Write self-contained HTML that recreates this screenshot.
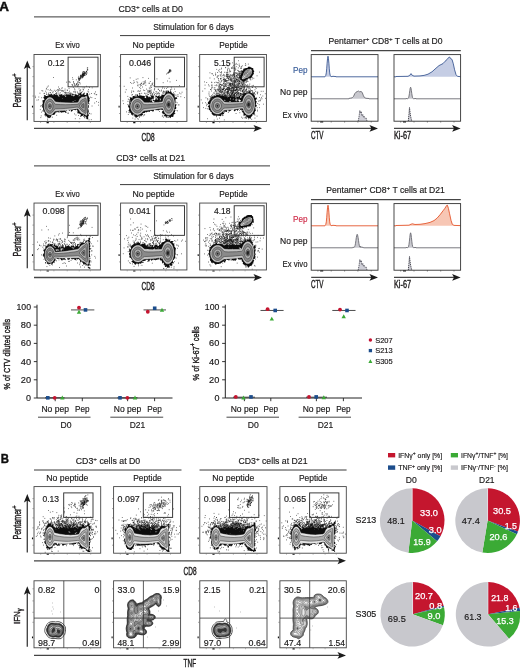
<!DOCTYPE html>
<html><head><meta charset="utf-8"><title>Figure</title>
<style>html,body{margin:0;padding:0;background:#fff}svg{display:block}text{font-family:"Liberation Sans",sans-serif}</style>
</head><body>
<svg width="520" height="670" viewBox="0 0 520 670" font-family="Liberation Sans, sans-serif">
<defs><filter id="fb" x="-5%" y="-5%" width="110%" height="110%"><feGaussianBlur stdDeviation="0.22"/></filter><filter id="gb" filterUnits="userSpaceOnUse" x="0" y="0" width="520" height="670"><feGaussianBlur stdDeviation="0.28"/></filter></defs>
<rect width="520" height="670" fill="#fff"/>
<g filter="url(#gb)">
<g filter="url(#fb)">
<path d="M69.5 93.8h0.7M67.3 90.3h0.7M51.4 114.9h0.7M84.0 117.4h0.7M72.8 94.5h0.7M74.1 88.9h0.7M94.8 98.5h0.7M72.4 94.2h0.7M46.2 115.5h0.7M62.3 90.8h0.7M70.8 93.8h0.7M96.4 94.6h0.7M75.4 85.7h0.7M52.9 91.8h0.7M72.9 87.4h0.7M80.3 95.7h0.7M58.7 94.7h0.7M89.3 87.4h0.7M86.3 86.3h0.7M64.8 95.6h0.7M78.3 115.5h0.7M86.4 94.4h0.7M38.0 99.8h0.7M76.6 109.4h0.7M75.6 115.0h0.7M78.3 93.5h0.7M89.3 113.5h0.7M41.6 90.6h0.7M52.2 92.3h0.7M42.1 110.9h0.7M55.8 90.4h0.7M75.2 91.8h0.7M68.7 88.6h0.7M66.4 112.2h0.7M51.9 117.2h0.7M72.4 95.0h0.7M46.9 87.1h0.7M93.9 93.4h0.7M47.0 116.4h0.7M65.4 92.3h0.7M66.9 92.8h0.7M87.6 91.2h0.7M75.7 84.8h0.7M67.5 107.0h0.7M50.1 89.4h0.7M47.1 119.1h0.7M43.1 108.9h0.7M40.8 115.9h0.7M70.2 93.1h0.7M89.4 94.1h0.7M41.0 112.2h0.7M58.6 93.3h0.7M91.1 93.5h0.7M46.0 94.3h0.7M91.7 106.0h0.7M86.9 108.2h0.7M74.0 113.9h0.7M91.5 97.6h0.7M47.7 89.7h0.7M74.6 89.9h0.7M98.0 105.2h0.7M82.7 87.9h0.7M53.4 95.0h0.7M73.6 101.7h0.7M67.8 112.9h0.7M59.1 88.6h0.7M43.0 109.4h0.7M58.1 87.0h0.7M46.0 88.4h0.7M81.4 92.4h0.7M56.4 115.3h0.7M88.8 103.9h0.7M41.0 105.7h0.7M80.4 89.8h0.7M65.2 93.2h0.7M34.9 96.2h0.7M78.7 88.9h0.7M65.5 95.0h0.7M65.7 93.9h0.7M90.7 113.9h0.7M59.0 112.0h0.7M71.8 94.1h0.7M48.3 94.4h0.7M46.5 94.3h0.7M79.5 118.7h0.7M58.5 89.3h0.7M84.0 87.8h0.7M72.1 94.4h0.7M57.1 89.6h0.7M55.6 112.5h0.7M73.2 91.8h0.7M88.7 119.8h0.7M64.2 94.7h0.7M88.1 114.3h0.7M50.8 94.0h0.7M61.8 87.7h0.7M65.8 94.4h0.7M36.6 100.1h0.7M83.0 89.9h0.7M72.9 94.7h0.7M98.2 102.4h0.7M55.2 93.6h0.7M56.0 93.2h0.7M52.7 94.2h0.7M91.8 87.8h0.7M74.5 94.6h0.7M66.8 90.1h0.7M69.2 93.0h0.7M84.4 95.1h0.7M80.2 90.8h0.7M55.6 94.1h0.7M50.2 92.6h0.7M44.3 93.4h0.7M51.4 95.1h0.7M45.9 92.8h0.7M53.9 90.3h0.7M90.9 119.6h0.7M56.5 93.5h0.7M74.2 91.9h0.7M76.9 91.9h0.7M50.0 117.2h0.7M68.2 94.2h0.7M65.8 92.6h0.7M83.9 93.0h0.7M49.7 90.4h0.7M65.2 95.4h0.7M40.5 117.6h0.7M39.6 93.2h0.7M64.6 90.8h0.7M66.7 94.1h0.7M61.6 90.6h0.7M40.1 106.1h0.7M79.1 96.3h0.7M68.1 92.7h0.7M57.6 90.8h0.7M64.7 89.1h0.7M51.5 90.7h0.7M38.5 97.0h0.7M61.5 88.7h0.7M88.4 92.0h0.7M67.7 113.5h0.7M59.2 90.2h0.7M68.2 95.1h0.7M48.0 93.2h0.7M47.4 120.1h0.7M41.4 97.7h0.7M48.2 94.8h0.7M45.9 89.1h0.7M82.4 91.4h0.7M76.9 111.5h0.7M49.7 92.7h0.7M45.4 91.2h0.7M81.3 92.4h0.7M86.4 93.7h0.7M95.8 94.7h0.7M45.3 115.7h0.7M47.9 86.0h0.7M74.9 118.7h0.7M82.8 89.5h0.7M95.1 91.9h0.7M58.3 90.3h0.7M63.0 90.9h0.7M62.5 94.3h0.7M60.1 90.1h0.7M35.2 97.6h0.7M79.1 94.3h0.7M88.8 113.2h0.7M64.0 92.8h0.7M45.6 116.1h0.7M59.9 92.8h0.7M78.6 94.4h0.7M79.2 90.9h0.7M69.3 91.2h0.7M88.1 89.6h0.7M72.6 94.6h0.7M65.0 112.5h0.7M62.8 91.7h0.7M72.0 102.1h0.7M71.4 110.3h0.7M61.4 91.0h0.7M66.2 82.2h0.7M84.6 117.9h0.7M51.6 96.3h0.7M53.3 77.5h0.7M81.8 77.6h0.7M39.9 109.6h0.7M59.9 99.2h0.7M72.4 84.8h0.7M79.5 82.7h0.7M72.3 85.3h0.7M77.6 84.8h0.7M73.3 81.6h0.7M77.0 86.4h0.7M73.9 85.4h0.7M78.3 85.9h0.7M74.3 84.7h0.7M78.0 84.5h0.7M77.7 82.5h0.7M72.2 77.7h0.7M76.4 83.6h0.7M77.3 81.9h0.7M76.3 84.0h0.7M73.1 82.2h0.7M69.8 82.3h0.7M72.6 79.4h0.7M68.8 82.1h0.7M79.8 83.9h0.7M68.7 81.4h0.7M76.2 84.5h0.7M73.6 83.3h0.7M71.6 84.7h0.7M78.9 82.4h0.7M74.1 83.7h0.7M76.8 85.4h0.7M77.5 83.6h0.7M48.9 94.8h0.7M57.2 95.9h0.7M75.0 92.9h0.7M56.3 96.3h0.7M96.1 101.6h0.7M68.5 97.7h0.7M71.2 97.1h0.7M60.6 96.7h0.7M68.4 96.4h0.7M78.3 94.7h0.7M70.7 93.1h0.7M69.8 94.3h0.7M68.4 97.3h0.7M76.4 98.8h0.7M69.1 99.7h0.7M57.0 102.3h0.7M52.1 97.2h0.7M67.6 95.7h0.7M78.0 94.9h0.7M62.0 96.9h0.7M57.7 96.8h0.7M64.1 99.8h0.7M72.5 95.5h0.7M67.4 99.7h0.7M46.4 98.1h0.7M78.6 93.2h0.7M43.7 93.4h0.7M55.0 91.5h0.7M70.7 94.7h0.7M53.0 97.4h0.7M68.8 96.5h0.7M66.1 100.3h0.7M84.2 99.4h0.7M87.7 100.0h0.7M74.7 96.1h0.7M77.3 92.9h0.7M69.6 97.7h0.7M57.8 98.2h0.7M70.4 94.3h0.7M57.7 91.9h0.7M65.1 99.4h0.7M54.3 97.4h0.7M56.4 92.7h0.7M76.7 97.5h0.7M45.6 99.0h0.7M64.7 92.5h0.7M94.5 94.0h0.7M79.6 99.5h0.7M79.5 93.1h0.7M77.4 102.7h0.7M54.6 101.3h0.7M79.4 97.3h0.7M58.6 97.6h0.7M90.1 97.2h0.7M75.3 96.3h0.7M42.5 91.0h0.7M94.4 103.0h0.7M80.6 97.3h0.7M60.7 102.1h0.7M70.3 100.7h0.7M86.1 74.2h0.7M78.3 78.1h0.7M84.1 75.2h0.7M84.1 71.9h0.7M81.1 75.0h0.7M82.2 74.3h0.7M83.0 71.5h0.7M82.2 73.9h0.7M83.5 74.6h0.7M79.6 79.1h0.7M82.8 74.5h0.7M79.8 77.9h0.7M83.7 73.8h0.7M86.0 71.6h0.7M87.5 69.8h0.7M87.4 67.8h0.7M83.5 72.5h0.7M85.3 72.4h0.7M81.9 76.7h0.7M83.1 73.6h0.7M86.7 73.0h0.7M83.4 75.2h0.7M86.9 69.1h0.7M79.2 80.0h0.7M75.9 79.8h0.7M83.1 75.6h0.7M83.6 73.6h0.7M83.2 75.8h0.7M83.1 76.9h0.7M83.6 73.3h0.7M82.2 77.8h0.7M82.1 73.9h0.7M84.9 73.3h0.7M80.0 78.9h0.7M80.3 76.4h0.7M81.9 74.1h0.7M82.8 74.7h0.7M83.1 73.6h0.7M81.2 76.1h0.7M78.6 79.7h0.7M78.1 79.0h0.7M78.9 78.4h0.7M81.8 75.8h0.7M78.9 80.4h0.7M84.4 73.9h0.7M81.3 77.9h0.7M80.3 75.9h0.7M85.9 71.6h0.7M81.5 75.8h0.7M83.4 75.9h0.7M81.2 76.2h0.7M81.0 76.0h0.7M85.2 73.7h0.7M80.4 77.6h0.7M77.9 77.8h0.7M82.3 74.5h0.7M86.0 74.6h0.7M83.8 75.5h0.7M82.6 75.0h0.7M80.7 77.0h0.7M83.7 71.5h0.7M84.2 75.2h0.7M83.9 74.5h0.7M80.7 76.1h0.7M82.5 74.3h0.7M83.7 73.7h0.7M84.5 73.0h0.7M78.1 78.7h0.7M80.0 78.3h0.7M82.5 72.3h0.7M82.0 77.0h0.7M80.0 75.2h0.7M82.3 75.3h0.7M82.5 74.5h0.7M79.1 78.9h0.7M84.2 73.6h0.7M82.4 75.1h0.7M82.6 76.5h0.7M81.8 76.6h0.7M82.4 72.2h0.7M78.7 79.8h0.7M82.6 76.3h0.7M86.8 70.5h0.7M79.2 79.9h0.7M86.5 72.0h0.7M82.2 77.0h0.7M79.0 78.2h0.7M85.8 73.5h0.7M87.0 69.5h0.7M78.8 78.3h0.7M82.8 74.9h0.7M83.3 74.3h0.7M82.5 73.9h0.7M78.5 76.4h0.7M83.7 74.9h0.7M80.1 76.7h0.7M82.6 75.4h0.7M80.5 77.4h0.7M82.1 75.0h0.7M85.7 72.3h0.7M82.8 75.5h0.7M78.3 81.1h0.7M80.3 75.6h0.7M85.1 75.1h0.7M86.9 67.8h0.7M80.3 78.1h0.7M84.2 72.7h0.7M82.6 75.1h0.7M84.3 72.8h0.7M86.1 71.4h0.7" stroke="#111" stroke-width="0.75" fill="none"/>
<path d="M88.0 119.2l-1 0l-.5-.2l-.2-.5l0-1l-.6-1l-.2-.1l-.5 .2l-.5 0l-1 .2l-.2-.3l0-.5l.2-.2l.3-.8l-.3-.4l-.5 .4l-.1 .5l-.4 .4l-1 .1l-.1 .5l-.4 .3l-.5 0l-.4-.3l.1-.5l.8-1.1l0-.6l-1-.1l-1-.9l-1 .3l-.2-.1l-.4-.5l0-.5l.2-.5l.5-.5l-1.2-1.5l-.1-.5l-.3-.2l-.3 .2l-.2 .5l-.5 .3l-1-.4l-1 0l-.5 .1l-.6 1l-1.4 .7l-.1-.2l0-1l-.4-.6l-.5 .2l-.5 .8l-.5-.1l-.5-.7l-1-.5l-.3 .4l0 .5l-.2 .4l-.5 0l-.5-.8l-.5 .1l-.2 .3l.2 .2l.5 1l.4 .3l-.4 .4l-1-.1l-.4-.3l-.1-.2l-.1 .2l-.9 .3l-1-.1l-1 .5l-.5-.1l-1.5-1l-.5-.7l-.1 1.1l-.4 .5l-1.3-.5l-.2-.5l-.2 .5l-1.4 .5l-.3 1.5l-.6 .5l-1 .4l-.5-.1l-1.5 .1l-.4 1.1l0 1l-1.1-.1l-.5-.5l-.5-.1l0 .3l.5 0l.7 .9l-.7 .5l-.5 .2l-.4-.2l-.6-.6l-.5 0l-.5-.2l-.1-.2l.1-.5l-1-1l-.5-.2l-.5 .1l-.5-.1l-.2-.3l.6-1l0-.5l-.1-.5l-.3-.4l-.5-.1l.5-.1l.3-.4l-.8-.6l-.5 .2l-.5-.6l.5-.5l-.1-.5l-.5-2l-.7-1l-.1-.5l.3-1l-.4-.5l.2-.5l.5-.5l.1-1l-.1-1l-.2-1l0-.5l.5-.4l.5 .1l.6-.2l.3-.5l0-.5l-.9-1l0-1l.7-.5l.3-.5l-.8-1l.3-.2l.5 .1l.5 .4l.5 .2l.8 .5l.7 .1l1-.6l.5-.1l.7-.9l1.8-.3l.5-.4l.3 .2l.2 .5l.5 .4l.5 .3l.5 0l0-.2l.8-1l.2-.1l.5 .3l.5 .7l.5-.2l.5-.4l.7 .2l.4 .5l.4 .9l.6 .6l.4 .1l.5-.1l0-.5l-.8-.5l0-.5l.3-.4l.5 .2l.5 0l1-.6l.5-.1l.6 .4l-.2 .5l.6 .3l.5 0l1-.4l1.1 1.1l.4 .9l.6-.4l.1-.5l-.4-1l.7-.6l.5-.1l.7 .2l.2 .5l.1 .1l1 0l.2-.6l.8-.1l.5 .2l1 .9l1 .6l1 .2l1.1-.3l.1-.5l-.1-.5l.1-.5l.3-.3l.5 0l1 .2l.5 .6l.5 .3l.5-.8l1 1l-.3 .5l.1 .5l.2 .1l1.6-1.1l-.1-.3l-1 .3l-.5-.2l-.2-.3l.2-.1l.7-1.9l.8-.5l.5 .2l.4 .3l-.1 1l.2 .5l.5 .1l.5-.2l.5-.8l1-.4l.5-.5l.3 .3l-.1 .5l-.4 .5l-.1 .5l.3 .6l1.5-.1l.5-.4l.4-.6l-.2-1l.3-.3l.6 .3l.4 .5l.3 1.5l0 1l.5 .5l.7 1.5l.4 .5l-.6 1l.4 1l-.1 .5l-.8 1l-.1 .5l.4 1l-.1 .2l-1 .1l-.1 .2l.1 .6l.8 .9l-.1 1l.3 .5l-.1 .5l-.4 .1l-.4 .4l-.1 .5l.3 .5l.1 .5l-.2 .5l.5 .5l.2 .5l-.5 1.5l-.1 .5l-.5 1l.1 .5l.6 .1l.4 .9l-.3 .5l-.6 .5l.2 .5l-.1 1l.2 1zM47.5 94.7l-.1-.7l.1-.1l.1 .1zM73.0 94.5l-.2-.5l.2-.2l.4 .2zM68.5 94.7l-.2-.2l.2-.2l.4 .2zM52.0 95.0l-.7 0l.2 .3zM55.7 96.5l-.6 0l.4 .1zM62.5 99.0l.1-.5l-.1-.4l-.3 .4zM60.1 99.5l-.6 0l.5 .1zM57.0 100.0l0 .1zM75.4 100.5l-.4-.5l-.3 .5l.3 .4zM60.5 101.5l-.5-.2l-.1 .2l.1 .1zM73.6 101.5l-.1-.4l-.5 0l-.5 .3l-.5 .1l1 .3l.5 0zM69.1 105.0l-.3 0l.2 .2zM87.1 108.0l-.1 .1zM64.6 111.0l-.1-.5l0 .8zM62.0 113.1l-.1-.1l.1-.1zM54.6 113.5l-.1-.1l-.1 .1l.1 .1zM53.0 115.6l0-.3l.2 .2zM53.0 117.7l-.3-.2l.3-.1l.1 .1z" fill="#0c0c0c"/>
<path d="M86.5 115.4l-.5-.1l-2-1.5l-.5-.2l-1.5-.4l-1-.5l-.5-.5l-.6-.7l-1.4-2.5l-.5-.3l-.5-.1l-1 .1l-7 1l-4 .6l-4 .3l-6 .5l-.5 .1l-.5 .4l-1.7 1.9l-.8 .7l-.5 .2l-.5 .3l-1 .2l-1-.1l-.5-.2l-1-.5l-.5-.4l-.6-.7l-1-1.5l-.6-1.5l-.5-2l-.1-1.5l.1-2l.5-2l.3-1l.5-1l.7-1l.7-.8l.5-.4l1-.5l.5-.2l1 0l1 .1l1 .5l1 .9l1.5 2l.5 .5l.5 .3l.5 .2l4 .4l5.5 .3l5.5 .1l6-.1l.5-.1l.5-.2l.5-.5l1.1-2.5l.6-1l.8-.8l.5-.3l.5-.2l.5-.1l.5 0l1 .1l.5 0l.5-.2l1-.7l.5-.1l.3 .3l.2 1l.4 5.5l.1 2l-.1 2l-.3 4l-.1 3l-.2 1z" fill="#c2c2c2" stroke="#f2f2f2" stroke-width="0.4"/>
<path d="M86.0 113.2l-.5 .3l-.5-.3l-1.5-1.1l-1.6-1.1l-.9-.8l-1.8-2.2l-.7-.5l-.5-.3l-1-.1l-7.4 .9l-4.1 .4l-3.5 .2l-6.5 .2l-.5 .2l-.5 .3l-2 2.7l-1 .8l-1 .4l-1 .1l-.5-.1l-1-.5l-1-.9l-.8-1.3l-.4-1l-.4-1.5l-.2-1.5l.1-1.5l.3-1.5l.3-1l.5-1l.6-.9l.5-.5l1-.7l.5-.2l1-.1l1 .2l1 .7l1 1.1l1.5 2.4l.5 .5l.5 .2l.5 .1l4.5 .3l5 .1l5-.1l6.5-.3l1-.2l.5-.3l.5-.3l.5-.5l.3-.5l.9-1.5l.8-1l.5-.3l2-.8l1.5-.8l.5 .2l.2 .7l.3 5l0 2.5l-.3 5l0 1z" fill="#8a8a8a" stroke="#2a2a2a" stroke-width="0.5"/>
<path d="M84.5 110.7l-.5-.1l-.5-.4l-1.5-1.3l-1.8-1.9l-.4-.5l-.3-.5l0-.5l.3-.5l1.7-2l1-.9l1-.8l.5-.4l.5-.1l.3 .2l.2 .5l.2 1.5l0 2.5l-.1 2.5l-.1 1.9l-.2 .6zM51.0 110.6l-.5 .3l-.5 .1l-.5 0l-.5-.2l-.5-.2l-.5-.5l-.5-.7l-.4-.9l-.3-1l-.1-1l0-1l.2-1l.3-1l.6-1l.5-.5l.7-.4l.5-.2l.5 0l.5 .1l.5 .3l.5 .4l.5 .6l.4 .7l.5 1.5l.1 1.5l-.2 1.5l-.4 1l-.4 .7l-.5 .6z" fill="#adadad" stroke="#2a2a2a" stroke-width="0.5"/>
<path d="M83.5 108.0l-.5-.1l-.5-.3l-1-1.1l-.2-.5l0-.5l.3-.5l.4-.5l.5-.5l.5-.4l.5-.1l.3 .5l.1 .5l.1 1l-.1 1.5l-.1 .5zM50.0 108.7l-.5-.1l-.5-.3l-.3-.3l-.3-.5l-.1-.5l-.1-1l.1-.5l.2-.7l.5-.7l.5-.3l.5-.1l.5 .2l.5 .6l.2 .5l.2 1l0 1l-.4 .9l-.5 .6z" fill="#787878" stroke="#2a2a2a" stroke-width="0.5"/>
<path d="M50.0 107.1l-.5-.1l-.2-.5l0-.5l.2-.6l.5-.1l.2 .2l.2 .5l0 .5z" fill="#222"/>
</g>
<path d="M32.4 66.6h1.3M32.4 76.6h1.3M32.4 86.0h1.3M32.4 96.0h1.3M32.4 113.5h1.3M40.6 122.0v0.9M53.9 122.0v0.9M67.2 122.0v0.9M79.2 122.0v0.9M90.4 122.0v0.9" stroke="#555" stroke-width="0.5"/>
<path d="M32.5 105.8v1.8M46.6 122.6h2.2" stroke="#111" stroke-width="1.1"/>
<g filter="url(#fb)">
<path d="M155.1 98.0h0.7M123.0 103.6h0.7M165.8 90.9h0.7M140.4 88.6h0.7M146.1 96.1h0.7M149.7 91.5h0.7M150.4 100.4h0.7M152.9 100.2h0.7M147.0 91.9h0.7M151.1 87.5h0.7M152.3 94.3h0.7M130.1 82.5h0.7M177.8 96.3h0.7M142.2 87.0h0.7M158.2 89.4h0.7M180.5 96.7h0.7M176.8 102.8h0.7M130.0 112.5h0.7M164.6 93.1h0.7M162.6 86.9h0.7M160.7 96.4h0.7M150.6 94.6h0.7M162.8 82.7h0.7M181.7 92.2h0.7M130.1 99.2h0.7M133.8 115.0h0.7M173.6 93.8h0.7M150.7 86.0h0.7M148.1 94.4h0.7M168.8 78.3h0.7M132.2 115.2h0.7M139.0 116.5h0.7M149.9 90.5h0.7M175.6 110.5h0.7M135.8 94.8h0.7M153.6 92.8h0.7M164.3 91.8h0.7M145.0 95.1h0.7M150.6 100.2h0.7M150.3 95.7h0.7M146.6 93.3h0.7M127.9 114.5h0.7M170.9 87.3h0.7M177.6 94.6h0.7M153.9 90.0h0.7M162.1 88.1h0.7M173.0 92.7h0.7M163.4 91.0h0.7M153.2 92.1h0.7M122.6 100.8h0.7M159.7 96.6h0.7M137.5 118.4h0.7M124.9 92.1h0.7M137.5 91.2h0.7M148.0 100.6h0.7M153.0 98.6h0.7M142.0 114.1h0.7M147.9 90.8h0.7M128.8 112.6h0.7M144.4 114.8h0.7M157.8 89.2h0.7M177.1 110.8h0.7M132.5 118.1h0.7M135.5 117.6h0.7M152.5 93.9h0.7M129.6 97.4h0.7M130.8 102.4h0.7M128.6 110.8h0.7M139.7 93.9h0.7M179.2 93.0h0.7M151.0 92.0h0.7M176.8 96.2h0.7M170.2 90.4h0.7M174.1 89.1h0.7M144.4 93.2h0.7M140.9 95.6h0.7M185.9 89.1h0.7M149.9 87.1h0.7M131.0 91.1h0.7M164.1 88.3h0.7M128.8 99.7h0.7M155.0 96.7h0.7M151.3 100.6h0.7M146.2 89.1h0.7M159.0 90.5h0.7M156.3 94.9h0.7M180.6 93.8h0.7M134.1 96.2h0.7M178.7 104.9h0.7M130.9 113.4h0.7M149.7 93.4h0.7M139.3 91.3h0.7M132.8 91.0h0.7M125.8 89.7h0.7M148.7 91.4h0.7M148.9 88.0h0.7M142.8 115.8h0.7M157.1 93.8h0.7M132.0 94.5h0.7M163.5 92.1h0.7M133.8 115.8h0.7M167.2 81.0h0.7M144.7 93.4h0.7M166.0 91.3h0.7M133.4 91.6h0.7M170.2 89.6h0.7M154.4 88.8h0.7M162.6 92.3h0.7M184.3 97.6h0.7M153.0 98.6h0.7M137.8 119.3h0.7M167.5 87.4h0.7M130.7 112.3h0.7M154.2 89.0h0.7M161.9 116.2h0.7M135.0 95.0h0.7M158.2 92.8h0.7M161.0 90.1h0.7M164.7 116.4h0.7M156.6 92.2h0.7M149.3 90.4h0.7M131.0 113.2h0.7M151.2 93.0h0.7M148.4 92.3h0.7M165.5 91.7h0.7M155.2 99.5h0.7M159.4 96.5h0.7M175.6 95.1h0.7M155.3 95.9h0.7M141.4 93.3h0.7M150.0 93.4h0.7M149.4 91.9h0.7M166.4 91.7h0.7M152.7 100.4h0.7M138.9 93.4h0.7M128.7 112.6h0.7M138.1 90.9h0.7M174.8 91.6h0.7M155.4 93.4h0.7M139.0 117.4h0.7M162.5 115.7h0.7M149.7 88.8h0.7M166.0 88.5h0.7M163.3 117.2h0.7M155.7 91.5h0.7M144.4 90.5h0.7M161.4 91.0h0.7M139.2 93.8h0.7M165.7 92.7h0.7M177.9 104.9h0.7M154.3 94.3h0.7M143.1 90.1h0.7M169.7 81.9h0.7M126.2 111.9h0.7M163.0 91.6h0.7M148.8 92.0h0.7M136.6 96.7h0.7M127.6 101.4h0.7M146.5 95.5h0.7M131.0 92.6h0.7M136.1 96.1h0.7M174.5 97.5h0.7M150.9 90.1h0.7M162.5 93.2h0.7M161.3 95.1h0.7M159.6 91.1h0.7M174.5 95.1h0.7M156.7 93.5h0.7M139.2 94.1h0.7M127.5 96.4h0.7M158.5 93.7h0.7M127.5 104.6h0.7M135.4 96.1h0.7M147.7 94.5h0.7M158.8 95.6h0.7M152.0 94.0h0.7M158.9 95.0h0.7M146.8 95.0h0.7M154.3 94.9h0.7M127.9 99.2h0.7M171.4 89.1h0.7M150.0 92.1h0.7M143.8 114.8h0.7M131.5 95.0h0.7M140.1 90.9h0.7M147.5 90.3h0.7M134.7 119.1h0.7M163.0 93.9h0.7M149.4 91.2h0.7M179.1 85.6h0.7M159.0 93.4h0.7M159.1 111.5h0.7M144.5 81.3h0.7M156.6 78.9h0.7M150.6 103.7h0.7M138.6 106.2h0.7M176.3 80.4h0.7M132.1 88.0h0.7M173.9 110.4h0.7M140.0 86.0h0.7M151.7 83.8h0.7M141.1 83.3h0.7M143.0 83.8h0.7M148.3 78.4h0.7M136.6 81.8h0.7M123.8 86.3h0.7M139.4 87.5h0.7M150.6 85.6h0.7M135.8 79.3h0.7M148.8 83.0h0.7M142.8 81.9h0.7M149.9 81.5h0.7M145.4 82.9h0.7M131.5 83.4h0.7M144.1 83.1h0.7M137.4 82.8h0.7M152.8 85.8h0.7M137.6 78.8h0.7M143.6 84.0h0.7M140.2 84.1h0.7M145.5 85.3h0.7M133.1 83.1h0.7M141.0 85.3h0.7M152.3 84.0h0.7M152.5 83.0h0.7M137.1 85.2h0.7M134.2 82.3h0.7M148.8 83.5h0.7M145.1 80.9h0.7M133.5 80.7h0.7M137.7 85.9h0.7M144.6 82.2h0.7M129.8 77.9h0.7M151.8 84.6h0.7M140.0 84.8h0.7M142.6 77.6h0.7M141.2 83.3h0.7M138.7 84.7h0.7M142.6 84.3h0.7M168.4 72.2h0.7M168.6 72.2h0.7M170.7 71.1h0.7M168.9 70.3h0.7M170.5 70.3h0.7M167.6 72.5h0.7M169.5 71.5h0.7M169.1 71.7h0.7M169.0 70.5h0.7M167.4 73.4h0.7M169.5 72.4h0.7M169.6 69.5h0.7M169.0 70.1h0.7M166.2 74.0h0.7M169.2 71.3h0.7M168.1 72.1h0.7M168.3 73.0h0.7M169.4 70.6h0.7M169.8 70.4h0.7M169.8 71.2h0.7M169.8 71.2h0.7M170.0 70.2h0.7" stroke="#111" stroke-width="0.75" fill="none"/>
<path d="M170.6 118.3l-.1-.3l-1-.5l-.3-.5l0-.5l-.6-.3l-.5 .2l-1-.1l-.2 .2l0 .5l.2 .4l.5-.1l.5-.4l.5 .3l.2 .3l-.7 .4l-1-.4l-.5 .1l-.5-.1l-.5-.5l0-.6l1-.4l-2-.1l-.5-.2l-.1-.2l.2-.5l.4-.5l.1-.5l-1.1-.3l-.5 .7l-.4-.4l-.1-1l-.7-.5l-.1-.5l.8-.9l.5-.3l0-.4l-.5-.5l-2-.3l-.5 0l-2 .9l-.2 0l-.3-.4l-2 .1l-.5-.7l-.5 0l-.5 .5l-.1 .5l-.9 1.2l-.5-.2l-.5-.5l-.5 0l-1-.3l-.6 .3l-.1 .5l-.3 .6l-1-.3l-.5-.4l-1 .5l-.5 .1l-.5 .7l-.2-.2l-.3-1.1l-.2 .6l-.3 .2l-.5 .8l-.5-.1l-.5 .1l-1 .5l.1 .5l.3 .5l-.4 .4l-.5 .1l-1 1.6l-.4-.1l0-.5l-.4-.5l-.2-.1l-.2 .1l-.3 .3l-1 .2l-.4-.5l.1-.5l-.2-.5l-.6 0l-.7 .5l1.3 .5l.5 .5l-.2 .5l-.3 .3l-.5 .2l-.5-.2l-.2 .2l.3 .5l-1 0l-.5-.5l.5-.5l-.1 0l-.5 .4l-.5-.1l-.4-.3l-.3-.5l0-.5l.2-.5l-.5-.7l-.7 .2l-.3 .3l-1.5 .1l-.3-.4l-.2-1.5l-1.8-1.5l-.5-1l0-.5l.3-.6l.2-1.4l-.4-.5l-.3-.1l-.4-.4l-.1-1.5l.5-.4l.5 .3l.5-.1l.2-.3l-.2-.2l-.5-.2l-.5 .1l-.1-.2l.6-.3l.5-.7l1-.8l0-.3l-.4-.4l.1-1.5l-.2-.3l-.4-.2l.4-.5l.1-.5l-.3-.5l.4-1l.3-.4l.5 .4l.5 .2l.5-.1l.5 .6l.5 0l.1-.2l-.1-.1l-.5-.1l-.3-.3l.3-1l.5-.4l.5-.2l3.5 .9l.2-.3l-.3-.5l-.1-.5l0-1l.2-.3l.6 .3l.6 1.5l.3 .1l.5-.7l1-.5l.5 .6l1 .6l0-.1l1-.3l.5 .2l.5-.1l1.5 .7l.1 .5l-.8 .5l.2 .3l1.5 .4l.2-.2l-.1-.5l-.5-.5l-.1-.5l.5-.2l1-.3l1 .2l.3 .3l0 .5l.2 .2l.5 0l.5-.6l1.5 1.2l.1-.8l-.4-1l.3-.4l.5-.3l1 .1l.5-.1l.4 .2l0 .5l.6 .8l.3 .2l-.2 .5l-1.1 .5l-.5 1l-.5 .5l-1.5 .3l-.2 .2l.2 1.5l.1-.5l.9-.3l.5 .3l0 .5l1 1.3l1-.6l.2-.2l.1-.5l-.3-.3l-.5 .1l-.5-.3l-.2-.5l.2-.3l.4-.2l-.2-.5l.3-.2l.1 .7l.4 .3l.5 0l.6-.3l.6-.5l0-1l.3-.3l.5 0l.3 .3l-.2 1l.4 .2l.6-.2l.1-.5l-.2-.7l-.7-.3l-.3-.7l-.9-.8l.1-.5l.8-.2l1 .7l.5-.5l.5-.2l.6 .7l.4 .3l1-.2l.5-.3l.7-1.3l.3-.3l.5-.1l.5 .5l1 0l1.3-1.6l-.1-.5l1.3-1.4l.6 .4l.4 .6l.1-.6l-.5-1l.4-.4l.5-.1l.5 .2l.4 .3l.1 1l.6 0l.1-.5l.3-.3l.5 .1l.5-.1l.3 .3l-.4 .5l.7 .5l.8 1l.6 .2l.5 .5l.8 .3l-.2 .5l.6 1.5l.1 .5l-.3 .5l.5 .4l.4-.4l.1-.4l.5-.1l.7 .5l.5 1l-.7 .4l-.6 .1l-.6 .5l.2 .5l-.2 1l.2 1l-.1 .5l-.4 .5l.3 1.5l.2 .1l.5-.5l.4 .4l-.1 .5l-.6 1.5l0 .5l.5 .5l.1 .5l-.5 1l-1.3 .4l-1 .1l.5 .1l.8 .9l.2 1.3l-.1 .2l-.6 .5l.1 .5l.1 .2l.5 0l.3 .3l-.2 .5l-.6 .3l-.5-.3l-.4 .5l.1 .5l-.2 .5l-.6 .5l.5 .5l-.4 .4l-1.5-.1l-.5 .2l-.3 .5l0 .5zM174.6 94.4l-.3-.4l.3-.2l.3 .2zM132.6 95.9l0-.4l.3 0zM154.6 98.1l0-.2zM160.2 100.5l.1-.5l.3-.1l.2-.4l-.7-1.2l-.3 .2l.2 1.5l-.2 .5l.3 .4zM148.1 100.5l0-.5zM129.6 103.5l-.6-.5l.2-.5l.4-.5l-.6-.5l0-.5l.1-.5l.5 .1l.2 .4l-.2 1l.5 .5l0 .5zM149.3 102.5l-.2-.6l-.2 .6l.2 .2zM176.1 102.6l-.3-.1l-.1-.5l.4-.2l.5 .2zM157.6 109.5l0 .4zM154.6 110.6l-.1-.1zM142.3 114.0l.2-.5l-.6 0l0 .5zM140.1 117.1l-.1-.1l.1-.3l.1 .3z" fill="#0c0c0c"/>
<path d="M169.1 115.1l-1 0l-1-.3l-1-.7l-.5-.4l-.6-.7l-.6-1l-.5-1l-.8-2.1l-.5-.6l-.5-.1l-1 .1l-9 1.4l-7.5 .8l-1 .3l-.5 .4l-1.2 1.3l-.8 .7l-1 .7l-.5 .2l-1 .3l-1 .1l-1 0l-1-.2l-1-.5l-1-.7l-.5-.4l-1-1.2l-.8-1.5l-.5-1.5l-.2-1.5l.1-2l.3-1.5l.4-1l.5-1l.7-1l1-1l.5-.4l1-.6l1-.3l1-.1l1.5 .1l1.5 .5l1 .7l.5 .4l2 2.3l.5 .4l1 .2l3 .1l4.5-.1l5.5-.3l3-.3l.8-.1l.2-.1l.5-.4l.3-.5l.5-2l.6-1.5l.9-1.5l.7-.9l1-.8l1-.5l1-.1l1 .1l1 .5l1 .8l1 1.3l.6 1.1l.6 1.5l.5 2l.2 2l.1 2l-.2 2l-.4 2l-.5 1.5l-.6 1.5l-.7 1l-1.1 1.1l-1 .7z" fill="#c2c2c2" stroke="#f2f2f2" stroke-width="0.4"/>
<path d="M169.6 113.0l-.5 .1l-1 0l-1-.3l-.5-.4l-.9-.9l-.6-1l-.5-1l-.5-1.5l-.5-.9l-.5-.4l-.5-.1l-1 .1l-5.8 .8l-4.1 .5l-6.6 .5l-1 .1l-.5 .2l-.5 .3l-2 2.3l-.7 .6l-.8 .5l-1 .4l-1 .2l-.5 0l-1-.2l-1-.4l-1-.7l-1-1.2l-.6-1.1l-.5-1.5l-.2-1l.1-1.5l.1-1l.3-1l.5-1l.7-1l.4-.5l.7-.5l1-.6l.5-.2l1-.2l1 .1l.5 .1l1 .4l.5 .3l.5 .4l.8 .7l1.7 2.4l.5 .4l.5 .2l.5 .1l2.5 .1l4.5-.2l5-.3l5.5-.6l.5-.2l.5-.2l.5-.7l.8-2.5l.3-1l.5-1l.9-1.2l.5-.4l1-.6l.5-.1l1 0l1 .3l.6 .5l.9 .9l.7 1.1l.6 1.5l.3 1.5l.2 1l.1 1.5l0 1.5l-.2 1.5l-.4 1.5l-.5 1.5l-.5 1l-.3 .5l-1 .9z" fill="#8a8a8a" stroke="#2a2a2a" stroke-width="0.5"/>
<path d="M169.6 110.1l-.5 .2l-.5 .1l-.5-.1l-.5-.2l-.7-.6l-.4-.5l-.6-1l-.9-2.5l-.1-.5l0-.5l.7-2.7l.3-.8l.5-1l.7-.9l.5-.4l.5-.2l.5 0l.5 0l.5 .2l.5 .4l.8 .9l.3 .5l.4 1l.3 2l0 1.5l-.1 1l-.5 2l-.4 1l-.3 .4l-.5 .4zM138.6 110.6l-.5 .2l-1 .1l-1-.3l-.5-.3l-.5-.4l-.7-.9l-.3-.5l-.3-1l-.2-1l.1-1l.2-1l.2-.5l.5-.8l.5-.5l.5-.4l1-.5l.5-.1l1 .1l1 .4l.5 .4l.5 .5l.6 .9l.3 .5l.3 1l.1 1l-.1 .5l-.1 .5l-.4 1l-.6 1l-.5 .5l-.6 .4z" fill="#adadad" stroke="#2a2a2a" stroke-width="0.5"/>
<path d="M169.6 107.5l-.5 .3l-.5 0l-.5-.2l-.5-.4l-.5-.7l-.3-.5l-.2-.5l-.1-.5l.1-1l.6-1.5l.4-.7l.4-.3l.6-.2l.5 0l.3 .2l.6 .5l.2 .5l.2 1l.1 1l-.2 1.5l-.2 .8zM138.1 108.5l-.5 .2l-.5-.1l-.5-.1l-.5-.5l-.4-.5l-.2-.5l0-1l.1-.5l.2-.5l.3-.5l.5-.3l.5-.2l.7 0l.3 .1l.5 .3l.5 .6l.2 .5l.1 1l-.2 1l-.6 .7z" fill="#787878" stroke="#2a2a2a" stroke-width="0.5"/>
<path d="M169.1 106.6l-.5 0l-.5-.2l-.5-.5l-.3-.9l0-.5l.3-.9l.5-.7l.5-.3l.5 .1l.3 .3l.2 .3l.2 .7l0 .5l-.1 1l-.2 .5zM137.6 107.2l-.5-.1l-.4-.6l0-.5l.4-.5l.5-.1l.6 .6l0 .5l-.1 .2l-.2 .3z" fill="#222"/>
</g>
<path d="M119.0 66.6h1.3M119.0 76.6h1.3M119.0 86.0h1.3M119.0 96.0h1.3M119.0 113.5h1.3M127.2 122.0v0.9M140.5 122.0v0.9M153.8 122.0v0.9M165.8 122.0v0.9M177.1 122.0v0.9" stroke="#555" stroke-width="0.5"/>
<path d="M119.1 105.8v1.8M133.2 122.6h2.2" stroke="#111" stroke-width="1.1"/>
<g filter="url(#fb)">
<path d="M251.8 90.6h0.7M250.4 92.3h0.7M220.0 90.5h0.7M205.6 97.8h0.7M250.1 118.3h0.7M265.3 98.4h0.7M259.0 97.5h0.7M207.4 108.8h0.7M239.8 93.7h0.7M228.6 95.8h0.7M256.9 92.3h0.7M254.8 94.4h0.7M238.2 96.1h0.7M263.2 104.2h0.7M243.2 86.2h0.7M218.1 95.2h0.7M248.1 118.9h0.7M237.1 93.5h0.7M210.8 96.9h0.7M258.0 101.2h0.7M233.7 110.0h0.7M222.6 89.4h0.7M213.9 89.5h0.7M216.9 119.1h0.7M207.3 98.6h0.7M238.8 89.1h0.7M223.9 119.9h0.7M260.0 94.7h0.7M247.8 86.6h0.7M221.9 94.2h0.7M238.3 94.7h0.7M252.4 93.1h0.7M208.8 95.1h0.7M240.7 94.4h0.7M206.0 105.7h0.7M231.6 83.8h0.7M237.3 110.5h0.7M204.6 88.7h0.7M220.1 87.6h0.7M242.3 94.3h0.7M260.4 99.1h0.7M218.7 89.7h0.7M237.5 87.1h0.7M219.6 89.9h0.7M225.0 85.7h0.7M220.0 92.7h0.7M241.3 117.2h0.7M232.4 93.6h0.7M231.9 93.0h0.7M218.7 87.1h0.7M240.1 93.7h0.7M205.5 108.4h0.7M253.1 85.4h0.7M255.4 91.5h0.7M244.1 87.5h0.7M202.4 91.1h0.7M243.1 114.7h0.7M210.5 96.8h0.7M232.4 96.4h0.7M242.0 91.6h0.7M237.9 92.9h0.7M212.8 96.7h0.7M257.1 111.0h0.7M228.1 93.2h0.7M261.6 98.8h0.7M224.7 96.4h0.7M251.9 92.1h0.7M246.3 89.5h0.7M224.2 86.5h0.7M241.3 94.2h0.7M254.6 89.8h0.7M222.2 115.6h0.7M240.5 95.7h0.7M218.8 91.7h0.7M254.6 115.1h0.7M217.1 89.6h0.7M234.0 95.5h0.7M242.6 89.0h0.7M218.7 87.9h0.7M206.4 104.1h0.7M207.4 99.8h0.7M222.3 94.9h0.7M257.4 103.5h0.7M237.8 99.8h0.7M221.2 85.8h0.7M235.3 93.5h0.7M225.7 92.8h0.7M249.8 90.2h0.7M236.1 95.0h0.7M244.0 88.1h0.7M217.6 90.7h0.7M236.7 101.7h0.7M225.8 85.8h0.7M215.1 95.1h0.7M235.5 90.3h0.7M217.3 93.4h0.7M228.3 87.7h0.7M212.4 94.4h0.7M224.3 95.2h0.7M240.3 93.7h0.7M233.4 90.5h0.7M242.5 90.6h0.7M226.6 95.3h0.7M222.7 115.5h0.7M246.4 88.2h0.7M219.2 118.1h0.7M228.7 94.9h0.7M231.6 95.2h0.7M235.9 86.1h0.7M256.8 107.7h0.7M221.5 93.1h0.7M245.7 117.5h0.7M246.1 91.8h0.7M221.4 94.0h0.7M227.3 93.2h0.7M213.8 120.1h0.7M239.2 110.3h0.7M225.2 90.0h0.7M240.4 93.2h0.7M241.9 91.3h0.7M239.2 99.2h0.7M209.5 96.5h0.7M236.6 92.5h0.7M255.3 108.3h0.7M242.8 93.0h0.7M224.6 100.6h0.7M231.0 90.2h0.7M215.6 94.0h0.7M256.7 116.1h0.7M234.0 93.3h0.7M212.0 96.5h0.7M253.2 93.2h0.7M230.0 101.9h0.7M245.6 116.4h0.7M243.6 115.6h0.7M244.7 90.4h0.7M234.7 85.6h0.7M254.2 93.2h0.7M257.1 110.1h0.7M260.0 100.7h0.7M215.9 85.7h0.7M258.8 104.7h0.7M240.6 94.0h0.7M253.9 93.0h0.7M223.0 89.4h0.7M213.9 95.9h0.7M256.9 93.2h0.7M223.2 94.2h0.7M236.8 92.0h0.7M240.7 95.4h0.7M220.0 95.0h0.7M235.7 92.4h0.7M236.3 95.1h0.7M205.0 102.7h0.7M218.0 93.7h0.7M237.0 100.1h0.7M245.2 117.5h0.7M236.2 96.9h0.7M234.0 94.3h0.7M243.8 117.8h0.7M207.5 104.5h0.7M241.5 86.2h0.7M219.4 88.6h0.7M215.4 90.6h0.7M223.8 93.0h0.7M254.6 118.1h0.7M200.8 99.9h0.7M259.4 100.8h0.7M242.2 118.2h0.7M224.6 93.0h0.7M218.7 95.0h0.7M234.0 89.3h0.7M202.2 103.0h0.7M241.3 110.2h0.7M221.4 95.2h0.7M236.0 99.0h0.7M238.8 89.6h0.7M213.0 93.0h0.7M233.8 94.7h0.7M243.6 93.0h0.7M264.9 93.7h0.7M235.7 113.5h0.7M237.2 94.9h0.7M222.2 84.4h0.7M262.5 96.0h0.7M236.8 94.3h0.7M247.9 91.4h0.7M226.2 88.5h0.7M257.1 93.8h0.7M207.1 118.7h0.7M254.4 95.1h0.7M235.9 89.5h0.7M232.9 91.1h0.7M235.8 98.8h0.7M203.3 107.6h0.7M208.9 105.1h0.7M254.2 93.0h0.7M229.3 96.0h0.7M239.5 112.7h0.7M209.9 104.3h0.7M238.7 102.5h0.7M227.9 112.5h0.7M231.6 94.7h0.7M240.3 95.3h0.7M236.0 97.2h0.7M220.9 89.3h0.7M224.0 112.3h0.7M259.2 107.6h0.7M232.1 86.9h0.7M226.1 106.6h0.7M220.0 99.0h0.7M255.1 87.4h0.7M249.1 77.3h0.7M255.5 99.3h0.7M214.2 101.4h0.7M242.7 87.1h0.7M204.0 81.9h0.7M251.4 119.3h0.7M235.8 80.5h0.7M239.7 78.0h0.7M252.0 71.4h0.7M227.6 89.5h0.7M227.4 88.3h0.7M234.3 82.4h0.7M228.0 74.5h0.7M240.3 76.0h0.7M243.1 79.0h0.7M241.0 88.6h0.7M227.1 93.1h0.7M231.7 100.2h0.7M230.0 84.7h0.7M236.6 84.3h0.7M241.9 82.1h0.7M231.7 84.6h0.7M217.7 85.7h0.7M232.9 78.2h0.7M232.7 96.9h0.7M237.8 80.2h0.7M231.2 80.8h0.7M238.4 83.5h0.7M227.1 69.6h0.7M217.1 72.5h0.7M234.3 70.3h0.7M241.0 86.3h0.7M227.1 70.6h0.7M237.6 81.2h0.7M253.5 78.3h0.7M234.4 94.4h0.7M220.6 84.6h0.7M219.3 84.1h0.7M232.2 95.8h0.7M237.5 75.1h0.7M240.4 71.9h0.7M229.2 87.3h0.7M232.4 94.5h0.7M235.1 78.4h0.7M235.1 72.8h0.7M221.6 80.1h0.7M238.9 80.2h0.7M241.0 68.5h0.7M230.6 79.7h0.7M224.2 95.8h0.7M235.3 90.1h0.7M243.4 69.0h0.7M220.6 88.5h0.7M224.8 79.2h0.7M232.5 87.2h0.7M233.2 95.9h0.7M229.5 76.9h0.7M230.5 78.7h0.7M234.5 80.7h0.7M227.3 74.5h0.7M225.1 83.4h0.7M229.2 77.2h0.7M238.5 77.9h0.7M221.0 68.1h0.7M220.0 79.1h0.7M240.0 73.8h0.7M227.3 77.6h0.7M230.0 80.1h0.7M235.7 82.8h0.7M240.5 78.6h0.7M229.6 63.2h0.7M220.1 72.6h0.7M219.7 94.3h0.7M220.1 78.7h0.7M236.6 89.1h0.7M241.2 71.2h0.7M241.4 72.9h0.7M233.9 88.9h0.7M212.9 95.9h0.7M241.2 75.7h0.7M237.7 85.3h0.7M226.9 96.7h0.7M220.7 87.3h0.7M234.6 81.5h0.7M238.2 93.0h0.7M231.6 88.3h0.7M233.5 92.6h0.7M215.5 91.3h0.7M221.2 71.6h0.7M240.8 84.3h0.7M235.6 82.7h0.7M232.7 85.6h0.7M228.9 89.0h0.7M216.4 69.4h0.7M250.5 79.9h0.7M236.4 84.2h0.7M256.7 75.8h0.7M232.8 68.0h0.7M219.5 81.1h0.7M220.0 78.4h0.7M227.1 91.1h0.7M224.7 81.2h0.7M224.1 80.8h0.7M233.6 82.1h0.7M237.3 87.3h0.7M237.9 85.6h0.7M244.7 80.0h0.7M239.4 75.1h0.7M238.6 95.4h0.7M234.4 93.8h0.7M241.2 72.8h0.7M231.5 81.0h0.7M224.6 80.0h0.7M231.7 75.1h0.7M247.0 87.1h0.7M238.1 71.0h0.7M234.1 84.3h0.7M224.5 79.6h0.7M227.9 90.9h0.7M227.2 77.0h0.7M211.5 85.4h0.7M239.3 73.7h0.7M236.9 100.2h0.7M231.8 92.8h0.7M228.0 76.4h0.7M250.6 90.6h0.7M245.4 104.8h0.7M237.2 76.6h0.7M220.2 96.2h0.7M244.7 85.6h0.7M247.2 77.8h0.7M234.1 76.5h0.7M245.8 81.7h0.7M245.6 90.1h0.7M250.6 72.8h0.7M233.6 80.4h0.7M238.3 93.0h0.7M227.7 76.8h0.7M220.3 99.3h0.7M222.7 91.6h0.7M228.6 77.8h0.7M228.2 78.9h0.7M231.8 84.3h0.7M234.7 85.2h0.7M225.9 81.1h0.7M245.5 65.1h0.7M233.3 74.8h0.7M218.6 84.0h0.7M231.9 78.4h0.7M228.6 87.5h0.7M224.1 91.3h0.7M226.0 80.3h0.7M221.5 88.9h0.7M236.0 79.7h0.7M228.1 87.8h0.7M230.7 86.3h0.7M224.9 96.6h0.7M229.0 82.9h0.7M228.4 82.9h0.7M219.9 74.7h0.7M242.7 91.1h0.7M237.7 72.8h0.7M232.3 81.1h0.7M221.0 81.7h0.7M240.5 71.8h0.7M235.2 80.3h0.7M226.7 76.7h0.7M230.5 80.1h0.7M226.0 76.4h0.7M217.1 77.0h0.7M220.4 84.6h0.7M225.6 76.0h0.7M230.1 86.5h0.7M243.6 99.6h0.7M235.5 87.2h0.7M237.6 89.2h0.7M236.1 89.6h0.7M239.4 73.9h0.7M225.3 80.6h0.7M235.8 63.4h0.7M232.2 84.3h0.7M249.7 67.5h0.7M227.3 75.6h0.7M243.8 81.8h0.7M250.1 73.3h0.7M234.6 90.8h0.7M237.3 101.0h0.7M233.4 75.6h0.7M239.0 88.1h0.7M223.2 74.4h0.7M223.9 82.3h0.7M231.1 86.8h0.7M210.1 89.5h0.7M234.0 74.1h0.7M228.9 71.4h0.7M231.3 88.2h0.7M219.5 69.4h0.7M213.8 87.9h0.7M236.1 87.8h0.7M220.2 95.0h0.7M237.0 91.3h0.7M234.1 99.6h0.7M228.2 91.8h0.7M231.7 68.2h0.7M236.7 77.5h0.7M227.5 106.4h0.7M239.2 71.9h0.7M223.1 79.3h0.7M228.6 97.2h0.7M244.9 65.4h0.7M222.7 89.5h0.7M236.5 88.2h0.7M238.4 71.1h0.7M233.5 90.3h0.7M243.3 80.7h0.7M230.4 79.8h0.7M237.3 74.6h0.7M223.1 83.0h0.7M228.5 95.7h0.7M225.4 67.4h0.7M228.4 79.3h0.7M239.8 90.2h0.7M245.2 63.6h0.7M232.0 62.8h0.7M236.9 73.4h0.7M217.1 82.8h0.7M241.9 84.5h0.7M235.2 81.6h0.7M228.0 78.2h0.7M229.7 90.8h0.7M240.0 81.3h0.7M227.5 87.5h0.7M235.0 79.2h0.7M222.2 91.0h0.7M238.8 76.1h0.7M245.9 86.0h0.7M230.8 90.4h0.7M227.7 68.5h0.7M237.6 79.8h0.7M223.9 78.3h0.7M211.6 84.9h0.7M242.1 83.2h0.7M247.6 81.5h0.7M226.2 91.8h0.7M218.8 71.8h0.7M222.2 99.6h0.7M233.4 88.2h0.7M239.2 88.6h0.7M229.1 88.0h0.7M230.4 75.2h0.7M218.0 90.7h0.7M239.0 66.3h0.7M221.4 80.6h0.7M247.0 84.9h0.7M231.2 85.7h0.7M209.6 72.8h0.7M214.0 82.6h0.7M233.4 65.7h0.7M232.9 89.5h0.7M233.8 87.6h0.7M238.1 99.3h0.7M217.6 89.7h0.7M233.5 83.3h0.7M243.1 93.6h0.7M223.5 93.6h0.7M230.2 84.9h0.7M244.7 82.6h0.7M239.6 85.2h0.7M239.9 77.2h0.7M234.4 98.1h0.7M239.7 79.0h0.7M235.1 90.0h0.7M228.0 85.8h0.7M240.2 68.4h0.7M231.0 75.3h0.7M240.1 79.6h0.7M232.3 83.0h0.7M217.7 75.5h0.7M241.4 96.7h0.7M226.1 72.9h0.7M243.8 89.3h0.7M229.3 84.5h0.7M231.5 90.3h0.7M219.6 84.4h0.7M235.1 90.4h0.7M230.9 89.6h0.7M237.7 83.1h0.7M209.6 78.0h0.7M234.8 103.7h0.7M206.4 82.5h0.7M235.7 98.0h0.7M216.7 95.0h0.7M235.1 92.2h0.7M244.0 81.0h0.7M238.1 87.3h0.7M224.0 88.7h0.7M238.0 60.7h0.7M224.3 72.3h0.7M221.3 74.0h0.7M235.8 73.3h0.7M211.4 82.2h0.7M233.1 73.9h0.7M236.7 64.5h0.7M232.7 74.5h0.7M231.9 87.4h0.7M242.7 70.8h0.7M232.6 82.8h0.7M233.4 100.5h0.7M237.4 83.1h0.7M235.1 70.0h0.7M215.1 73.1h0.7M224.8 92.0h0.7M226.2 75.8h0.7M249.8 79.4h0.7M233.8 68.1h0.7M221.2 72.5h0.7M215.2 90.7h0.7M238.9 71.6h0.7M223.9 75.0h0.7M232.4 92.7h0.7M230.3 91.9h0.7M235.5 90.4h0.7M246.4 80.7h0.7M224.9 80.7h0.7M220.3 87.3h0.7M239.1 81.7h0.7M230.4 95.9h0.7M218.0 78.9h0.7M259.2 72.1h0.7M223.5 83.9h0.7M244.8 78.9h0.7M240.6 75.5h0.7M238.5 75.0h0.7M232.6 77.0h0.7M226.5 74.6h0.7M233.1 89.2h0.7M226.4 81.8h0.7M237.7 85.7h0.7M240.6 71.1h0.7M251.8 87.4h0.7M228.9 69.1h0.7M235.3 77.1h0.7M230.7 79.5h0.7M231.9 87.9h0.7M211.9 73.9h0.7M244.5 68.9h0.7M225.3 84.2h0.7M239.1 81.3h0.7M227.7 82.7h0.7M226.5 80.6h0.7M231.5 68.4h0.7M236.0 95.1h0.7M233.9 88.1h0.7M244.7 93.1h0.7M230.8 85.3h0.7M236.1 79.0h0.7M223.3 75.6h0.7M229.1 79.4h0.7M239.6 72.5h0.7M232.1 83.1h0.7M213.9 78.9h0.7M215.4 74.6h0.7M230.9 80.2h0.7M236.8 92.6h0.7M226.2 86.8h0.7M234.7 82.3h0.7M232.4 87.5h0.7M249.5 84.0h0.7M224.5 88.2h0.7M231.5 81.2h0.7M219.9 75.6h0.7M218.4 70.4h0.7M234.8 64.7h0.7M221.1 78.3h0.7M227.6 87.2h0.7M231.7 79.6h0.7M237.9 80.0h0.7M232.5 88.2h0.7M244.2 78.0h0.7M230.5 85.3h0.7M232.3 91.1h0.7M232.3 84.2h0.7M236.9 79.5h0.7M234.1 75.7h0.7M223.0 88.1h0.7M230.2 85.6h0.7M236.2 93.1h0.7M251.9 78.9h0.7M239.9 75.3h0.7M242.9 77.9h0.7M216.6 77.1h0.7M253.2 70.0h0.7M223.8 85.4h0.7M229.6 85.8h0.7M238.2 75.2h0.7M210.0 99.6h0.7M236.1 79.7h0.7M225.1 81.4h0.7M244.2 69.4h0.7M229.7 84.4h0.7M229.1 86.1h0.7M231.1 94.7h0.7M229.6 80.7h0.7M223.3 79.8h0.7M248.5 94.2h0.7M228.4 87.1h0.7M232.3 76.3h0.7M220.9 84.9h0.7M225.8 72.3h0.7M246.0 89.8h0.7M226.7 74.4h0.7M216.6 82.5h0.7M231.0 83.7h0.7M220.7 76.2h0.7M218.3 82.6h0.7M234.9 81.4h0.7M234.7 75.0h0.7M232.9 84.2h0.7M225.2 67.7h0.7M231.1 67.7h0.7M217.9 78.6h0.7M237.7 98.8h0.7M255.8 88.4h0.7M223.7 79.2h0.7M237.7 91.9h0.7M226.9 76.4h0.7M219.8 82.3h0.7M234.6 76.7h0.7M225.9 80.9h0.7M252.2 71.9h0.7M230.2 90.1h0.7M220.0 84.2h0.7M221.7 91.6h0.7M230.4 71.1h0.7M238.8 65.6h0.7M231.6 79.9h0.7M211.0 88.8h0.7M224.1 80.0h0.7M238.3 98.5h0.7M227.2 80.7h0.7M233.7 88.0h0.7M224.0 83.7h0.7M241.6 83.0h0.7M229.6 76.8h0.7M238.9 82.2h0.7M228.6 76.0h0.7M226.0 92.2h0.7M247.9 64.1h0.7M222.8 77.7h0.7M214.0 93.7h0.7M232.9 86.0h0.7M233.1 92.1h0.7M229.5 83.7h0.7M237.3 81.2h0.7M236.2 87.3h0.7M234.7 80.6h0.7M244.1 75.9h0.7M241.1 78.4h0.7M227.9 78.5h0.7M237.5 95.5h0.7M235.5 69.2h0.7M231.3 77.9h0.7M225.4 81.3h0.7M238.9 73.8h0.7M243.2 74.7h0.7M225.9 84.2h0.7M241.4 86.1h0.7M219.7 89.3h0.7M224.5 86.3h0.7M233.9 72.9h0.7M233.0 88.1h0.7M240.8 67.4h0.7M239.0 76.2h0.7M227.0 78.3h0.7M239.2 76.9h0.7M230.0 84.6h0.7M226.8 85.3h0.7M240.1 85.4h0.7M229.6 75.6h0.7M238.8 64.1h0.7M240.2 83.0h0.7M218.3 80.7h0.7M248.7 91.8h0.7M240.6 75.2h0.7M233.6 90.0h0.7M232.4 87.8h0.7M229.7 88.0h0.7M217.7 76.2h0.7M242.8 78.9h0.7M243.7 84.9h0.7M233.3 78.2h0.7M234.1 86.1h0.7M234.3 74.4h0.7M235.0 96.1h0.7M224.5 84.7h0.7M228.2 80.6h0.7M229.4 88.4h0.7M237.3 85.2h0.7M229.7 88.4h0.7M230.7 76.3h0.7M221.9 75.7h0.7M211.7 86.2h0.7M238.9 83.8h0.7M232.8 74.7h0.7M230.0 77.8h0.7M230.0 83.7h0.7M228.7 78.8h0.7M215.0 75.0h0.7M242.5 71.5h0.7M234.5 80.9h0.7M238.3 90.3h0.7M237.7 81.6h0.7M227.5 80.8h0.7M246.9 71.9h0.7M232.5 92.0h0.7M241.9 86.9h0.7M227.2 93.3h0.7M237.2 81.1h0.7M211.6 73.6h0.7M233.5 95.4h0.7M230.5 82.1h0.7M223.8 81.6h0.7M225.1 84.9h0.7M232.9 85.2h0.7M231.8 81.2h0.7M230.9 78.3h0.7M231.5 94.7h0.7M229.2 70.3h0.7M230.0 83.5h0.7M225.7 86.6h0.7M244.0 88.2h0.7M219.0 88.0h0.7M232.4 93.2h0.7M228.8 83.5h0.7M231.2 91.1h0.7M229.7 83.5h0.7M232.2 84.0h0.7M234.1 68.2h0.7M226.1 74.4h0.7M223.2 83.5h0.7M230.2 71.7h0.7M243.5 89.6h0.7M229.0 76.7h0.7M238.2 84.7h0.7M224.2 93.4h0.7M226.2 78.2h0.7M237.2 91.3h0.7M228.7 72.9h0.7M227.3 94.5h0.7M233.2 81.3h0.7M231.9 90.8h0.7M240.9 66.5h0.7M226.7 95.5h0.7M226.6 93.3h0.7M239.7 87.4h0.7M236.1 76.6h0.7M229.8 74.6h0.7M224.7 93.0h0.7M234.7 84.5h0.7M223.6 81.3h0.7M236.7 75.4h0.7M239.5 90.2h0.7M226.0 84.0h0.7M223.1 79.8h0.7M204.7 85.1h0.7M227.1 89.9h0.7M227.7 66.9h0.7M242.4 91.8h0.7M233.2 91.6h0.7M218.9 90.2h0.7M224.0 76.1h0.7M249.6 76.0h0.7M225.3 96.1h0.7M211.7 87.6h0.7M243.8 73.2h0.7M222.3 85.5h0.7M235.8 66.6h0.7M230.1 78.8h0.7M218.4 89.8h0.7M217.7 88.7h0.7M226.6 76.0h0.7M232.0 67.0h0.7M237.3 70.4h0.7M238.9 86.2h0.7M215.7 82.2h0.7M225.4 89.4h0.7M223.2 85.3h0.7M236.8 79.8h0.7M211.5 82.6h0.7M233.9 84.2h0.7M225.3 79.5h0.7M223.3 63.7h0.7M246.3 82.2h0.7M227.5 92.3h0.7M231.3 88.0h0.7M227.1 91.7h0.7M227.1 72.4h0.7M233.3 73.0h0.7M245.8 78.6h0.7M240.8 88.9h0.7M226.9 73.9h0.7M232.4 75.5h0.7M245.2 101.0h0.7M251.8 85.7h0.7M213.0 75.4h0.7M242.9 73.3h0.7M227.1 72.1h0.7M226.6 82.6h0.7M235.8 73.2h0.7M221.3 68.9h0.7M233.9 83.0h0.7M232.9 88.0h0.7M226.5 89.2h0.7M241.1 82.0h0.7M229.2 85.1h0.7M228.1 85.1h0.7M236.6 94.0h0.7M245.6 76.1h0.7M240.4 88.6h0.7M221.0 85.2h0.7M225.3 86.1h0.7M230.7 83.4h0.7M239.7 73.8h0.7M224.2 87.9h0.7M227.7 76.0h0.7M208.7 92.0h0.7M233.7 81.1h0.7M235.1 87.5h0.7M249.7 91.9h0.7M234.1 94.7h0.7M248.8 88.5h0.7M214.5 92.1h0.7M224.2 94.9h0.7M234.7 92.9h0.7M228.8 89.2h0.7M221.0 91.7h0.7M244.9 80.8h0.7M227.5 89.0h0.7M242.7 93.3h0.7M227.2 91.7h0.7M257.5 92.2h0.7M228.0 90.9h0.7M236.3 92.4h0.7M250.1 89.1h0.7M231.3 91.6h0.7M234.2 90.7h0.7M221.2 92.1h0.7M232.6 89.5h0.7M231.9 93.8h0.7M244.2 91.4h0.7M243.5 91.3h0.7M240.4 88.4h0.7M208.6 93.8h0.7M248.7 93.4h0.7M228.5 89.3h0.7M228.6 90.6h0.7M238.7 93.5h0.7M253.0 93.3h0.7M220.5 91.0h0.7M239.0 94.6h0.7M214.9 89.8h0.7M220.1 86.5h0.7M218.4 86.8h0.7M243.2 87.9h0.7M223.3 93.0h0.7M235.7 91.9h0.7M231.0 93.3h0.7M227.4 83.7h0.7M244.8 99.0h0.7M242.6 85.0h0.7M234.1 95.5h0.7M224.5 96.7h0.7M237.5 85.9h0.7M211.8 103.0h0.7M226.5 96.1h0.7M231.5 87.1h0.7M232.6 92.6h0.7M249.1 87.2h0.7M227.4 95.0h0.7M240.0 95.4h0.7M251.0 90.6h0.7M227.9 92.2h0.7M238.5 90.5h0.7M220.2 90.3h0.7M261.2 97.4h0.7M236.3 86.9h0.7M233.2 90.3h0.7M223.0 88.4h0.7M224.6 90.4h0.7M233.8 90.9h0.7M237.1 87.8h0.7M246.6 92.7h0.7M228.9 92.6h0.7M211.6 95.9h0.7M216.4 91.2h0.7M230.1 100.7h0.7M232.8 91.6h0.7M262.8 91.3h0.7M224.7 90.7h0.7M229.2 89.5h0.7M220.6 95.1h0.7M247.1 95.0h0.7M229.9 95.3h0.7M218.9 85.8h0.7M232.6 96.6h0.7M223.3 86.7h0.7M230.7 92.7h0.7M230.2 92.4h0.7M240.5 88.5h0.7M226.4 89.2h0.7M225.6 89.8h0.7M233.0 94.7h0.7M231.6 95.5h0.7M226.2 96.7h0.7M230.5 94.9h0.7M234.2 85.8h0.7M251.9 91.2h0.7M242.9 96.8h0.7M232.3 92.2h0.7M214.0 95.9h0.7M211.4 95.7h0.7M225.8 100.1h0.7M223.5 86.4h0.7M228.3 88.3h0.7M226.5 97.9h0.7M242.9 93.9h0.7M236.2 94.2h0.7M240.7 93.6h0.7M236.4 89.1h0.7M236.3 89.6h0.7M228.8 94.4h0.7M225.4 94.6h0.7M227.4 96.8h0.7M222.5 89.6h0.7M230.0 97.9h0.7M232.4 93.3h0.7M223.1 89.2h0.7M237.5 90.2h0.7M227.0 91.7h0.7M249.1 92.7h0.7M234.5 94.3h0.7M238.8 95.2h0.7M236.5 88.4h0.7M219.1 94.1h0.7M231.1 93.4h0.7M219.9 91.5h0.7M243.8 94.8h0.7M219.6 92.0h0.7M237.4 93.4h0.7M235.8 87.9h0.7M222.9 88.8h0.7M233.6 86.6h0.7M243.1 95.9h0.7M229.2 88.9h0.7M242.3 94.4h0.7M219.1 85.9h0.7M243.3 94.9h0.7M224.0 94.2h0.7M227.7 90.2h0.7M221.3 90.4h0.7M228.9 94.1h0.7M221.4 96.6h0.7M237.4 89.2h0.7M237.8 97.3h0.7M236.8 99.1h0.7M260.8 91.3h0.7M227.2 88.3h0.7M211.1 91.0h0.7M233.8 94.8h0.7M227.5 89.7h0.7M225.6 94.6h0.7M235.0 93.5h0.7M239.0 96.3h0.7M219.1 94.3h0.7M231.6 88.4h0.7M217.6 93.8h0.7M229.8 88.5h0.7M240.6 93.6h0.7M246.9 91.4h0.7M208.1 84.8h0.7M229.5 93.7h0.7M214.6 87.8h0.7M216.7 92.2h0.7M240.8 91.1h0.7M227.0 89.5h0.7M233.6 86.9h0.7M232.7 96.1h0.7M235.5 87.7h0.7M240.3 89.8h0.7M231.5 91.9h0.7M231.5 91.1h0.7M229.4 98.8h0.7M223.7 92.5h0.7M218.9 91.5h0.7M229.7 93.9h0.7M226.5 96.6h0.7M231.1 94.4h0.7M222.2 89.4h0.7M252.0 87.5h0.7M242.1 97.0h0.7M242.2 95.4h0.7M221.9 92.4h0.7M239.3 92.9h0.7M222.8 87.9h0.7M234.1 95.1h0.7M228.5 89.6h0.7M232.2 85.7h0.7M233.1 102.0h0.7M216.3 97.1h0.7M233.4 85.1h0.7M227.0 92.6h0.7M222.4 89.4h0.7M222.6 94.5h0.7M242.5 96.6h0.7M243.0 89.6h0.7M232.5 90.5h0.7M246.5 89.0h0.7M236.5 90.8h0.7M233.3 95.1h0.7M215.7 89.6h0.7M228.2 91.8h0.7M222.4 89.4h0.7M227.2 87.5h0.7M229.2 94.7h0.7M233.1 96.0h0.7M243.1 92.5h0.7M228.5 90.1h0.7M216.2 93.1h0.7M244.2 86.8h0.7M227.8 91.5h0.7M222.5 90.1h0.7M218.5 93.0h0.7M234.6 90.6h0.7M234.5 93.0h0.7M229.1 84.8h0.7M219.4 91.9h0.7M223.7 90.5h0.7M238.0 92.9h0.7M230.0 90.0h0.7M241.2 88.9h0.7M232.9 89.0h0.7M232.6 90.9h0.7M237.2 89.9h0.7M208.8 99.1h0.7M241.9 90.3h0.7M231.9 93.4h0.7M248.4 90.2h0.7M214.7 85.4h0.7M230.5 90.7h0.7M248.9 90.4h0.7M225.8 89.3h0.7M238.3 82.8h0.7M229.1 90.2h0.7M230.6 93.2h0.7M216.4 93.7h0.7M218.6 89.4h0.7M210.5 89.6h0.7M225.6 89.5h0.7M234.1 87.2h0.7M219.1 86.1h0.7M232.9 93.8h0.7M248.3 87.9h0.7M222.0 91.6h0.7M251.2 94.6h0.7M238.3 87.8h0.7M220.1 89.1h0.7M220.0 92.1h0.7M225.0 90.9h0.7M211.7 87.7h0.7M216.4 84.8h0.7M243.5 82.5h0.7M230.7 88.9h0.7M225.3 96.6h0.7M246.1 92.2h0.7M240.1 93.9h0.7M238.2 93.9h0.7M226.8 92.9h0.7M231.8 96.9h0.7M221.2 92.4h0.7M235.8 87.8h0.7M208.8 86.0h0.7M245.7 90.3h0.7M228.1 93.5h0.7M227.8 88.7h0.7M240.9 95.3h0.7M235.8 75.3h0.7M235.4 85.5h0.7M237.0 77.9h0.7M243.4 80.6h0.7M240.6 86.1h0.7M237.5 77.8h0.7M243.0 76.5h0.7M238.8 81.5h0.7M235.8 73.0h0.7M243.6 79.5h0.7M239.4 76.0h0.7M236.1 79.2h0.7M247.1 79.1h0.7M250.0 77.8h0.7M239.2 75.1h0.7M236.1 85.2h0.7M237.6 74.3h0.7M246.0 73.3h0.7M235.3 87.0h0.7M242.0 79.4h0.7M238.3 87.4h0.7M236.2 75.4h0.7M243.3 83.4h0.7M244.9 80.5h0.7M239.4 81.7h0.7M242.4 80.1h0.7M235.1 68.1h0.7M239.6 77.7h0.7M244.0 86.7h0.7M238.8 78.9h0.7M243.5 84.1h0.7M236.5 81.4h0.7M241.4 74.6h0.7M242.3 71.5h0.7M240.8 79.5h0.7M243.5 83.9h0.7M243.1 80.7h0.7M239.9 73.7h0.7M234.0 76.6h0.7M244.7 79.6h0.7M240.3 79.9h0.7M250.1 78.2h0.7M238.9 77.5h0.7M246.6 80.1h0.7M237.4 84.1h0.7M243.2 82.3h0.7M241.5 77.2h0.7M240.7 82.2h0.7M239.2 83.5h0.7M244.3 92.1h0.7M247.3 77.7h0.7M241.5 83.5h0.7M238.6 77.3h0.7M244.5 85.9h0.7M245.2 84.4h0.7M246.8 79.2h0.7M243.7 80.2h0.7M252.0 77.4h0.7M250.6 76.4h0.7M243.0 69.8h0.7M243.8 69.6h0.7M246.0 85.4h0.7M238.9 80.4h0.7M236.4 75.9h0.7M242.3 84.9h0.7M242.2 77.6h0.7M241.1 74.2h0.7M242.1 90.7h0.7M241.5 79.0h0.7M243.5 90.7h0.7M247.5 85.4h0.7M242.7 81.0h0.7M241.2 71.8h0.7M247.4 86.7h0.7M240.7 75.8h0.7M238.2 78.3h0.7M248.8 85.2h0.7M242.4 75.9h0.7M237.9 84.5h0.7M242.0 79.0h0.7M239.4 84.1h0.7M243.5 85.9h0.7M241.3 70.9h0.7M240.0 91.0h0.7M244.2 78.9h0.7M241.9 65.8h0.7M248.0 75.1h0.7M245.1 91.4h0.7M239.1 83.4h0.7M242.1 77.6h0.7M236.2 79.6h0.7M248.6 75.0h0.7M246.8 81.1h0.7M244.0 83.9h0.7M241.1 83.0h0.7M235.6 81.7h0.7M241.4 87.7h0.7M241.6 75.5h0.7M242.0 84.9h0.7M235.7 78.2h0.7M242.5 71.7h0.7M241.1 74.3h0.7M235.6 90.3h0.7M235.5 82.8h0.7M242.1 79.8h0.7M244.1 76.4h0.7M246.9 73.6h0.7M244.1 78.7h0.7M241.4 79.5h0.7M242.3 85.1h0.7M245.4 90.0h0.7M242.0 78.2h0.7M238.4 80.3h0.7M243.3 81.5h0.7M238.1 73.8h0.7M242.1 75.8h0.7M249.6 76.2h0.7M237.9 67.9h0.7M239.5 78.2h0.7M242.7 87.9h0.7" stroke="#111" stroke-width="0.75" fill="none"/>
<path d="M248.7 118.5l-.5-.2l-.4-.8l-.6-.2l-.5 .1l-.4-.4l-.1-.5l.3-.5l-.6-.5l-.7-.2l-1 .2l-.5-1.4l-.5-.1l.4-.5l-.1-.5l-.8-.8l-.5 0l-.2-.2l-.2-.5l.7-.5l0-.5l-.4-.5l-.4-.2l-.5-.1l-.5 .2l-.5-.2l-.3-.7l-.2-.2l-.5 .1l-1.5 1.3l-.5 .2l-.5-.6l-.7 .2l-.2 .5l-.6 .2l-.5 .5l-.5 0l-.2-.2l-.1-1l.1-.5l.3-.5l-.1-.1l-.5 .1l-1 .5l-1 .2l-1 1.1l-1 .3l-.5 .6l-.5-.1l-.5-1.6l-.5-.1l-.3 .1l-.2 1l-.5 .9l-.5 0l-1-.3l-.5 .6l-.1-.7l-.9-.2l-.4 .7l.2 .5l.6 .5l0 .5l-.4 .4l-1 .8l-1-.1l-.5 .2l-.1 .2l.3 .5l-.2 .5l-.5 .2l-.5-.3l-.5-.1l-.5 .2l-1.5-.4l-.8 .4l.2 .5l-.4 .9l-.2-.4l-.1-.5l.2-.5l-.4-.5l-.6 0l-.9 .4l-.5-.7l-1 .2l-.5-.7l-.9-.7l-.1-.5l.1-1l-.6-.6l-.8-.4l-.3-.5l.2-.5l-.1-.3l-.5 0l-.5-.2l-.5-.5l0-1l.3-.5l-.2-.5l-1.2-1.5l.1-.1l1-.4l.5 .5l-.1-1l.6-.5l.1-.5l-.6-.1l-1.2 .1l-.2-1.5l.9-1l.5-.9l1-.7l.2-.4l-.1-1l-.2-.5l.1-.3l1-.5l1-.1l1-.3l.4-.3l.3-.5l.3-.1l.5-.1l.5 .3l.5-.1l.5-.5l-.1-.5l.6-.6l.5 0l1 .9l1-.7l.5 .3l.4 .6l.6 .3l1.5-.6l.5 0l.5 .1l.5 .5l1.5-.6l0-.2l.5-.3l.5 0l.4 .3l-.1 .5l-.3 .4l-.5 .2l-.5-.4l-.7 .8l.2 .3l2-.2l.8 .4l-.3 .1l-.2 .4l.2 .1l1-.9l.5 .1l.5-.1l.4-.7l-.1-.5l.2-.3l.5-.1l.5 .4l1-.3l.3 .3l-.4 .5l0 .5l1.6 .4l.5-.2l1.5-1.4l.3 .2l.1 .5l-.2 1l.7 1.5l-.4 .5l-.4 1.5l.4 .3l.5-.2l.5 .1l.3 .3l-.5 .5l.2 .2l.5-.6l.5-1.1l.5 .3l1 1.3l.5 .2l.5-.2l.5-1.1l.4-.5l-.4-.1l-.5 0l-.5-.3l-.5-.9l-.5-.2l-.3 .5l-.2 .7l-.5 .3l-.3-1l-1-.5l0-1l.2-1l.6-.5l.5-.1l0 .1l-.5 .5l.5 .5l.5 .2l1-1.2l.5-.1l.7 .6l.2 .5l-.4 .4l0 .3l.2 .3l.8 0l.1-1l.4-.6l1.1-.9l.2-.5l-.5-.5l.2-.4l.5 .1l.8-.7l.7-.9l1 .4l.5-.6l.1 .1l0 .5l.4 .2l.4-.2l.6-.5l-1.1-.5l.6-.6l.7 .6l-.2 .5l.5 .1l.7-1.1l.8-.6l.5 0l.3 .1l.1 .5l-.5 1l.1 .2l.5 .1l.5 .3l1 .1l.5 .3l.5 0l.4 .5l.2 .5l1 1.5l.2 .5l.1 .5l-.4 1l.5 .1l.5-.6l.5-.2l.5 .7l.2 1l-.7 .2l-.2 .3l0 .5l-.3 1l0 .1l.6-.1l.4 .5l-.5 1.5l0 .5l-.4 .5l-.1 .5l.5 .2l.4 .3l.2 1l-.3 .5l-.8 .2l-.4 .3l-.3 1l.1 .5l.8 1.5l.1 .5l-.8 .5l-.1 .5l-.5 .5l-.1 .5l.2 .5l-.2 1.5l-.3 .4l-.5-.1l-.5-.7l-.7 .4l-.3 .5l.3 .5l-.2 .5l-.8 .5l-.7 1l-.1 .7l-.5 .1l-.5-.1zM243.7 92.1l0-.2l.1 .1zM252.7 92.7l-.2-.2l0-.5l.7-.2l.1 .2l-.1 .5zM242.2 94.3l-.3-.3l.3-.3l.5 .3zM247.3 95.0l-.1-.2l-.1 .2zM212.7 96.1l-.1-.1l.5 0zM227.7 96.8l-.1-.3l.1 0zM222.2 97.0l0-.3l-.1 .3l.1 .1zM230.8 99.5l.1-.5l-.2-1l-.7 .5l-.1 .5l.8 .6zM212.3 99.0l-.1-.5l-.2 0l-.3 .5zM229.4 99.0l-.2-.1l-.6 .1zM233.4 99.5l.1-.5l-.3-.5l-.4 .5l0 .5l.4 .2zM257.2 99.7l-.2-.2l.2-.5zM211.3 100.0l-.1-.2l-.3 .2zM225.6 100.5l-.4-.5l-.5-.2l-.6 .2l.1 .5l.5 .4l.5-.1zM230.2 102.0l.9-.5l-.4-.5l-.5 .1l-.6-.1l-.2 .5l.3 .4zM210.9 101.5l-.5 0l.3 .3zM233.2 101.5l0-.1zM238.9 102.5l-.2-.2l-.1 .2l.1 .1zM210.3 107.5l-.1-.1l-.2 .1l.2 .1zM208.2 109.6l-.1-.1l.1-.1l.4 .1zM243.4 110.5l-.2-.1l-.3 .1l.3 .4zM246.7 118.5l-.5 .5l-.5-.3l-.1-.2l.1-.3l.5-.4z" fill="#0c0c0c"/>
<path d="M249.2 115.1l-1 0l-1-.3l-1-.6l-.5-.4l-.7-.8l-.6-1l-.5-1l-.7-2l-.3-.5l-.2-.2l-.5-.1l-1 0l-8.5 1.2l-8 .7l-1 .3l-.5 .4l-1.2 1.2l-.8 .7l-1.5 .9l-1 .3l-1 .1l-1 0l-1-.2l-1.5-.7l-1-.7l-.5-.5l-.7-.9l-.9-1.5l-.5-1.5l-.2-1.5l0-1l.1-1l.3-1.5l.4-1l.5-1l.7-1l.8-.8l1-.7l1-.5l1-.3l1-.1l1 0l1 .2l1 .4l.5 .3l1.2 1l1.8 2.1l.6 .4l.9 .3l3 .1l4.5 .1l5-.2l4-.3l.5-.2l.5-.4l.7-2.4l.6-1.5l.9-1.5l.8-1l1-.8l1-.4l1-.1l1 .2l1 .5l1 .8l1 1.4l.7 1.4l.5 1.5l.5 2l.1 1.5l.1 2l-.2 2l-.4 2l-.5 1.5l-.6 1.5l-.7 1l-1 1l-1 .7z" fill="#c2c2c2" stroke="#f2f2f2" stroke-width="0.4"/>
<path d="M249.2 113.1l-1 .1l-.5-.2l-.5-.2l-1-.7l-.5-.6l-.6-1l-1.4-3.3l-.5-.5l-.5-.1l-.5 0l-8.5 .9l-4.5 .4l-4 .2l-1 .1l-.5 .2l-.5 .3l-2 2.2l-.7 .6l-.8 .5l-.5 .2l-1 .3l-1 .1l-1-.2l-1-.4l-1-.6l-.9-.9l-.7-1l-.6-1.5l-.3-1l0-1.5l.2-1.5l.3-1l.4-1l.6-.8l.6-.7l.9-.7l1-.5l.5-.1l1-.2l1 .1l.5 .1l1 .4l.5 .3l.5 .4l.8 .7l1.7 2.3l.5 .5l.5 .2l.5 .2l2.5 .1l5-.1l6.5-.4l3.5-.3l.5-.2l.5-.3l.4-.5l1.1-3.5l.5-1l.8-1l.7-.7l1-.5l.5-.2l1 .1l1 .4l.5 .4l1 1l.6 1l.6 1.5l.3 1.5l.2 1.5l.1 1.5l-.1 2l-.3 1.5l-.5 1.5l-.4 1l-.5 .9l-1 1l-.5 .3z" fill="#8a8a8a" stroke="#2a2a2a" stroke-width="0.5"/>
<path d="M249.7 110.1l-.5 .2l-.5 .1l-.5-.1l-.5-.2l-.8-.6l-.4-.5l-.6-1l-.9-2.5l-.1-.5l0-.5l.6-2.5l.7-1.7l.5-.8l.5-.5l.5-.3l.5-.2l.5 0l.5 .1l.5 .2l.5 .4l.5 .5l.5 .8l.2 .5l.5 2l0 1l0 1.5l-.4 2l-.3 1l-.5 .8l-.5 .5zM218.7 110.1l-.5 .2l-1 .1l-1-.2l-.5-.3l-.5-.3l-.5-.5l-.4-.6l-.3-.5l-.4-1l-.1-1l.1-1l.2-1l.2-.5l.7-1l.5-.5l.5-.3l1-.4l1-.1l.5 .1l1 .4l.5 .4l.5 .5l.6 .9l.3 .5l.3 1l.1 1l0 .5l-.2 .5l-.4 1l-.7 1l-.5 .5z" fill="#adadad" stroke="#2a2a2a" stroke-width="0.5"/>
<path d="M249.2 107.7l-.5 .1l-.5-.2l-.5-.3l-.5-.6l-.4-.7l-.3-1l.1-1l.6-1.5l.5-.8l.5-.3l.5-.1l.5 .1l.5 .3l.3 .3l.2 .5l.3 1.5l-.1 1.5l-.2 1l-.5 .9zM217.7 108.1l-.5 0l-.5-.1l-.5-.3l-.5-.7l-.3-1l.1-1l.2-.5l.5-.6l.5-.3l.5-.2l.7 .1l.3 .1l.5 .3l.5 .7l.3 .9l-.1 1l-.2 .5l-.5 .7l-.5 .3z" fill="#787878" stroke="#2a2a2a" stroke-width="0.5"/>
<path d="M248.7 106.6l-.5-.1l-.5-.5l-.3-.5l-.1-.5l0-.5l.4-1.1l.5-.6l.5-.2l.5 .1l.2 .3l.3 .6l.1 .9l-.1 1l-.2 .5l-.3 .5zM217.7 106.6l-.5 .1l-.2-.2l-.3-.5l0-.5l.5-.6l.5 0l.5 .6l0 .5l-.3 .5z" fill="#222"/>
<path d="M244.2 81.6l-1.5-.1l-1.2-.5l-.3-.9l-.7-.6l-.3-1l-1-1.3l0-.4l.5-.4l.5 0l.4-.4l0-.5l-.1-.5l.8-1l-.1-.3l-.3-.2l.3-.1l.9-.9l0-.5l-.2-.5l.2-.5l1.1-.8l.3-.7l.4-.5l1.3-.7l1-.3l1 0l.6-.5l.4-.6l.5-.3l.5 .2l.5-.1l.5 0l.5 .7l.5 .1l1 .5l.5 0l.6 .5l.1 .5l-.5 .5l.3 .5l1 1l-.1 1l-.5 .5l0 .5l.3 .5l.1 .5l-.8 .5l-.5 1l-.5 .5l-.3 1.5l-2.2 .9l-1.5 .2l-1.4 .9l-.6 .6l-.5 .2l-1 .7l-.3 .5z" fill="#0c0c0c"/>
<path d="M244.2 79.1l-1 .2l-.5-.1l-.5-.2l-.3-.5l-.1-.5l.2-1l.5-1l.4-.5l.2-.5l.4-1.5l.8-1.5l.9-1l.5-.5l1-.7l1-.6l1-.3l1 0l1 .2l.5 .3l.5 .6l.2 .5l.2 1l-.1 1l-.2 .5l-.7 1.5l-.8 1l-.5 .5l-1.1 .9l-.5 .3l-1 .5l-1 .2l-.5 .2l-.5 .4z" fill="#fff" stroke="#111" stroke-width="0"/>
<path d="M244.2 78.5l-.5 .1l-.5 0l-.2-.1l-.3-.2l-.1-.3l-.1-.5l.1-.5l.2-.5l.3-.5l.5-.5l.4-2l.6-1l.3-.5l.8-.9l.5-.4l.5-.4l1-.5l.5-.2l1-.1l1 .1l.5 .3l.5 .6l.2 .5l.1 1l-.1 .5l-.3 1l-.6 1l-.8 1l-.6 .5l-.9 .7l-1 .4l-1.5 .3l-.6 .6z" fill="none" stroke="#111" stroke-width="0.45"/>
<path d="M244.2 77.5l-.5-.1l-.1-.4l.2-.5l.8-1l-.1-.5l0-1l.4-1l.7-1l1.1-1l.5-.3l1-.4l1-.1l.5 .1l.5 .4l.3 .3l.2 .5l.1 .5l-.1 .5l-.3 1l-.6 1l-.4 .5l-.7 .6l-1 .6l-1 .4l-.5 0l-.5-.1l-.5 .2l-.5 .6z" fill="none" stroke="#111" stroke-width="0.45"/>
<path d="M247.7 75.6l-1 .3l-.5-.1l-.6-.3l-.4-.5l0-.5l.2-1l.2-.5l.6-.8l1-.8l1-.4l.5-.1l.5 .1l.5 .4l.3 .6l0 .5l-.1 .5l-.2 .6l-.6 .9l-.5 .5z" fill="none" stroke="#111" stroke-width="0.45"/>
<path d="M247.2 75.1l-.5 0l-.5-.3l-.2-.3l0-.5l.1-.5l.2-.5l.4-.5l.5-.4l.5-.3l.5-.1l.5 .1l.3 .2l.2 .5l0 .5l-.1 .5l-.3 .5l-.6 .6l-.5 .3z" fill="none" stroke="#111" stroke-width="0.45"/>
<path d="M247.7 74.2l-.5 .1l-.5-.3l0-.5l.5-.7l.5-.3l.5 0l.3 .5l-.1 .5l-.4 .5z" fill="none" stroke="#111" stroke-width="0.45"/>
</g>
<path d="M198.1 66.6h1.3M198.1 76.6h1.3M198.1 86.0h1.3M198.1 96.0h1.3M198.1 113.5h1.3M206.4 122.0v0.9M219.7 122.0v0.9M233.0 122.0v0.9M245.1 122.0v0.9M256.4 122.0v0.9" stroke="#555" stroke-width="0.5"/>
<path d="M198.2 105.8v1.8M212.4 122.6h2.2" stroke="#111" stroke-width="1.1"/>
<g filter="url(#fb)">
<path d="M58.2 245.2h0.7M71.3 243.6h0.7M61.9 242.2h0.7M56.5 239.5h0.7M59.5 241.6h0.7M58.9 233.7h0.7M58.6 259.9h0.7M83.9 239.2h0.7M48.5 241.0h0.7M67.0 236.6h0.7M49.5 265.3h0.7M58.8 244.6h0.7M39.2 245.3h0.7M92.9 246.2h0.7M69.6 246.3h0.7M51.9 242.7h0.7M66.2 266.0h0.7M83.1 240.0h0.7M91.1 250.9h0.7M90.4 260.7h0.7M52.6 246.3h0.7M89.9 258.3h0.7M60.6 246.0h0.7M43.9 256.5h0.7M43.2 244.0h0.7M45.4 246.3h0.7M62.0 241.1h0.7M75.3 245.3h0.7M75.1 243.6h0.7M72.9 240.4h0.7M58.5 243.8h0.7M80.4 261.9h0.7M78.5 238.0h0.7M53.5 262.4h0.7M43.9 250.9h0.7M62.1 233.1h0.7M62.2 245.1h0.7M79.8 242.3h0.7M43.9 245.6h0.7M64.7 241.9h0.7M67.4 244.3h0.7M68.1 261.4h0.7M77.2 245.6h0.7M74.2 242.3h0.7M70.5 242.4h0.7M69.4 241.4h0.7M60.9 247.4h0.7M54.4 244.3h0.7M45.6 240.9h0.7M67.1 235.2h0.7M63.9 241.5h0.7M56.9 240.4h0.7M45.1 242.9h0.7M70.8 242.6h0.7M61.4 250.1h0.7M61.9 245.6h0.7M60.0 238.6h0.7M58.4 249.7h0.7M61.1 247.6h0.7M43.7 259.5h0.7M52.5 242.7h0.7M50.0 241.8h0.7M97.4 241.0h0.7M53.1 240.7h0.7M62.1 244.6h0.7M58.8 239.0h0.7M52.8 246.7h0.7M58.2 246.0h0.7M53.5 239.3h0.7M56.1 239.0h0.7M57.3 239.6h0.7M54.3 246.2h0.7M70.9 243.4h0.7M69.2 232.5h0.7M72.6 244.5h0.7M95.1 258.0h0.7M61.0 247.6h0.7M90.9 243.7h0.7M52.9 246.3h0.7M90.0 242.2h0.7M57.6 241.5h0.7M37.2 249.6h0.7M61.7 248.0h0.7M60.7 243.2h0.7M62.5 245.2h0.7M79.4 264.7h0.7M60.3 244.7h0.7M43.0 256.4h0.7M61.1 240.5h0.7M58.0 235.0h0.7M55.5 245.6h0.7M59.3 246.6h0.7M52.0 264.9h0.7M80.1 267.0h0.7M80.4 234.4h0.7M91.7 250.9h0.7M85.3 265.0h0.7M61.9 242.1h0.7M81.3 235.6h0.7M79.6 263.1h0.7M91.4 254.9h0.7M92.1 246.1h0.7M60.4 239.3h0.7M56.2 260.8h0.7M77.9 239.0h0.7M77.2 245.5h0.7M89.8 245.8h0.7M40.6 245.8h0.7M65.2 263.4h0.7M66.9 237.7h0.7M72.0 247.1h0.7M71.6 242.8h0.7M77.1 239.4h0.7M73.6 242.7h0.7M78.9 243.9h0.7M37.1 242.1h0.7M72.9 239.9h0.7M43.9 251.5h0.7M54.6 243.4h0.7M84.2 240.5h0.7M84.7 243.2h0.7M62.5 248.8h0.7M76.5 235.5h0.7M64.9 239.7h0.7M79.4 239.8h0.7M77.6 240.3h0.7M53.5 243.8h0.7M75.9 237.8h0.7M39.0 245.2h0.7M43.1 245.7h0.7M94.5 256.4h0.7M91.7 227.4h0.7M90.7 261.9h0.7M68.3 245.5h0.7M82.4 265.5h0.7M75.5 238.2h0.7M90.0 265.1h0.7M60.5 246.0h0.7M49.9 238.3h0.7M77.1 238.2h0.7M38.2 248.7h0.7M63.8 262.8h0.7M70.0 242.4h0.7M45.5 245.3h0.7M48.4 240.7h0.7M55.7 240.2h0.7M64.2 240.0h0.7M74.5 240.4h0.7M89.8 236.4h0.7M59.0 243.2h0.7M47.8 241.0h0.7M90.5 248.6h0.7M59.2 243.5h0.7M70.7 260.4h0.7M80.3 243.2h0.7M45.6 243.7h0.7M74.6 244.3h0.7M74.6 239.3h0.7M65.9 244.3h0.7M63.9 243.5h0.7M75.4 246.0h0.7M48.4 264.1h0.7M48.3 237.9h0.7M54.5 235.9h0.7M46.2 242.5h0.7M61.7 250.4h0.7M86.2 235.9h0.7M73.3 247.6h0.7M69.1 244.6h0.7M62.3 246.1h0.7M58.6 247.7h0.7M64.2 249.6h0.7M92.3 237.5h0.7M44.4 241.7h0.7M76.9 237.2h0.7M63.3 250.1h0.7M68.4 240.4h0.7M52.2 242.0h0.7M84.3 267.2h0.7M73.7 242.4h0.7M61.4 248.3h0.7M72.8 243.5h0.7M71.8 242.4h0.7M57.8 243.4h0.7M64.0 244.4h0.7M63.0 245.6h0.7M41.5 230.0h0.7M72.4 247.1h0.7M60.7 246.4h0.7M58.6 244.7h0.7M56.7 244.9h0.7M46.6 266.6h0.7M87.3 240.7h0.7M69.0 261.4h0.7M42.5 247.2h0.7M74.4 238.7h0.7M83.0 263.2h0.7M64.4 239.0h0.7M75.1 245.0h0.7M58.1 250.8h0.7M57.0 240.9h0.7M53.5 239.3h0.7M79.8 242.9h0.7M72.9 232.8h0.7M41.1 254.9h0.7M59.1 267.5h0.7M62.6 263.5h0.7M46.0 226.4h0.7M77.2 263.0h0.7M76.5 239.3h0.7M47.9 229.8h0.7M69.1 225.3h0.7M45.5 250.9h0.7M81.4 224.1h0.7M83.6 223.1h0.7M81.8 223.7h0.7M81.6 220.9h0.7M82.9 221.5h0.7M83.5 218.5h0.7M81.5 223.4h0.7M80.4 221.7h0.7M85.3 217.8h0.7M81.3 224.1h0.7M83.0 220.9h0.7M83.2 223.8h0.7M84.4 219.7h0.7M80.3 225.2h0.7M79.9 226.0h0.7M82.4 224.0h0.7M83.7 223.8h0.7M87.0 218.5h0.7M82.9 220.1h0.7M81.6 222.9h0.7M79.2 224.7h0.7M83.3 221.3h0.7M83.8 219.6h0.7M81.0 226.3h0.7M82.8 221.3h0.7M86.9 217.8h0.7M81.8 225.1h0.7M82.6 223.7h0.7M81.8 223.9h0.7M81.4 225.3h0.7M80.8 224.3h0.7M84.6 221.4h0.7M82.8 220.6h0.7M83.0 223.4h0.7M84.6 217.8h0.7M80.4 220.9h0.7M84.9 219.4h0.7M82.2 220.1h0.7M83.1 222.2h0.7M83.6 218.3h0.7M81.7 220.8h0.7M82.9 220.3h0.7M81.1 226.2h0.7M78.6 227.6h0.7M82.0 221.1h0.7M81.2 226.7h0.7M83.3 222.5h0.7M81.1 223.4h0.7M80.4 224.9h0.7M80.6 225.5h0.7M80.0 223.7h0.7M86.5 219.5h0.7M79.8 224.3h0.7M83.8 219.9h0.7M84.5 221.7h0.7M81.4 221.2h0.7M82.8 221.8h0.7M79.7 223.1h0.7M85.8 218.7h0.7M84.2 217.8h0.7M85.0 223.4h0.7M80.5 225.6h0.7M81.9 222.6h0.7M85.9 224.0h0.7M81.4 224.7h0.7M82.0 222.3h0.7M82.0 223.7h0.7M83.4 222.8h0.7M80.4 226.2h0.7M80.5 224.1h0.7M82.1 225.1h0.7M85.4 222.0h0.7M82.9 222.8h0.7M82.9 224.1h0.7M81.4 225.4h0.7M79.8 221.8h0.7M82.2 223.5h0.7M81.6 221.7h0.7M85.1 221.9h0.7M83.8 220.2h0.7M79.9 227.5h0.7M80.3 223.0h0.7M77.8 228.6h0.7M81.0 222.5h0.7M82.3 219.5h0.7M86.2 220.9h0.7M82.2 221.9h0.7M79.6 224.2h0.7M85.7 219.2h0.7M85.1 217.3h0.7" stroke="#111" stroke-width="0.75" fill="none"/>
<path d="M89.0 266.0l-1-.4l-1 0l-.5-.3l-.5-.1l-.1-.1l.1-.3l.5-.2l-1.5-.4l-1 .3l-1-.3l.2-.6l-.1-.5l-.9 0l.3-.5l0-.5l-.5-.5l-.5-.1l-1 .4l-.5-.3l-.1-.5l.3-.5l-.8-.5l-.4-1.1l-.5 0l-1 .5l-.7-.4l-.3-.4l-.5 0l0 .5l.6 .9l-.1 .3l-.5-.2l-1-.1l-.5-.7l-.5-.1l-.5-.3l-.5-.1l-1 .6l-1-.9l-.2-.5l-.3-.3l-.3 .3l-.2 1.1l-.5 0l-1 .6l-.5 .1l-.4-.3l-.6-1.5l-1-.5l-.5 0l-.5 .5l.1 .5l.5 .5l.1 .5l-.2 .3l-.5 .3l-.5-.7l-1.5 .3l-.5 .4l-.5 .3l-1-.6l-.2-.3l0-.5l-.3-.1l-.5-.4l-.5-.2l-1.5 .5l-1-.2l-.5-.5l-1 .1l-.5 .3l.8 1.5l-.4 .5l-.6 .5l-.8 1.4l-.7 .1l-.5 1l-1.3 1.3l-.2-.3l.3-1l-.6-.2l-.5 .2l-.5 .4l-2.5-.2l-.5 .4l-.1-.1l0-.5l.3-.5l0-.5l-1.2-1.7l-.5 .1l-.3-.4l.1-1l-.3-.5l-.7-.5l.1-.5l-.2-.5l.1-1l-.3-.5l-.5 0l-.7-.5l-.1-.5l1-1.5l.4-1l0-1.5l-.6 0l-.2-.5l.2-.5l.4-.5l-.2-1l.3-.5l.2 .5l-.1 .5l.4 .3l.8-.3l-.1-1l.6-1.5l1.7-1.4l.4-.1l-.4-.5l.2-.5l.8-.4l.5 0l1 0l1 .6l1.5-.2l.4 .5l.1 .5l-.5 .5l-.1 .5l1.3 1l.8 .1l.5 .8l.5 .1l.2-.5l-.2-.3l-.5 .1l-.5-.3l.2-1l-.2-.2l-.5 .1l-.5-.7l-.4-.2l.9-.3l1-.7l.2 .5l.1 1l.2 .2l.5 .2l.5-.5l1.3 .6l.2 .5l-.1 .5l.1 .4l.5 .1l.2 0l.3-.1l.5-.7l.5 .1l.3 .2l.8 1l-.6 1l.3 1l-.2 .5l.5 .5l.4 .1l.2-.1l.3-.5l-.3-.5l.3-.3l.6-.2l.4-1l.6-.5l-.1-.2l-1 .3l-1-.2l-.4-.4l0-.5l.9-.7l1-.5l.5 .2l0 1l.5 .5l1 0l.3-2l-.4-1l.1-.1l.5-.1l.2 .7l.5 .5l.3 .7l.5 .1l0-.3l.5-.4l1 .1l.5-.1l.6 .9l.9 .4l.5-.4l-.1-.5l0-.5l.1-.1l.5 .1l.5 .5l1-.8l.5 0l.5 .9l.5 .5l.5 0l1-.7l1.5-.2l1 .8l.5-.1l.5-.4l.1-1.5l.2-.5l.2-.2l.5 .1l.5 .2l.2-.1l-.4-1l.3-.5l.4-.2l1.5-.2l.5 .3l.5 .6l.6 0l.5-.5l.1-.5l.3-.5l.2-1l.3-.2l.5 0l.4 .2l.1 .4l.5-.3l.5-.8l.8-.3l-.4-1l.2-.5l.4-.4l.5-.1l.7 1l.1 .5l-.6 1l.1 1l.4 .5l-.2 .5l-.5 .5l.6 1l.1 .5l-.4 1l0 .5l.4 1l.1 .5l-.5 .5l-.1 .5l1.4 1l-1.1 .5l-.4 .5l.2 1l.4 .5l.1 .5l-.5 .5l-.1 .5l.2 1l0 1.5l.4 1.5l-.3 .1l-.5-.3l-.4 .7l.4 .9l.2 .1l-.4 .5l.2 1l.4 .5l.2 .5l.1 1l-.2 .5l-.7 .5l.5 1l0 .5l-.4 .5l.1 .5zM83.5 241.8l-.5 0l-.2-.2l.3-.5l.4-.3l.2 .3l.1 .5zM78.5 245.3l-.5 .2l-.5-.1l-.3-.3l-.1-.5l.4-.6l.5-.1l.5 .2l.4 .5l-.1 .5zM50.1 245.1l-.1-.6l-.5 0l-1.3 .6l.8 .1zM73.6 248.6l.8-.5l-.1-.5l-.3-.2l-.5 0l-1-.7l-.5 0l-.4 .4l.4 .7l.5 .3l.4 .5zM59.1 250.6l.2-.5l-.3-.5l-1-.2l-.5 .2l-1.5-.2l-.3 .2l-.1 .5l.3 .5l.6 .4l.2-.4l.8-.3l.5 .4l.5 .1zM63.9 250.1l.1-.5l-.9 .5l.4 .2zM71.0 253.1l0-.2l-.4 .2zM78.0 257.6l0 .1zM62.7 259.1l-.1-.5l-.1 0l-.5 .5l.5 .3zM71.5 260.1l-.1 0l.2 0zM81.0 260.1l0-.2l-.3 .2l.3 .1zM46.0 263.3l-.5 .1l-.6-.3l.2-.5l.4-.5l.7 .5l.2 .5zM54.5 263.2l-.4-.6l.4-.3l.2 .3l0 .5zM84.6 263.1l-.1-.4l-.4 .4l.4 .1zM87.2 264.6l-.2-.4l-.5 .4l.5 .2zM89.8 269.1l-.5-.5l-.8-.4l-.6-.6l-.3-.5l.4-.5l.5 .2l.5 .4l1 .1l.3 .3l-.2 .5l.4 1" fill="#0c0c0c"/>
<path d="M88.0 264.3l-.5 0l-.5-.4l-1.5-1.3l-1-.8l-.5-.2l-1.5-.6l-1-.6l-2.2-2.3l-.3-.2l-.5-.2l-.5 0l-8 .2l-4.5 .1l-4.5-.1l-5.6-.3l-.4 .1l-.4 .4l-.7 1.5l-.6 1l-.8 .9l-.5 .5l-.5 .3l-1 .3l-.5 0l-1-.1l-1-.5l-.5-.5l-.8-.9l-.8-1.5l-.5-1.5l-.3-1.5l0-2l.2-2l.4-1.5l.7-1.5l.6-.9l.5-.5l1-.8l.5-.2l1-.1l1 .1l.5 .2l1 .8l.5 .5l.6 .9l1.1 2.5l.3 .4l.5 .2l3-.1l5.5-.5l6.8-1l6.2-1.1l1-.3l.5-.2l.5-.4l.5-.6l1-1.4l1-1.1l1-.6l1.5-.7l.5-.3l2.5-2.2l.5-.4l.5 0l.2 .3l.1 .5l.1 1l.2 10l-.2 9.5l-.1 1l-.1 .5z" fill="#c2c2c2" stroke="#f2f2f2" stroke-width="0.4"/>
<path d="M87.0 262.1l-.5-.1l-2.5-2l-1.5-1l-1-.9l-1.5-1.5l-.5-.4l-1-.5l-1-.1l-7.5 .5l-5 .2l-4 .1l-6-.2l-.5 .2l-.5 .5l-1 2.2l-.5 .7l-.5 .5l-.5 .4l-.5 .3l-1 .2l-.5-.1l-.5-.1l-.5-.3l-.7-.6l-.8-1l-.4-1l-.5-1.5l-.1-1.5l0-1.5l.2-1.5l.6-1.5l.6-1l.4-.5l.7-.6l.5-.3l1-.2l1 .2l.5 .3l.7 .6l.4 .5l.6 1l.8 2l.5 .7l.5 .2l1 .1l2-.1l5.5-.3l5-.5l7.5-1l1.5-.4l1-.6l1-.8l2-2.2l.7-.6l1.8-1.4l2-1.7l.5-.4l.5-.1l.3 .6l.2 1l.1 8l-.1 7.5l-.2 1z" fill="#8a8a8a" stroke="#2a2a2a" stroke-width="0.5"/>
<path d="M85.5 258.8l-.5-.2l-1.5-1.2l-1-.9l-1.9-1.9l-.9-1l-.2-.5l0-.5l.2-.5l.4-.5l2.4-2.5l2-1.7l.5-.4l.5-.2l.3 .3l.2 .5l.2 2l0 3.5l-.1 4.5l-.1 .6l-.2 .4zM51.0 258.8l-.5 .2l-.5 .1l-.5-.1l-.7-.4l-.3-.3l-.5-.7l-.5-1l-.2-1l0-1l0-1l.2-1l.5-1l.5-.7l.5-.5l.5-.2l.5-.1l.5 .1l.5 .2l.7 .7l.3 .5l.5 1l.4 1.5l0 1l-.4 1.5l-.5 1.1l-.5 .6z" fill="#adadad" stroke="#2a2a2a" stroke-width="0.5"/>
<path d="M84.0 255.6l-1-.7l-.8-.8l-.4-.5l-.2-.5l-.1-.5l.3-.5l.7-.9l1-.9l.5-.3l.5 .2l.1 .4l.2 1l0 1.5l0 1l-.2 1l-.1 .4zM50.5 256.8l-.5 .1l-.5-.2l-.6-.6l-.3-1l0-1l.3-1l.6-.6l.5-.2l.5 .1l.5 .6l.3 .6l.1 .5l.1 .5l-.2 1l-.3 .6z" fill="#787878" stroke="#2a2a2a" stroke-width="0.5"/>
<path d="M83.5 253.7l-.5-.4l-.1-.2l0-.5l.1-.3l.5-.3l.1 .1l.2 .5l0 .5zM50.0 255.5l-.4-.4l-.1-.5l.1-.5l.4-.4l.5 .4l.1 .5l-.1 .5z" fill="#222"/>
</g>
<path d="M32.4 215.1h1.3M32.4 225.1h1.3M32.4 234.5h1.3M32.4 244.5h1.3M32.4 261.9h1.3M40.6 270.4v0.9M53.9 270.4v0.9M67.2 270.4v0.9M79.2 270.4v0.9M90.4 270.4v0.9" stroke="#555" stroke-width="0.5"/>
<path d="M32.5 254.2v1.8M46.6 271.0h2.2" stroke="#111" stroke-width="1.1"/>
<g filter="url(#fb)">
<path d="M157.8 240.5h0.7M140.0 241.2h0.7M152.3 243.0h0.7M135.7 238.3h0.7M133.0 242.8h0.7M177.4 240.0h0.7M128.2 242.4h0.7M144.2 240.5h0.7M151.7 238.0h0.7M158.3 249.3h0.7M150.5 244.6h0.7M143.4 242.6h0.7M153.0 243.9h0.7M175.8 258.1h0.7M146.4 250.2h0.7M152.8 242.7h0.7M135.7 239.7h0.7M173.0 236.0h0.7M169.1 232.2h0.7M136.8 242.7h0.7M129.7 245.8h0.7M128.7 245.9h0.7M127.5 246.5h0.7M132.8 241.0h0.7M156.3 237.4h0.7M153.7 240.4h0.7M148.2 236.4h0.7M140.3 236.1h0.7M155.3 237.3h0.7M145.2 241.1h0.7M178.3 263.1h0.7M155.0 235.6h0.7M168.7 267.5h0.7M134.8 235.6h0.7M129.3 249.0h0.7M154.9 235.0h0.7M138.7 239.6h0.7M136.8 236.4h0.7M161.2 235.3h0.7M132.2 263.9h0.7M163.0 268.4h0.7M165.4 240.8h0.7M158.8 243.4h0.7M150.2 246.0h0.7M154.2 238.8h0.7M148.3 245.9h0.7M159.0 242.9h0.7M173.7 266.8h0.7M140.2 242.2h0.7M161.7 259.0h0.7M146.7 245.3h0.7M148.5 244.6h0.7M163.6 268.7h0.7M155.6 243.5h0.7M159.5 244.2h0.7M130.0 245.1h0.7M127.8 244.2h0.7M153.1 236.0h0.7M127.8 251.6h0.7M149.8 243.6h0.7M166.2 231.1h0.7M150.3 239.6h0.7M142.2 242.9h0.7M153.3 242.9h0.7M152.3 242.5h0.7M156.1 239.8h0.7M127.9 260.9h0.7M147.4 239.7h0.7M175.5 241.1h0.7M155.8 240.1h0.7M176.7 254.5h0.7M146.3 231.1h0.7M153.4 259.6h0.7M153.1 241.5h0.7M162.9 230.7h0.7M134.0 243.0h0.7M167.8 236.7h0.7M147.0 261.4h0.7M148.7 243.7h0.7M129.6 244.2h0.7M159.9 238.6h0.7M160.2 240.1h0.7M161.4 243.0h0.7M134.9 240.6h0.7M171.2 234.7h0.7M161.8 234.9h0.7M157.0 241.4h0.7M158.3 238.1h0.7M158.2 242.8h0.7M147.3 234.8h0.7M129.9 263.4h0.7M160.0 242.3h0.7M127.6 247.4h0.7M149.5 246.3h0.7M134.2 242.8h0.7M140.8 239.4h0.7M152.3 239.1h0.7M129.4 262.6h0.7M168.0 239.3h0.7M157.9 238.6h0.7M164.0 265.1h0.7M151.6 246.2h0.7M152.5 238.4h0.7M147.8 235.9h0.7M141.9 238.8h0.7M177.3 248.3h0.7M151.4 236.5h0.7M181.3 241.1h0.7M181.3 253.8h0.7M155.3 237.7h0.7M146.2 241.8h0.7M176.1 245.0h0.7M150.2 240.8h0.7M157.0 236.0h0.7M157.0 241.6h0.7M154.0 238.1h0.7M128.5 237.2h0.7M159.3 243.4h0.7M165.4 235.0h0.7M165.4 237.2h0.7M147.1 238.7h0.7M134.1 241.9h0.7M133.7 266.4h0.7M155.5 238.6h0.7M153.7 244.1h0.7M159.9 234.5h0.7M153.1 243.9h0.7M166.9 232.3h0.7M127.5 240.4h0.7M151.4 239.9h0.7M173.6 268.3h0.7M165.9 268.6h0.7M166.8 266.9h0.7M155.5 241.0h0.7M137.1 242.1h0.7M177.3 254.9h0.7M141.6 265.3h0.7M155.8 243.1h0.7M149.2 245.4h0.7M127.5 238.3h0.7M182.1 240.0h0.7M153.4 241.4h0.7M148.9 237.8h0.7M122.9 253.7h0.7M151.9 263.2h0.7M174.2 261.6h0.7M157.2 245.1h0.7M185.2 241.3h0.7M178.3 246.1h0.7M165.6 238.5h0.7M173.7 243.7h0.7M162.9 239.7h0.7M138.1 265.8h0.7M157.3 241.8h0.7M150.2 245.7h0.7M156.9 240.6h0.7M159.8 241.5h0.7M149.8 243.7h0.7M160.1 236.9h0.7M130.3 246.3h0.7M151.8 240.2h0.7M136.1 242.9h0.7M170.9 267.2h0.7M147.5 227.3h0.7M161.8 259.2h0.7M124.1 238.9h0.7M177.5 245.2h0.7M123.7 247.9h0.7M160.6 259.9h0.7M169.0 261.7h0.7M174.3 240.6h0.7M169.3 258.2h0.7M173.9 251.6h0.7M130.5 224.9h0.7M145.0 234.7h0.7M146.4 235.8h0.7M139.8 230.1h0.7M137.9 230.6h0.7M132.9 222.8h0.7M132.0 230.4h0.7M134.6 228.6h0.7M136.6 227.6h0.7M131.9 237.4h0.7M130.3 230.1h0.7M136.4 234.3h0.7M146.0 226.4h0.7M144.9 225.9h0.7M134.7 229.5h0.7M132.8 230.3h0.7M141.1 238.2h0.7M145.4 238.9h0.7M133.0 234.8h0.7M141.9 229.1h0.7M156.0 220.8h0.7M140.7 224.1h0.7M139.8 235.1h0.7M141.5 237.2h0.7M143.7 236.8h0.7M138.2 229.6h0.7M137.5 227.2h0.7M126.2 235.6h0.7M138.0 242.2h0.7M140.4 233.2h0.7M131.3 233.0h0.7M140.4 227.7h0.7M137.7 232.7h0.7M130.2 219.0h0.7M150.0 230.7h0.7M168.0 222.5h0.7M168.9 219.8h0.7M164.8 222.8h0.7M171.6 220.5h0.7M165.1 223.2h0.7M169.5 221.3h0.7M169.5 220.2h0.7M163.6 224.9h0.7M165.1 222.0h0.7M165.4 223.2h0.7M165.4 222.1h0.7M167.7 223.2h0.7M166.8 221.4h0.7M166.1 222.6h0.7M167.0 223.4h0.7M167.8 220.9h0.7M171.1 218.5h0.7M165.5 223.6h0.7M166.6 222.7h0.7M167.1 221.6h0.7M169.8 221.2h0.7M169.9 220.5h0.7M167.1 221.6h0.7M167.1 222.0h0.7M169.3 220.5h0.7M166.4 222.8h0.7M166.0 222.2h0.7M169.6 221.0h0.7M171.8 218.9h0.7M169.9 219.7h0.7" stroke="#111" stroke-width="0.75" fill="none"/>
<path d="M167.6 268.1l-.9-1.5l-1.1 .3l-.5 0l-.3-.3l.3-.5l0-1.1l-.5-.3l-.5 .3l-.4-.4l.3-1.5l-.4-.5l-1 .9l-.5-.4l0-1l-.5-1.5l-.5-.3l-1 0l-.2-.2l-.2-.5l0-1l.6-.5l-.4-.5l-.3-.1l-.4 .1l0 .5l.3 .5l-.9 1l-1-.2l-2 .8l-1.5-.4l-.5-.6l-.5 .2l-1.5 1.4l-.5-.2l0-.6l-.2-.4l-.3-.1l-.9 .6l-.1 1l-.5 .4l-.5 .2l-.2-.1l-.3-1.1l-.5-.6l-.5-.3l-.5 .2l-1 .7l-2 .8l-.5-.3l-.6 .1l-.2 .5l.3 .5l.5-.2l.3 .2l.2 .5l-.5 .4l-.5 0l-.5-.7l-1 1.1l-1 .3l-1-.4l-.5 1.1l-.5 .1l-.4-.4l-.2-.5l-.4-.2l-.6 .2l-.2 .5l-.7 .6l-1-.4l-.3-.2l-.2-1l-.5-.2l-.5 0l-1-.8l-.5-.2l-.1-.3l.4-.5l.7-.5l.2-.5l-.7-.3l-.8-.7l-.3-1l-.4-.3l-.5 .1l-.8-.8l0-.5l.5-1l-.6-.5l-.3-1.5l.7-.8l.6-.2l-.1-.2l-.5-.1l-.2-.2l-.2-.5l.3-1l-.4-.1l-.2-.4l0-.5l.2-.2l.5-.1l.5 .2l.6-.4l.4-.5l0-.6l-.4-.4l0-.5l.5-.5l-.1-.5l1-.9l2.3-1.6l.2-.5l.5 0l.5 .4l1-.2l1-.6l.5-.6l.5 .5l.5 .2l1 .2l.5-.5l.3 .1l.1 .5l-.9 .3l0 .7l.5 .5l.6 0l.4-.7l.5-.2l1 .2l1-.6l1 0l.3 .3l.2 1.5l.5 .4l.5 0l.5-.4l.5-.8l.5 .6l.3 .2l-.3 .5l-.7 .5l.7 .4l1-.2l.5 .1l.5 .5l1.5-.3l.4-.5l-.4-.5l1-.5l.5-.1l.5 .1l-.8 1.5l.3 .3l.5-.1l.9-.7l-.1-.5l.2-.5l.5-.4l.5-.2l1 .1l.4 .5l-.1 .5l1.2 .4l.5-.1l.5-.9l1-1.1l.5 .7l.5 0l.1-1l.6-.5l.8-1l1 0l1-.8l1-.2l.2-.5l-1-.5l.3-.6l.4-.4l1.1-.4l1 .5l.2 .4l.1 .5l.2 .1l1.5-.7l.5 0l.2 .1l.2 .5l-.4 .2l-.2 .3l.2 .6l.5 .3l.2-.4l.3-.2l.5 .1l1 0l.8 .6l.2 .5l-.5 0l-.6 .5l.3 .5l.3 .1l1 .8l.3 1.6l.1 1.5l.7 0l.1 1l.7 .5l0 .5l-.3 .5l-.4 .5l.3 .5l-.2 1l0 1l.3 1.5l-.5 1l-.1 .5l.2 2.5l-.2 .2l-.7 .3l-.8 1.4l-.6 .1l-.2 .5l.2 1.5l.8 .5l-.2 1l-1.5-.4l-.4 .4l.4 .6l.4 .4l.1 .5l-.5 .4l-1 .4l-.5 .1l-.5-1l-.5-.6l-.2 1.2l.1 .5l.2 .5l.1 .5l-.2 .2l-1 .1l-.5 .2zM149.6 244.8l-.6-.2l.1-.7l.5-.3l.5 .5l-.1 .5zM151.1 246.6l-.9-.5l0-.5l.4-.5l.5-.1l.5 .1l0 .5l-.4 .5zM131.1 245.8l0-.2l.1 0zM156.9 247.6l-.2-.5l-.1 0l-.2 .5l.2 .1zM159.0 247.1l-.4-.2l-.5 .2l.5 .2zM150.7 247.6l-.1-.2l-.2 .2l.2 .3zM154.6 249.6l.3-.5l-.3-.5l-.5 .2l-.5 .6l-.6 .2l.1 .1l1 .1zM158.3 249.1l0-.5l-.2-.4l-.3 .4l.2 .5zM148.2 250.1l.4-.4l.5-.1l-1-.2l-.5 .2l-.5-.1l-1 .6l0 .1l.5 .1zM176.1 250.2l0-.2zM147.7 258.6l.5-.5l-.6-.3l-.3 .8l.3 .1zM161.7 259.1l.2-.5l-.3-.8l-.4 .8l.2 .5zM155.8 258.6l-.2-.5l-.3 .5l.3 .2zM140.6 265.5l-.1-.4l.1-.2l.2 .2z" fill="#0c0c0c"/>
<path d="M168.6 263.7l-1 .1l-1-.2l-.5-.2l-1-.8l-.5-.5l-.7-1l-.6-1l-.7-1.6l-.3-.4l-.2-.3l-.5-.2l-1 0l-8 .9l-8 .5l-1 .3l-.5 .2l-2 1.5l-1.5 .7l-1 .2l-1 0l-1.5-.2l-1-.4l-.5-.3l-1-.8l-.9-1.1l-.9-1.5l-.5-1.5l-.3-2l0-1l.1-1l.4-1.5l.4-1l.6-1l.7-1l.9-.8l.5-.4l1-.5l1-.3l1-.1l1.5 .1l.5 .1l1 .5l1 .6l2 1.8l.5 .4l1 .3l3 .3l4.5 .1l5.5-.1l2 0l1-.2l.5-.1l.5-.6l1.3-3.1l.7-1.3l1-1.1l1-.8l1-.3l1-.1l1 .2l1 .6l1 1l.9 1.3l.5 1l.5 1.5l.4 1.5l.3 2l.1 2l-.1 2l-.4 2l-.4 1.5l-.8 2l-.5 .8l-1 1.1l-1 .8z" fill="#c2c2c2" stroke="#f2f2f2" stroke-width="0.4"/>
<path d="M168.6 261.7l-.5 .1l-1 0l-1-.5l-.5-.4l-.7-.8l-.6-1l-1.2-2.6l-.5-.6l-.5-.3l-.5-.1l-8.5 .7l-8.5 .4l-.5 .1l-.5 .3l-.5 .3l-1.8 1.8l-1.2 .8l-1 .4l-.5 .1l-1 .1l-1-.2l-1-.4l-1-.7l-1-1.1l-.6-1l-.6-1.5l-.1-1l-.1-1.5l.3-1.5l.3-1l.6-1l.7-1l.5-.4l.5-.4l1-.5l1-.3l.5-.1l1 .1l.5 .1l.5 .2l1 .5l1 .9l2 2.3l.5 .4l1 .3l3 .2l5 0l5.5-.2l2-.1l1-.2l.5-.2l.5-.5l.5-1l1-2.7l.5-.9l.8-1l.7-.6l1-.5l1 0l.5 .1l.5 .2l1 .7l.9 1.1l.6 1l.4 1l.5 2l.2 1.5l0 1.5l-.1 1.5l-.2 1.5l-.4 1.5l-.6 1.5l-.6 1l-.7 .7l-.5 .4z" fill="#8a8a8a" stroke="#2a2a2a" stroke-width="0.5"/>
<path d="M168.6 258.8l-.5 .1l-.5 .1l-.5-.2l-.5-.2l-.5-.5l-.5-.7l-.5-.9l-.7-1.9l-.3-1l.1-1l.5-2l.3-1l.5-1l.6-.9l.5-.5l.5-.2l.5-.2l.5 .1l.5 .1l.5 .3l.5 .5l.5 .6l.4 .7l.3 1l.3 2l0 1l-.1 1.5l-.5 2l-.4 1l-.4 .5l-.6 .5zM138.6 258.2l-1 .1l-.5-.1l-1-.4l-.5-.4l-.5-.5l-.5-.8l-.4-1l-.2-1l.1-1l.2-1l.3-.8l.4-.7l.6-.6l.5-.4l.5-.2l1-.3l1 .1l.5 .2l.5 .2l.6 .5l.5 .5l.6 1l.2 .5l.2 1l.1 1l-.1 .5l-.3 1l-.3 .6l-.5 .7l-.5 .5l-.5 .4z" fill="#adadad" stroke="#2a2a2a" stroke-width="0.5"/>
<path d="M168.6 256.2l-.5 .1l-.5 0l-.5-.3l-.5-.5l-.5-.8l-.4-1.1l.1-1l.5-1.5l.3-.5l.4-.5l.6-.4l.5 0l.5 .2l.5 .5l.3 .7l.2 .7l.1 1.3l-.2 1.5l-.4 1.1zM138.6 255.9l-.5 .1l-.5 .1l-.5-.2l-.5-.3l-.4-.5l-.2-.5l-.1-.5l0-1l.2-.5l.5-.7l.5-.4l.5-.1l.5 0l.5 .1l.5 .4l.5 .7l.2 .5l0 1l-.2 .7l-.5 .7z" fill="#787878" stroke="#2a2a2a" stroke-width="0.5"/>
<path d="M168.1 255.2l-.5-.1l-.6-.5l-.4-.6l-.1-.4l0-.5l.1-.6l.5-.9l.5-.4l.5-.1l.5 .3l.1 .2l.2 .5l.1 1l-.2 1l-.1 .5l-.1 .2zM138.1 254.5l-.5 .1l-.5-.5l0-.6l.2-.4l.3-.2l.5 0l.3 .2l.2 .5l-.1 .5z" fill="#222"/>
</g>
<path d="M119.0 215.1h1.3M119.0 225.1h1.3M119.0 234.5h1.3M119.0 244.5h1.3M119.0 261.9h1.3M127.2 270.4v0.9M140.5 270.4v0.9M153.8 270.4v0.9M165.8 270.4v0.9M177.1 270.4v0.9" stroke="#555" stroke-width="0.5"/>
<path d="M119.1 254.2v1.8M133.2 271.0h2.2" stroke="#111" stroke-width="1.1"/>
<g filter="url(#fb)">
<path d="M225.0 242.5h0.7M229.3 240.7h0.7M247.3 237.9h0.7M235.4 236.9h0.7M225.6 239.9h0.7M252.8 240.8h0.7M226.2 242.1h0.7M236.9 258.1h0.7M255.5 245.2h0.7M232.0 235.8h0.7M239.6 237.7h0.7M222.0 244.5h0.7M239.9 244.3h0.7M233.7 242.0h0.7M226.0 246.2h0.7M233.0 251.1h0.7M231.7 239.4h0.7M220.8 242.3h0.7M207.0 255.1h0.7M232.1 238.0h0.7M217.9 238.9h0.7M223.0 241.8h0.7M255.2 256.3h0.7M223.5 239.7h0.7M240.1 244.2h0.7M257.9 250.4h0.7M232.0 243.4h0.7M230.8 260.3h0.7M238.4 240.1h0.7M203.2 240.1h0.7M242.7 240.6h0.7M215.5 240.5h0.7M221.6 243.7h0.7M234.7 239.8h0.7M204.7 241.7h0.7M239.5 244.7h0.7M226.0 240.1h0.7M235.4 241.0h0.7M238.8 243.8h0.7M231.9 241.9h0.7M224.7 245.1h0.7M229.6 235.6h0.7M209.6 243.6h0.7M236.8 263.1h0.7M257.7 251.6h0.7M261.8 249.1h0.7M234.8 242.9h0.7M216.5 240.4h0.7M222.7 238.3h0.7M224.9 231.4h0.7M225.5 239.8h0.7M258.4 248.5h0.7M251.8 269.2h0.7M249.0 237.4h0.7M254.1 237.4h0.7M246.8 235.1h0.7M233.1 240.1h0.7M229.9 238.5h0.7M239.7 239.3h0.7M225.7 239.1h0.7M220.8 266.7h0.7M238.3 236.0h0.7M209.9 238.7h0.7M219.6 240.8h0.7M210.5 266.0h0.7M235.7 240.7h0.7M237.7 239.7h0.7M236.6 243.9h0.7M217.6 234.6h0.7M242.2 241.9h0.7M206.1 245.4h0.7M224.9 241.3h0.7M229.6 243.8h0.7M254.2 265.4h0.7M204.1 241.5h0.7M215.3 239.5h0.7M231.0 241.6h0.7M213.2 236.6h0.7M234.1 244.5h0.7M222.1 238.4h0.7M223.1 242.5h0.7M257.5 241.9h0.7M230.4 243.9h0.7M237.1 241.9h0.7M211.2 238.6h0.7M209.6 264.8h0.7M204.9 245.2h0.7M255.5 246.1h0.7M245.1 236.3h0.7M218.5 239.6h0.7M219.2 245.2h0.7M226.3 234.8h0.7M205.7 240.2h0.7M219.0 245.5h0.7M224.4 243.9h0.7M237.7 238.6h0.7M253.7 240.0h0.7M263.2 238.0h0.7M257.7 250.6h0.7M229.5 242.1h0.7M205.5 243.8h0.7M225.8 241.0h0.7M230.4 243.1h0.7M215.1 239.3h0.7M235.7 238.9h0.7M255.7 242.1h0.7M210.3 244.9h0.7M234.5 245.0h0.7M208.1 262.0h0.7M259.2 252.2h0.7M209.3 250.2h0.7M236.2 243.4h0.7M247.7 266.8h0.7M244.4 240.0h0.7M255.3 259.1h0.7M207.4 250.3h0.7M204.2 253.9h0.7M250.8 239.1h0.7M254.9 249.4h0.7M209.9 245.5h0.7M235.3 242.6h0.7M244.8 234.3h0.7M215.2 241.7h0.7M233.1 241.8h0.7M229.5 238.9h0.7M254.7 266.1h0.7M218.2 241.5h0.7M208.4 246.4h0.7M232.1 241.9h0.7M257.2 257.1h0.7M255.2 254.0h0.7M219.0 237.4h0.7M225.6 236.0h0.7M257.8 235.4h0.7M240.6 240.4h0.7M222.4 263.1h0.7M239.0 241.1h0.7M205.4 237.7h0.7M259.1 248.4h0.7M254.1 235.8h0.7M226.7 230.2h0.7M239.1 226.4h0.7M217.0 254.4h0.7M213.9 257.4h0.7M246.8 232.6h0.7M224.6 247.4h0.7M235.2 234.6h0.7M218.9 234.4h0.7M223.4 233.1h0.7M239.8 223.6h0.7M230.4 226.0h0.7M229.9 231.4h0.7M240.2 222.3h0.7M227.1 238.0h0.7M237.9 236.1h0.7M239.2 234.4h0.7M230.6 234.2h0.7M231.1 237.8h0.7M241.9 230.3h0.7M222.8 234.2h0.7M239.8 231.8h0.7M219.6 226.9h0.7M237.6 238.1h0.7M208.2 242.2h0.7M234.5 225.5h0.7M241.5 234.1h0.7M229.0 234.1h0.7M219.0 236.8h0.7M237.2 228.3h0.7M216.9 229.2h0.7M230.7 235.6h0.7M223.4 238.2h0.7M222.3 241.5h0.7M224.7 226.3h0.7M219.8 231.0h0.7M236.0 235.1h0.7M225.5 242.3h0.7M239.5 243.6h0.7M227.8 243.5h0.7M224.1 238.0h0.7M228.2 232.2h0.7M241.7 233.1h0.7M227.3 237.3h0.7M234.8 226.4h0.7M229.8 239.2h0.7M230.2 239.5h0.7M219.0 237.6h0.7M231.1 233.8h0.7M234.2 234.7h0.7M211.8 237.7h0.7M227.6 230.5h0.7M224.4 238.6h0.7M224.2 241.9h0.7M239.5 232.2h0.7M230.9 243.8h0.7M244.2 232.4h0.7M245.0 233.1h0.7M235.9 238.5h0.7M224.5 229.7h0.7M218.8 233.3h0.7M229.2 237.9h0.7M220.0 224.6h0.7M225.1 241.4h0.7M237.0 236.0h0.7M234.9 240.1h0.7M227.8 231.3h0.7M247.5 233.8h0.7M225.0 224.0h0.7M231.0 246.6h0.7M235.2 222.5h0.7M222.7 235.4h0.7M223.3 232.1h0.7M222.5 229.1h0.7M208.9 235.6h0.7M231.0 237.5h0.7M222.4 234.2h0.7M220.9 246.9h0.7M218.7 235.3h0.7M244.9 241.9h0.7M236.7 239.7h0.7M260.1 238.2h0.7M229.6 230.5h0.7M227.6 234.3h0.7M231.8 243.3h0.7M247.0 234.9h0.7M238.3 216.7h0.7M221.8 250.5h0.7M229.4 238.1h0.7M215.2 237.5h0.7M209.6 227.5h0.7M251.8 224.7h0.7M223.8 234.1h0.7M215.6 241.5h0.7M226.6 236.4h0.7M223.0 236.2h0.7M239.8 244.7h0.7M232.7 242.9h0.7M225.5 230.1h0.7M226.0 234.2h0.7M220.2 236.0h0.7M235.3 235.6h0.7M219.1 236.9h0.7M232.8 241.1h0.7M237.1 227.1h0.7M225.3 233.5h0.7M240.7 245.1h0.7M232.9 236.1h0.7M235.2 224.6h0.7M231.7 236.8h0.7M215.4 242.7h0.7M234.0 239.2h0.7M218.4 240.4h0.7M236.7 240.2h0.7M222.4 231.9h0.7M204.6 228.6h0.7M223.4 223.5h0.7M226.1 233.7h0.7M223.6 236.3h0.7M222.0 223.3h0.7M244.3 232.7h0.7M223.6 238.8h0.7M228.2 244.2h0.7M231.5 241.6h0.7M251.1 237.7h0.7M235.0 236.1h0.7M232.8 222.2h0.7M221.9 232.4h0.7M230.9 224.4h0.7M226.4 238.0h0.7M217.5 238.1h0.7M227.3 240.2h0.7M231.4 227.1h0.7M239.0 236.1h0.7M219.3 239.2h0.7M215.5 232.9h0.7M218.6 230.3h0.7M229.5 240.1h0.7M246.8 235.6h0.7M222.2 234.7h0.7M211.5 236.3h0.7M237.8 220.0h0.7M228.1 240.8h0.7M257.0 237.4h0.7M229.1 237.2h0.7M243.8 237.5h0.7M233.6 235.3h0.7M219.0 229.8h0.7M240.6 227.9h0.7M234.1 236.3h0.7M221.0 230.2h0.7M232.5 249.6h0.7M221.1 227.3h0.7M226.8 233.5h0.7M220.6 238.4h0.7M215.5 224.9h0.7M215.6 233.7h0.7M215.7 242.9h0.7M224.3 231.9h0.7M221.4 237.0h0.7M232.8 237.3h0.7M232.8 237.3h0.7M223.1 234.3h0.7M221.5 228.9h0.7M243.0 233.8h0.7M227.5 234.2h0.7M230.5 242.9h0.7M228.6 234.4h0.7M237.1 228.5h0.7M231.7 239.2h0.7M226.3 244.8h0.7M229.6 236.6h0.7M222.5 227.9h0.7M235.9 234.9h0.7M224.8 234.6h0.7M240.6 231.5h0.7M223.5 236.4h0.7M237.7 235.0h0.7M223.2 248.5h0.7M215.0 240.4h0.7M227.4 236.8h0.7M241.2 234.3h0.7M237.4 237.9h0.7M225.4 245.5h0.7M227.4 230.6h0.7M241.7 239.2h0.7M230.4 225.3h0.7M225.5 217.7h0.7M235.8 222.0h0.7M226.4 230.8h0.7M227.0 235.5h0.7M225.4 243.0h0.7M217.7 228.8h0.7M213.5 243.6h0.7M227.4 230.7h0.7M219.5 229.9h0.7M225.1 237.7h0.7M252.3 233.3h0.7M216.6 226.3h0.7M211.3 240.0h0.7M233.7 227.1h0.7M223.5 221.8h0.7M225.3 230.9h0.7M217.9 234.3h0.7M225.3 240.5h0.7M221.8 219.4h0.7M233.1 237.3h0.7M231.7 235.6h0.7M238.5 246.7h0.7M223.2 236.1h0.7M207.4 237.9h0.7M241.5 219.9h0.7M219.4 242.5h0.7M243.2 232.4h0.7M233.7 236.9h0.7M242.6 232.7h0.7M231.0 233.5h0.7M244.1 238.8h0.7M215.5 236.1h0.7M222.2 239.7h0.7M225.9 231.0h0.7M246.8 240.0h0.7M233.7 256.0h0.7M240.3 220.5h0.7M214.4 234.4h0.7M231.3 231.9h0.7M223.0 240.3h0.7M214.2 224.2h0.7M230.0 233.3h0.7M226.8 240.5h0.7M214.2 230.7h0.7M224.6 239.0h0.7M246.8 231.9h0.7M232.0 230.9h0.7M232.7 235.6h0.7M229.1 244.2h0.7M241.9 233.3h0.7M243.2 231.4h0.7M232.8 230.5h0.7M253.4 227.9h0.7M224.4 240.3h0.7M231.1 226.1h0.7M230.6 231.9h0.7M227.2 231.0h0.7M242.0 228.5h0.7M219.0 230.4h0.7M232.9 240.6h0.7M247.9 229.6h0.7M232.0 234.7h0.7M228.0 239.3h0.7M239.7 233.7h0.7M235.0 239.6h0.7M218.5 246.9h0.7M211.7 233.0h0.7M226.5 235.9h0.7M227.2 236.3h0.7M231.8 228.0h0.7M226.9 243.4h0.7M225.7 239.9h0.7M239.3 233.8h0.7M241.4 234.4h0.7M210.3 234.8h0.7M235.9 227.0h0.7M216.5 242.2h0.7M240.3 233.5h0.7M224.0 237.9h0.7M227.9 240.4h0.7M222.4 236.9h0.7M219.7 236.4h0.7M212.9 229.8h0.7M216.6 246.6h0.7M225.5 227.5h0.7M227.5 227.3h0.7M205.7 246.3h0.7M214.7 240.7h0.7M231.1 231.2h0.7M217.8 233.5h0.7M253.1 248.0h0.7M220.4 245.0h0.7M223.6 241.7h0.7M221.2 228.3h0.7M217.4 238.9h0.7M230.6 217.0h0.7M231.2 240.4h0.7M221.9 237.4h0.7M231.3 226.3h0.7M227.9 243.1h0.7M213.3 222.5h0.7M239.7 245.9h0.7M211.9 234.8h0.7M226.0 234.5h0.7M233.0 236.0h0.7M259.7 240.8h0.7M228.4 241.7h0.7M225.9 231.6h0.7M216.3 233.6h0.7M225.9 229.0h0.7M220.4 253.6h0.7M235.9 238.6h0.7M231.0 232.2h0.7M230.3 237.2h0.7M230.8 252.5h0.7M220.4 228.9h0.7M216.3 233.9h0.7M230.4 228.3h0.7M222.7 233.8h0.7M236.1 236.7h0.7M226.9 230.6h0.7M229.0 240.0h0.7M230.6 234.5h0.7M232.5 228.7h0.7M221.8 232.3h0.7M227.5 242.5h0.7M240.0 233.5h0.7M216.7 235.8h0.7M228.4 230.0h0.7M226.1 228.1h0.7M232.2 229.3h0.7M228.5 235.0h0.7M248.8 248.9h0.7M241.4 232.3h0.7M226.4 237.0h0.7M232.5 241.1h0.7M233.1 243.6h0.7M216.2 233.8h0.7M209.8 234.0h0.7M229.1 223.3h0.7M214.2 233.6h0.7M215.4 235.6h0.7M226.4 231.8h0.7M226.5 242.8h0.7M224.3 231.0h0.7M224.1 225.6h0.7M230.1 253.9h0.7M231.2 235.6h0.7M224.4 227.0h0.7M239.7 237.1h0.7M220.5 242.5h0.7M231.5 246.7h0.7M233.5 244.2h0.7M232.8 225.3h0.7M220.5 239.8h0.7M227.9 234.6h0.7M230.8 237.5h0.7M234.2 227.3h0.7M205.5 241.0h0.7M238.6 226.3h0.7M235.8 231.7h0.7M221.1 236.8h0.7M226.4 237.6h0.7M231.2 233.4h0.7M227.1 238.6h0.7M242.1 231.6h0.7M230.0 233.3h0.7M240.1 241.4h0.7M247.2 241.3h0.7M225.2 235.5h0.7M223.4 225.1h0.7M223.4 226.9h0.7M235.1 231.5h0.7M231.3 231.0h0.7M242.9 233.3h0.7M230.8 232.8h0.7M230.6 242.7h0.7M234.5 245.7h0.7M234.1 245.1h0.7M220.5 234.0h0.7M219.1 241.5h0.7M233.7 247.7h0.7M246.0 233.6h0.7M236.4 233.6h0.7M241.9 231.3h0.7M228.9 230.9h0.7M239.5 229.6h0.7M233.6 234.5h0.7M235.5 229.1h0.7M234.0 232.0h0.7M241.2 245.9h0.7M243.7 232.2h0.7M221.5 231.2h0.7M230.7 225.8h0.7M226.8 241.8h0.7M222.5 235.1h0.7M249.9 233.6h0.7M232.0 237.7h0.7M227.7 230.4h0.7M228.4 229.5h0.7M232.5 230.0h0.7M245.5 232.6h0.7M229.7 247.2h0.7M231.7 237.4h0.7M221.8 228.8h0.7M210.1 230.0h0.7M238.3 235.0h0.7M234.0 249.7h0.7M238.4 242.9h0.7M224.6 237.5h0.7M207.2 234.5h0.7M223.4 230.1h0.7M220.9 239.6h0.7M239.3 218.8h0.7M213.0 228.6h0.7M236.9 237.0h0.7M221.4 236.2h0.7M230.0 235.9h0.7M239.9 228.4h0.7M235.1 225.8h0.7M230.6 240.2h0.7M225.6 237.3h0.7M213.4 234.6h0.7M211.3 233.6h0.7M229.0 242.2h0.7M226.6 248.5h0.7M228.1 228.2h0.7M229.1 233.5h0.7M228.9 235.0h0.7M227.8 234.6h0.7M230.6 230.9h0.7M228.2 240.4h0.7M229.3 231.3h0.7M205.4 238.6h0.7M236.4 245.0h0.7M231.7 236.1h0.7M237.8 237.9h0.7M213.6 219.0h0.7M226.4 234.9h0.7M225.9 241.8h0.7M206.5 237.8h0.7M236.7 240.6h0.7M240.4 245.2h0.7M228.8 240.1h0.7M250.4 241.0h0.7M236.7 242.8h0.7M227.2 238.6h0.7M236.9 239.6h0.7M235.1 235.6h0.7M220.9 242.0h0.7M230.6 243.5h0.7M229.5 241.9h0.7M249.0 242.1h0.7M232.3 242.3h0.7M233.3 237.5h0.7M220.8 240.7h0.7M230.2 239.6h0.7M216.2 238.9h0.7M226.2 239.7h0.7M223.9 240.8h0.7M235.2 242.6h0.7M230.5 241.4h0.7M215.4 240.0h0.7M226.7 240.6h0.7M225.5 242.8h0.7M230.2 247.0h0.7M243.5 245.8h0.7M235.3 243.1h0.7M220.9 238.0h0.7M217.3 242.0h0.7M225.0 242.3h0.7M229.6 239.6h0.7M231.2 241.2h0.7M237.5 243.6h0.7M224.1 237.0h0.7M220.8 244.4h0.7M230.1 239.9h0.7M245.5 240.6h0.7M228.8 241.7h0.7M237.4 239.3h0.7M226.5 238.9h0.7M213.0 242.3h0.7M249.6 236.3h0.7M236.9 239.5h0.7M222.7 243.0h0.7M239.6 246.3h0.7M229.1 236.5h0.7M237.8 238.1h0.7M250.8 242.2h0.7M224.7 239.0h0.7M220.0 242.2h0.7M236.8 244.1h0.7M206.8 239.9h0.7M240.7 240.9h0.7M231.2 239.3h0.7M227.8 241.2h0.7M245.5 239.4h0.7M236.8 246.4h0.7M228.6 241.3h0.7M227.5 240.4h0.7M238.2 240.0h0.7M240.1 245.0h0.7M232.4 241.4h0.7M214.9 240.0h0.7M244.0 238.9h0.7M236.9 239.3h0.7M214.6 240.8h0.7M236.2 235.8h0.7M221.3 239.9h0.7M223.9 237.9h0.7M221.9 241.7h0.7M235.9 241.1h0.7M230.5 241.8h0.7M225.8 241.5h0.7M215.9 241.7h0.7M226.1 245.1h0.7M233.2 240.1h0.7M230.2 239.9h0.7M219.0 241.2h0.7M229.7 242.2h0.7M238.9 241.5h0.7M227.2 241.0h0.7M244.8 238.4h0.7M242.8 236.1h0.7M232.6 242.6h0.7M223.3 243.1h0.7M224.8 243.1h0.7M230.5 237.9h0.7M246.4 242.7h0.7M238.3 242.2h0.7M231.6 238.4h0.7M220.2 238.4h0.7M240.0 244.0h0.7M234.2 240.3h0.7M231.1 240.0h0.7M229.6 246.6h0.7M219.0 239.4h0.7M233.1 239.9h0.7M243.8 242.6h0.7M237.0 241.2h0.7M236.5 237.0h0.7M221.3 241.2h0.7M236.7 241.5h0.7M219.2 245.5h0.7M234.4 242.9h0.7M231.4 239.7h0.7M230.9 241.2h0.7M211.7 241.6h0.7M233.7 239.5h0.7M246.5 243.5h0.7M229.5 241.0h0.7M236.2 244.5h0.7M236.7 242.5h0.7M241.5 241.6h0.7M240.1 241.7h0.7M232.5 242.3h0.7M232.6 241.7h0.7M217.1 240.2h0.7M230.4 239.7h0.7M240.1 243.8h0.7M217.1 241.3h0.7M230.0 240.4h0.7M216.6 242.4h0.7M231.3 240.5h0.7M222.4 241.7h0.7M214.1 242.4h0.7M232.3 244.8h0.7M220.3 245.2h0.7M226.3 241.7h0.7M223.3 243.6h0.7M241.3 238.4h0.7M243.1 240.0h0.7M227.1 241.5h0.7M239.3 243.6h0.7M234.4 241.3h0.7M236.0 242.1h0.7M246.2 243.6h0.7M225.0 239.8h0.7M227.3 241.4h0.7M231.5 240.3h0.7M240.1 243.2h0.7M226.9 238.9h0.7M235.6 239.8h0.7M231.6 240.3h0.7M212.0 240.3h0.7M216.0 241.0h0.7M219.6 245.7h0.7M239.8 242.2h0.7M218.4 238.6h0.7M233.5 241.5h0.7M230.1 240.0h0.7M215.1 241.8h0.7M241.9 242.4h0.7M254.0 239.3h0.7M239.6 243.7h0.7M220.6 238.5h0.7M223.6 244.8h0.7M238.0 235.8h0.7M231.6 236.8h0.7M235.6 239.7h0.7M237.7 241.8h0.7M224.3 242.3h0.7M233.4 244.6h0.7M236.9 240.4h0.7M226.9 243.6h0.7M234.8 236.6h0.7M223.7 242.7h0.7M231.3 243.2h0.7M209.3 240.8h0.7M234.6 237.0h0.7M224.0 240.5h0.7M216.6 239.2h0.7M236.3 239.2h0.7M229.3 239.7h0.7M220.2 243.2h0.7M229.5 239.7h0.7M240.8 241.0h0.7M240.6 241.3h0.7M236.2 242.1h0.7M237.3 239.5h0.7M241.2 241.8h0.7M224.6 240.3h0.7M246.7 235.6h0.7M240.2 238.4h0.7M226.8 245.1h0.7M234.1 245.8h0.7M227.5 244.1h0.7M245.9 239.9h0.7M237.8 242.8h0.7M231.8 242.8h0.7M230.0 244.1h0.7M214.7 242.7h0.7M236.0 246.8h0.7M242.5 244.7h0.7M240.1 239.6h0.7M232.1 241.0h0.7M228.1 239.7h0.7M209.5 247.7h0.7M221.7 244.2h0.7M217.6 244.4h0.7M249.2 242.3h0.7M234.7 232.7h0.7M240.0 224.4h0.7M242.9 228.6h0.7M243.8 227.7h0.7M237.3 227.8h0.7M236.0 230.6h0.7M240.4 224.5h0.7M241.2 224.1h0.7M235.1 230.7h0.7M243.4 232.2h0.7M239.3 227.0h0.7M238.4 227.3h0.7M238.7 226.5h0.7M237.5 224.6h0.7M242.9 234.7h0.7M239.6 229.3h0.7M237.3 228.8h0.7M241.8 227.5h0.7M242.9 225.7h0.7M239.3 228.0h0.7M242.4 226.2h0.7M236.4 226.1h0.7M233.4 225.4h0.7M238.2 226.3h0.7M233.9 226.9h0.7M237.2 226.5h0.7M237.1 234.0h0.7M237.8 236.4h0.7M243.4 234.3h0.7M236.3 228.3h0.7M237.9 229.2h0.7M239.0 223.0h0.7M237.2 232.9h0.7M238.3 223.5h0.7M240.8 237.0h0.7M238.7 224.6h0.7M235.9 234.6h0.7M247.5 224.6h0.7M234.6 223.4h0.7M236.1 230.6h0.7M241.8 221.9h0.7M245.5 234.2h0.7M241.5 229.8h0.7M237.8 221.8h0.7M245.1 218.5h0.7M235.5 228.7h0.7M234.8 226.1h0.7M246.4 221.2h0.7M246.0 234.5h0.7M240.4 222.9h0.7M231.7 222.5h0.7M237.7 231.7h0.7M236.2 228.1h0.7M232.8 225.5h0.7M244.5 225.8h0.7M240.5 228.3h0.7M234.4 231.7h0.7M237.5 219.0h0.7M239.7 231.5h0.7M235.1 234.0h0.7M239.5 227.9h0.7M239.9 228.0h0.7M244.6 227.6h0.7M241.0 235.2h0.7M236.8 229.8h0.7M239.6 230.3h0.7M248.8 232.2h0.7M246.3 227.2h0.7M236.0 226.7h0.7M241.5 224.1h0.7M241.8 223.2h0.7M239.1 228.1h0.7M237.5 225.5h0.7M241.9 227.2h0.7M239.8 227.5h0.7M243.5 235.3h0.7M239.1 230.7h0.7M238.5 228.7h0.7M241.6 226.5h0.7M240.8 227.1h0.7M244.6 225.7h0.7M241.2 222.2h0.7M238.2 232.0h0.7M233.9 227.9h0.7M238.4 228.6h0.7M242.2 227.9h0.7M242.0 227.3h0.7M237.2 221.6h0.7M243.6 226.7h0.7M238.7 226.8h0.7" stroke="#111" stroke-width="0.75" fill="none"/>
<path d="M248.2 267.7l-.4-.6l0-.5l-.5-.5l-.3-.5l-.8-.2l-1 .3l-1.3-1.1l-.7-.3l-.5-.7l.1-.5l.2-.5l-.1-.5l-1-.5l-.2-1.5l-.3-.5l-.2-.6l-.5-.2l-.1 .8l-.4 .5l-.5 0l-.3-.5l-.2-1.1l-.3 .6l-.7 .6l-.3-.6l-.1-1l-.6-.5l-.5 .1l-.2 .4l.2 .5l-.1 1l-.9 .9l-.5 .2l-1-.5l-.5 .4l-.5 .1l-1-.6l-1-.9l-.5 .1l-.5 .2l-.5 0l-.2 .6l-.3 .3l-.5 .1l-.5-.5l-1 .1l-1-.7l-.3 .2l0 1.5l-.7 .3l-.3 .2l.6 .5l-.8 .6l-1-1.1l-1.3 .5l-1.7 1.3l-1 0l-.5 .6l-1.5-.1l-.5 .2l-.5-.2l-.5 .7l-.5 .3l-.1-.3l-.7-.5l-.5-.5l-.1-.5l-1.1-.3l-.5-.3l-.3 .1l.4 .5l-.1 .2l-.5-.1l-1-.8l-.2-.8l-.9-1l-.2-.5l.3-2l-.2-.5l-.7-1l.4-.5l-1-1l-.1-1l-.6-.5l.7-.4l.5 0l.2-.1l-.5-.5l.1-1l-.4-1l.8-.5l.3-.9l.5 .1l0-1.1l-.5 .3l-.2-.4l.2-.5l.9-.5l.2-.5l2.4-2.4l1 0l1.5-1l1-.4l.3 .3l.2 .6l.5 .2l1.5-.4l1 .5l.5 0l.5-.5l.5 .8l.4 .3l.6-.2l.5 .2l.5 .6l.5 .3l1-.7l.9-.2l.6-.4l.5-.1l1 1l1 .1l.1-.6l-.2-.5l.1-.4l.5 .1l.5 .8l.5 .3l.6-.3l.4-.4l.5-.1l1.5 .4l1 .7l.5-.2l.5-.6l.5 .4l1 .3l1-.8l.5 .5l.5 .1l1.5-.2l.2-.1l.3-1l.5-.4l1.1-.6l-.1-.3l-.5-.3l-.3-.4l.8-.6l1 .6l.5-.2l.1-.8l.3-.5l0-.5l.6-.6l.6 .6l-.3 .5l1.2 1l.1-1l.4-.7l.5-.2l1 .3l.5 0l.2-.4l.1-1l-.3-.5l.5-.4l.5 .2l.4 .7l0 .5l.1 .5l.2 1l.3 .4l.5-.1l.5 .1l.1 .1l.1 .5l-.2 .3l-.3 .2l.1 .5l1.2 .5l-.6 1l.1 .5l.6 .5l.1 .5l-.1 .5l-.5 .5l.3 .5l.6 0l.3-.5l0-.5l.2-.2l.5-.2l.7 .4l.4 2.5l-1.5 1l.3 .5l.6 .2l.4 .3l-.1 1l-.5 1l.2 1l-.1 .5l-.5 .5l.1 .4l1-.3l.1 .4l-.1 .2l-.5 0l-.3 1.3l0 .5l.5 1l-.2 .5l-.5 .7l-.5 .2l-.5-.1l-.4 .2l.4 1l.5 .5l-.1 .5l-.8 1l0 .5l.2 .5l-.3 .3l-.6 .2l-.2 .5l0 .5l-.7 .7l-.5 1l-1-.5l-.7 .8zM248.2 238.8l-.2-.2l-.1-.5l.4 0l.1 .5zM251.4 241.6l-.2-.8l-.7 .3l.7 .5zM213.2 243.2l0-.1zM225.2 243.9l-1.4-.3l-.1-.5l.5-.4l.9 .4l.4 .5zM226.7 244.0l-.7-.4l.7-.3l.2 .3zM254.7 244.0l0-.5zM219.2 245.6l0-.5zM226.2 246.1l-.5 0zM236.3 246.6l-.1-.3l-.1 .3l.1 .1zM228.7 247.6l.4-.5l-.4-.3l-.1 .3zM238.3 247.1l-.1-.3l-.2 .3l.2 .1zM240.8 249.1l0-.5l-.6-.9l-.5-.2l-.3 .1l-.1 .5l.6 1l.3 .2l.5-.1zM253.9 247.6l-.3 0l.1 .4zM209.2 249.3l-.1-.2l.1-.6l.2 .1l.3 .5zM232.8 249.1l-.1-.3l-.5 .1l-.1 .2l.1 .4l.5-.1zM233.9 251.1l.1-.5l-.3-.3l-.5-.3l-.5 .1l0 .5l.5 .8zM210.7 251.6l0-.4l-.5 .1l-.2 .3l.2 .2l.5 .1zM209.2 257.3l-.5-.1l-.2-.1l.7-.3l.4 .3zM224.7 260.1l-.5-.2l-.1 .2l.1 .3zM220.3 262.6l-.6 0l0 .2zM219.2 264.7l0-.3zM246.2 267.5l-.5 0l-.3-.4l.3-.8l.5-.1l.3 .4l0 .5z" fill="#0c0c0c"/>
<path d="M247.7 263.6l-1-.2l-.5-.2l-1-.7l-.5-.5l-.7-.9l-.6-1l-.7-1.6l-.5-.8l-.5-.3l-.5 0l-8.5 1l-3.5 .3l-4 .2l-1 .1l-1 .4l-2.5 1.7l-1.5 .6l-1 .2l-1 0l-1.5-.3l-.5-.2l-1-.5l-1-.8l-.9-1l-.9-1.5l-.5-1.5l-.3-2l0-1l.1-1l.4-1.5l.4-1l.6-1l.8-1l.8-.7l.5-.4l1-.5l1-.4l1-.1l1.5 .1l1 .2l.5 .2l1.5 1l2 1.7l.5 .3l1 .3l3.5 .2l4.5 .1l6-.2l2-.2l.5-.2l.3-.4l1.5-3.5l.7-1.1l.8-.9l.7-.6l1-.5l1-.2l1 .1l1 .4l1 .9l1 1.2l.7 1.2l.5 1.5l.6 2l.2 2.5l.1 2l-.2 2l-.5 2l-.6 2l-.8 1.5l-1 1.1l-1 .9l-1 .4z" fill="#c2c2c2" stroke="#f2f2f2" stroke-width="0.4"/>
<path d="M248.2 261.6l-.5 .1l-1-.3l-.5-.2l-.7-.6l-.5-.5l-.6-1l-1.2-2.6l-.5-.7l-.5-.4l-.5-.1l-1 .1l-8 .8l-8 .3l-1 .4l-.5 .3l-2 1.9l-.7 .5l-.8 .4l-.5 .2l-1 .2l-1 0l-1-.1l-1-.5l-1-.7l-1-1l-.6-1l-.5-1.5l-.2-1l0-1.5l.2-1.5l.4-1l.5-1l.7-.9l.5-.5l.5-.3l1-.6l1-.3l1-.1l.5 .1l1 .2l1 .4l1.3 1l2.2 2.5l.5 .3l1 .3l3 .2l4.5-.1l4-.1l4.5-.4l.5-.1l.5-.3l.5-.5l1.5-3.8l.6-1l.9-1l.5-.4l1-.4l1 0l.5 .1l1 .5l.5 .5l.9 1.2l.6 1l.5 1.5l.3 1.5l.2 1.5l0 1.5l-.1 1.5l-.3 1.5l-.4 1.5l-.7 1.7l-.5 .7l-1 1l-.5 .3z" fill="#8a8a8a" stroke="#2a2a2a" stroke-width="0.5"/>
<path d="M248.2 258.7l-.5 .1l-.5-.1l-.5-.3l-.5-.4l-.5-.6l-.5-.8l-.4-1l-.7-2l0-.5l.5-2.5l.3-1l.5-1l.6-1l.5-.5l.7-.4l.5-.1l.5 .1l.5 .2l.4 .2l.6 .6l.5 .6l.3 .8l.3 1l.3 2l0 1.5l-.1 1l-.4 1.5l-.3 1l-.6 .8l-.5 .4zM218.7 258.1l-.5 .1l-1 .1l-1-.3l-.5-.3l-.5-.4l-.6-.7l-.5-1l-.3-1l-.1-1l.1-1l.3-1l.3-.5l.8-1l.5-.4l.5-.3l1-.3l1 .1l.5 .1l.7 .3l.7 .5l.6 .7l.5 .8l.2 .5l.2 1l.1 1l-.1 .5l-.1 .5l-.4 1l-.9 1.1l-.5 .4z" fill="#adadad" stroke="#2a2a2a" stroke-width="0.5"/>
<path d="M248.2 256.1l-.5 0l-.5-.2l-.5-.5l-.5-.7l-.3-.6l-.2-.5l0-.5l.2-1l.3-.9l.3-.6l.2-.4l.5-.5l.5-.2l.5 0l.5 .3l.5 .5l.3 .8l.2 1l-.1 1.5l-.3 1.5l-.3 .5l-.3 .3zM218.7 255.7l-.5 .3l-.5 .1l-.5-.1l-.5-.2l-.5-.4l-.5-.8l-.1-1l.1-.6l.4-.9l.6-.5l.5-.2l.5-.1l.5 .1l.5 .3l.4 .4l.3 .5l.2 .5l.1 .5l0 .5l-.2 .5l-.2 .5z" fill="#787878" stroke="#2a2a2a" stroke-width="0.5"/>
<path d="M248.2 254.9l-.5 0l-.6-.3l-.4-.6l-.2-.4l0-.5l.2-1l.5-.8l.5-.4l.5 0l.3 .2l.2 .2l.2 .8l.1 1l-.2 1l-.2 .5zM217.7 254.6l-.5-.2l-.2-.3l-.1-.5l.2-.5l.1-.1l.5-.2l.5 .3l.2 .5l-.1 .5l-.1 .2z" fill="#222"/>
<path d="M242.7 227.9l-1 0l-.5-.1l-.2-.2l-.3-.4l-.5 .1l-.5 .4l-.5 .1l-.6-.2l1-.5l-.4-1.4l-.5-.2l-.3-.4l.2-.5l.3-.5l.1-.5l-.5-1l.3-.5l.4-.3l.5-.2l1 .1l.5-.3l.6-.8l.2-.5l0-1l.2-.5l1.5-1.2l.5-.6l.5-.1l.5 .1l.4-.2l.6-.8l.8-.2l.7-.5l1.5-.1l1 .1l1.5-.2l.2 .2l0 .5l.2 .5l.6 .1l.3 .4l.2 .5l-.1 1l.2 .5l0 .5l.7 1l-.5 .5l.1 .5l.2 .5l0 .5l-.2 .5l-.4 .3l-1-.4l-.1 1.1l-.4 .6l-.5-.4l-.3 .3l.7 .5l-.7 1l-.2 .6l-2 .2l-1.5 0l-.2 .2l-.2 .5l-.1 .1l-2-.3l-1 0l-.5 .7z" fill="#0c0c0c"/>
<path d="M243.2 225.7l-1 .3l-.5-.1l-.5-.1l-.5-.3l-.2-.4l-.1-.5l.2-.5l.2-.5l.9-1l.7-.5l.5-1l.3-.5l.9-1l1.6-1.2l1-.5l1.5-.4l1-.2l1 .1l.5 .2l.8 .5l.4 .5l.1 .5l.1 .5l-.2 1l-.4 1l-.4 .5l-.9 1l-1.5 1.1l-1.5 .7l-1.5 .3l-1.5 .1z" fill="#fff" stroke="#111" stroke-width="0"/>
<path d="M243.2 225.2l-1 .2l-.5-.2l-.2-.1l-.3-.5l0-.5l.3-.5l.4-.5l1.2-1l.4-1l.3-.5l1-1l.9-.7l1-.5l1.5-.4l1-.1l.5 0l.5 .2l.8 .5l.3 .5l.1 .5l0 .5l-.1 .5l-.4 1l-.4 .5l-.8 .8l-1 .8l-1.5 .7l-1.5 .3l-1-.1l-.5 .1z" fill="none" stroke="#111" stroke-width="0.45"/>
<path d="M243.7 224.2l-.5 .2l-.5 0l-.3-.3l.1-.5l.2-.2l.4-.3l.6-.3l.2-1.2l.7-1l1-1l1.1-.6l.5-.2l1-.2l.5-.1l.6 .1l.4 .1l.6 .4l.3 .5l0 .5l0 .5l-.2 .5l-.6 1l-1.1 .9l-1 .6l-1 .4l-1 .1l-.5-.1l-1-.3z" fill="none" stroke="#111" stroke-width="0.45"/>
<path d="M247.2 223.2l-1 .2l-.5 0l-.5-.1l-.3-.2l-.3-.5l-.1-.5l.2-.5l.2-.5l.4-.5l.6-.5l.7-.5l.6-.2l1-.2l.5 0l.5 .1l.4 .3l.2 .5l0 .5l-.1 .5l-.3 .5l-.7 .8l-.5 .3z" fill="none" stroke="#111" stroke-width="0.45"/>
<path d="M247.2 222.6l-.5 .1l-.5 0l-.5-.1l-.3-.5l0-.5l.3-.5l.5-.6l1-.5l.5-.1l.5 0l.5 .1l.3 .6l-.1 .5l-.2 .4l-.6 .6z" fill="none" stroke="#111" stroke-width="0.45"/>
<path d="M246.7 222.1l-.1 0l-.4-.5l.2-.5l.8-.5l.5-.1l.3 .1l.2 .5l-.3 .5l-.7 .4z" fill="none" stroke="#111" stroke-width="0.45"/>
</g>
<path d="M198.1 215.1h1.3M198.1 225.1h1.3M198.1 234.5h1.3M198.1 244.5h1.3M198.1 261.9h1.3M206.4 270.4v0.9M219.7 270.4v0.9M233.0 270.4v0.9M245.1 270.4v0.9M256.4 270.4v0.9" stroke="#555" stroke-width="0.5"/>
<path d="M198.2 254.2v1.8M212.4 271.0h2.2" stroke="#111" stroke-width="1.1"/>
<g filter="url(#fb)">
<path d="M66.6 522.6h0.7M67.2 520.6h0.7M67.8 525.6h0.7M58.8 526.8h0.7M56.8 517.6h0.7M73.3 522.1h0.7M46.3 547.3h0.7M58.6 520.3h0.7M53.9 517.5h0.7M50.5 523.4h0.7M67.6 524.1h0.7M71.6 527.0h0.7M81.8 526.7h0.7M53.2 524.6h0.7M44.5 535.0h0.7M81.9 518.7h0.7M48.5 523.8h0.7M64.6 523.9h0.7M78.9 519.2h0.7M36.9 535.2h0.7M63.6 523.2h0.7M60.1 519.1h0.7M47.0 549.5h0.7M75.3 527.3h0.7M43.6 529.6h0.7M76.6 522.9h0.7M91.5 527.8h0.7M43.5 539.3h0.7M85.8 521.8h0.7M73.9 525.7h0.7M46.7 526.1h0.7M62.4 522.3h0.7M71.4 523.7h0.7M37.5 528.6h0.7M79.6 524.3h0.7M84.7 522.7h0.7M95.7 526.4h0.7M57.4 518.6h0.7M95.5 533.3h0.7M65.2 527.1h0.7M82.2 526.5h0.7M74.1 522.4h0.7M78.2 543.1h0.7M50.7 523.5h0.7M51.9 551.5h0.7M60.4 515.9h0.7M67.1 525.1h0.7M56.5 524.5h0.7M64.0 522.1h0.7M62.3 521.5h0.7M65.8 527.0h0.7M39.0 522.8h0.7M59.9 519.3h0.7M74.1 525.3h0.7M87.2 522.8h0.7M66.3 545.7h0.7M59.4 524.5h0.7M90.8 550.9h0.7M66.1 527.5h0.7M63.1 525.0h0.7M44.6 525.7h0.7M76.9 526.8h0.7M58.6 527.1h0.7M92.1 547.7h0.7M62.4 525.7h0.7M85.3 525.8h0.7M76.6 513.2h0.7M56.6 524.3h0.7M50.5 523.0h0.7M64.3 525.1h0.7M73.3 545.6h0.7M54.8 524.2h0.7M60.9 516.0h0.7M45.7 528.5h0.7M67.5 527.7h0.7M66.8 526.0h0.7M65.2 525.7h0.7M94.8 531.8h0.7M61.2 524.7h0.7M72.3 520.1h0.7M60.4 524.9h0.7M68.1 526.0h0.7M83.1 524.0h0.7M60.7 524.0h0.7M84.8 522.3h0.7M58.4 521.4h0.7M51.2 522.0h0.7M77.6 543.4h0.7M53.7 518.8h0.7M56.4 527.5h0.7M56.3 524.6h0.7M77.5 524.8h0.7M60.9 524.1h0.7M83.9 522.0h0.7M76.8 525.1h0.7M67.9 518.3h0.7M75.1 530.2h0.7M69.2 531.9h0.7M69.7 525.8h0.7M67.3 526.5h0.7M62.3 520.6h0.7M56.3 543.3h0.7M82.4 519.5h0.7M58.7 521.5h0.7M91.9 538.6h0.7M81.0 522.5h0.7M80.6 526.5h0.7M54.6 547.5h0.7M46.9 522.0h0.7M41.4 528.7h0.7M52.1 522.9h0.7M70.2 521.8h0.7M57.8 524.6h0.7M36.5 529.6h0.7M60.8 524.8h0.7M78.5 527.2h0.7M79.5 522.8h0.7M72.9 526.2h0.7M55.9 524.8h0.7M89.9 549.9h0.7M62.0 544.7h0.7M48.0 522.2h0.7M69.6 526.5h0.7M61.5 521.8h0.7M60.5 523.3h0.7M76.4 526.5h0.7M96.7 520.6h0.7M42.8 532.7h0.7M77.0 532.3h0.7M79.7 525.7h0.7M57.8 523.4h0.7M51.2 522.7h0.7M57.7 520.6h0.7M75.0 520.9h0.7M73.0 525.6h0.7M78.4 545.4h0.7M61.2 516.9h0.7M67.5 524.7h0.7M59.5 519.8h0.7M91.9 532.3h0.7M58.2 526.1h0.7M91.5 533.8h0.7M83.5 524.8h0.7M74.8 520.9h0.7M63.3 516.8h0.7M62.0 525.6h0.7M63.6 523.0h0.7M90.0 517.2h0.7M78.3 522.6h0.7M75.0 524.6h0.7M59.3 523.9h0.7M84.2 513.7h0.7M62.0 526.7h0.7M69.8 520.3h0.7M50.9 521.6h0.7M76.3 518.5h0.7M70.3 526.5h0.7M84.0 521.7h0.7M52.3 524.3h0.7M66.7 522.9h0.7M91.3 526.2h0.7M58.9 525.5h0.7M35.9 536.4h0.7M77.2 526.2h0.7M61.9 525.3h0.7M86.9 521.2h0.7M45.1 523.1h0.7M40.1 536.0h0.7M64.1 525.5h0.7M44.8 529.0h0.7M57.1 525.7h0.7M95.9 527.4h0.7M76.0 523.2h0.7M40.3 532.9h0.7M72.0 526.4h0.7M80.9 526.4h0.7M53.6 526.2h0.7M77.2 543.9h0.7M75.8 522.3h0.7M82.6 551.2h0.7M65.8 518.8h0.7M77.4 527.9h0.7M39.3 521.9h0.7M58.6 522.6h0.7M55.4 524.4h0.7M87.4 524.3h0.7M60.9 523.9h0.7M46.7 526.3h0.7M92.4 524.2h0.7M63.3 521.1h0.7M79.8 523.0h0.7M62.7 545.4h0.7M68.5 526.1h0.7M63.9 526.3h0.7M72.5 524.9h0.7M43.1 545.1h0.7M42.8 521.0h0.7M61.0 521.1h0.7M73.5 522.9h0.7M51.8 524.1h0.7M73.2 523.4h0.7M38.9 528.6h0.7M84.9 525.8h0.7M63.6 526.2h0.7M67.8 528.5h0.7M65.6 522.6h0.7M67.3 527.3h0.7M75.7 525.7h0.7M68.5 522.9h0.7M62.4 522.6h0.7M66.5 522.1h0.7M57.3 525.6h0.7M70.7 525.0h0.7M66.8 521.5h0.7M46.4 527.3h0.7M41.4 529.7h0.7M65.7 523.4h0.7M64.7 522.1h0.7M51.2 551.2h0.7M73.0 526.3h0.7M75.4 524.0h0.7M75.5 524.5h0.7M90.9 539.3h0.7M75.7 516.9h0.7M74.1 523.3h0.7M66.2 520.9h0.7M65.3 527.6h0.7M70.2 526.8h0.7M59.3 521.8h0.7M53.6 522.2h0.7M58.9 528.7h0.7M92.7 519.6h0.7M95.7 526.2h0.7M58.4 528.0h0.7M58.4 517.5h0.7M37.1 527.1h0.7M64.7 525.4h0.7M67.8 526.4h0.7M65.4 524.7h0.7M82.3 520.7h0.7M55.2 523.7h0.7M70.4 525.2h0.7M88.2 524.1h0.7M65.4 517.2h0.7M49.8 523.7h0.7M54.4 522.2h0.7M61.4 515.0h0.7M76.7 520.0h0.7M71.1 521.9h0.7M88.1 523.9h0.7M87.0 523.8h0.7M71.4 525.5h0.7M58.7 524.1h0.7M93.6 523.7h0.7M91.1 529.8h0.7M52.7 517.9h0.7M77.8 520.7h0.7M71.9 527.2h0.7M58.3 520.1h0.7M74.5 525.1h0.7M90.5 523.4h0.7M62.0 526.8h0.7M44.3 524.2h0.7M51.5 548.9h0.7M86.1 526.0h0.7M65.5 527.0h0.7M84.2 524.3h0.7M38.5 532.1h0.7M49.9 523.1h0.7M85.1 522.7h0.7M55.8 527.8h0.7M93.3 529.3h0.7M62.4 524.1h0.7M57.2 520.5h0.7M49.3 523.7h0.7M81.6 521.6h0.7M62.6 520.3h0.7M58.8 525.2h0.7M64.6 523.1h0.7M71.3 518.5h0.7M65.5 526.3h0.7M56.1 522.1h0.7M77.4 526.8h0.7M55.3 525.5h0.7M76.4 532.6h0.7M47.8 523.1h0.7M66.3 520.4h0.7M65.7 528.3h0.7M61.9 520.2h0.7M74.9 534.3h0.7M47.6 521.6h0.7M77.9 523.1h0.7M58.1 527.2h0.7M90.3 532.8h0.7M58.5 515.3h0.7M78.8 522.8h0.7M44.5 518.4h0.7M70.8 523.0h0.7M57.7 521.2h0.7M57.4 522.5h0.7M76.1 526.5h0.7M53.8 523.7h0.7M92.5 518.8h0.7M56.3 519.7h0.7M56.1 527.1h0.7M85.1 519.3h0.7M64.1 511.4h0.7M73.8 524.6h0.7M78.2 526.8h0.7M58.5 523.7h0.7M92.4 534.7h0.7M70.3 525.3h0.7M80.2 522.7h0.7M43.3 522.5h0.7M94.2 523.0h0.7M65.6 527.8h0.7M57.6 524.5h0.7M64.1 512.8h0.7M91.6 530.8h0.7M93.2 530.1h0.7M94.6 534.6h0.7M51.7 524.4h0.7M65.3 526.2h0.7M65.6 525.7h0.7M80.8 524.5h0.7M55.7 522.9h0.7M62.3 524.8h0.7M69.5 526.4h0.7M57.9 525.3h0.7M43.2 527.0h0.7M60.6 525.5h0.7M57.8 551.1h0.7M73.4 524.2h0.7M57.7 523.3h0.7M78.1 523.0h0.7M80.4 524.4h0.7M88.0 522.7h0.7M58.8 525.9h0.7M73.1 525.5h0.7M61.0 523.6h0.7M66.8 519.3h0.7M82.0 524.4h0.7M58.7 522.2h0.7M76.3 525.7h0.7M65.3 527.1h0.7M73.6 524.3h0.7M81.2 525.8h0.7M65.7 520.9h0.7M69.8 522.9h0.7M71.6 518.9h0.7M53.9 545.4h0.7M64.1 521.2h0.7M68.4 535.0h0.7M65.7 519.6h0.7M85.9 518.2h0.7M60.6 523.6h0.7M73.8 518.0h0.7M68.7 528.5h0.7M67.8 531.5h0.7M56.6 526.3h0.7M66.7 524.3h0.7M70.2 514.8h0.7M90.2 539.2h0.7M65.9 526.8h0.7M80.4 521.5h0.7M58.1 527.6h0.7M59.3 525.1h0.7M44.2 525.6h0.7M43.1 530.4h0.7M58.6 523.0h0.7M69.4 526.2h0.7M43.0 535.6h0.7M77.9 527.5h0.7M70.7 525.1h0.7M65.6 525.8h0.7M70.0 526.7h0.7M42.3 542.6h0.7M76.1 534.2h0.7M74.6 521.1h0.7M73.2 525.4h0.7M94.1 533.5h0.7M73.3 520.8h0.7M90.1 535.3h0.7M42.8 533.8h0.7M70.5 525.0h0.7M91.5 519.3h0.7M92.2 529.6h0.7M70.6 527.3h0.7M78.6 516.3h0.7M93.0 537.4h0.7M56.5 512.6h0.7M68.1 523.8h0.7M63.8 523.0h0.7M52.3 517.8h0.7M71.8 526.3h0.7M55.8 526.3h0.7M62.5 518.3h0.7M61.2 526.3h0.7M77.3 526.3h0.7M60.1 525.0h0.7M44.4 539.7h0.7M65.1 523.4h0.7M60.6 525.1h0.7M66.6 521.3h0.7M79.5 518.3h0.7M73.0 524.0h0.7M60.9 523.5h0.7M63.2 521.2h0.7M52.5 517.8h0.7M39.1 525.1h0.7M66.0 524.3h0.7M46.0 523.0h0.7M60.9 517.0h0.7M68.1 526.5h0.7M54.2 522.8h0.7M58.9 523.9h0.7M89.7 531.1h0.7M58.7 526.3h0.7M66.8 524.7h0.7M71.9 523.1h0.7M71.8 527.2h0.7M84.9 520.9h0.7M46.8 521.6h0.7M90.9 529.7h0.7M61.8 527.0h0.7M82.2 522.0h0.7M65.8 527.9h0.7M60.7 521.4h0.7M46.9 525.6h0.7M58.4 520.4h0.7M72.5 524.5h0.7M45.5 523.6h0.7M70.0 525.4h0.7M69.6 525.5h0.7M76.7 526.1h0.7M97.3 531.8h0.7M39.4 524.4h0.7M58.2 517.1h0.7M39.4 533.7h0.7M70.7 521.4h0.7M69.1 524.3h0.7M57.2 521.5h0.7M73.3 525.6h0.7M57.6 518.5h0.7M85.0 521.4h0.7M66.2 516.5h0.7M67.8 519.0h0.7M43.2 535.4h0.7M91.9 532.5h0.7M38.0 526.9h0.7M83.9 521.7h0.7M81.6 525.5h0.7M69.2 524.5h0.7M79.5 524.7h0.7M59.7 544.2h0.7M62.7 527.6h0.7M79.4 521.7h0.7M73.1 523.6h0.7M60.8 518.6h0.7M49.8 518.7h0.7M47.9 523.6h0.7M65.5 525.4h0.7M40.7 537.0h0.7M84.6 520.8h0.7M71.5 522.5h0.7M45.8 526.5h0.7M76.5 516.0h0.7M87.4 522.2h0.7M76.6 525.5h0.7M45.4 528.0h0.7M37.3 533.3h0.7M68.7 525.4h0.7M58.3 521.8h0.7M67.0 519.5h0.7M91.2 529.1h0.7M75.5 523.8h0.7M77.6 525.1h0.7M41.8 528.1h0.7M49.7 525.1h0.7M73.3 524.7h0.7M69.1 525.1h0.7M56.5 524.2h0.7M61.9 521.5h0.7M90.5 533.0h0.7M62.6 526.2h0.7M83.5 551.3h0.7M75.2 521.3h0.7M78.6 518.8h0.7M64.9 526.7h0.7M56.5 521.6h0.7M90.7 521.6h0.7M74.0 524.4h0.7M66.6 524.0h0.7M76.5 524.5h0.7M64.1 523.0h0.7M83.0 523.6h0.7M68.5 525.3h0.7M80.0 526.2h0.7M69.5 526.4h0.7M93.2 536.6h0.7M73.7 512.4h0.7M75.5 526.5h0.7M44.8 552.3h0.7M59.1 525.3h0.7M73.5 519.5h0.7M74.5 525.9h0.7M46.6 527.2h0.7M72.0 526.2h0.7M80.4 524.8h0.7M47.1 522.0h0.7M72.6 526.7h0.7M81.7 525.1h0.7M65.9 526.9h0.7M71.9 524.6h0.7M66.1 526.4h0.7M90.3 535.7h0.7M61.8 525.4h0.7M65.3 523.2h0.7M68.5 521.8h0.7M42.8 516.7h0.7M80.3 523.8h0.7M63.0 521.9h0.7M81.8 524.3h0.7M68.5 532.3h0.7M67.8 520.6h0.7M95.1 520.4h0.7M54.0 521.8h0.7M42.4 521.0h0.7M40.4 532.1h0.7M47.9 520.6h0.7M60.2 517.4h0.7M56.7 525.2h0.7M66.6 525.5h0.7M79.6 548.9h0.7M59.8 525.6h0.7M77.4 524.0h0.7M89.9 541.5h0.7M58.0 527.3h0.7M59.2 528.6h0.7M90.8 520.0h0.7M67.2 524.9h0.7M49.7 525.1h0.7M82.1 524.2h0.7M79.0 526.8h0.7M51.2 520.3h0.7M43.7 523.4h0.7M50.5 519.3h0.7M68.4 526.5h0.7M70.7 524.2h0.7M62.2 524.8h0.7M68.7 528.4h0.7M72.0 526.1h0.7M64.5 521.8h0.7M58.2 527.7h0.7M65.3 521.6h0.7M91.8 529.9h0.7M49.9 512.2h0.7M48.3 510.5h0.7M84.3 536.6h0.7M73.4 541.2h0.7M63.7 541.6h0.7M83.3 536.9h0.7M47.7 549.6h0.7M65.6 539.0h0.7M52.5 511.6h0.7M71.3 502.6h0.7M69.0 505.2h0.7M74.5 504.4h0.7M74.1 506.1h0.7M73.2 505.6h0.7M75.2 507.1h0.7M63.7 508.0h0.7M74.5 505.0h0.7M74.7 504.7h0.7M74.5 504.1h0.7M76.7 508.3h0.7M68.4 504.7h0.7M76.8 508.4h0.7M74.6 503.2h0.7M71.4 507.6h0.7M75.2 507.0h0.7M70.8 506.3h0.7M72.1 503.1h0.7M69.7 504.3h0.7M68.2 508.6h0.7M77.1 510.1h0.7M71.0 504.5h0.7M84.6 502.2h0.7M83.4 503.6h0.7M78.8 505.8h0.7M83.1 507.9h0.7M86.5 501.2h0.7M84.9 499.2h0.7M84.7 501.8h0.7M82.6 507.5h0.7M83.8 502.3h0.7M82.9 506.9h0.7M82.0 505.0h0.7M83.0 500.5h0.7M80.8 502.2h0.7M82.7 499.2h0.7M81.1 504.4h0.7M87.9 501.0h0.7M84.6 499.6h0.7M84.9 499.8h0.7M86.1 499.7h0.7M81.6 503.3h0.7M86.7 501.7h0.7M84.0 498.1h0.7M86.3 500.3h0.7M85.0 498.5h0.7M85.2 500.0h0.7M83.7 504.3h0.7M81.2 503.4h0.7M83.0 505.2h0.7M84.5 501.8h0.7M80.8 508.8h0.7M80.6 502.1h0.7M86.1 501.5h0.7M82.2 506.0h0.7M85.0 502.6h0.7M86.2 502.5h0.7M82.4 500.5h0.7M78.8 509.9h0.7M83.3 501.4h0.7M83.8 502.3h0.7M83.9 501.6h0.7M81.5 500.8h0.7M84.0 498.8h0.7M83.0 504.7h0.7M86.8 500.5h0.7M87.2 500.9h0.7M85.6 495.5h0.7M83.2 504.4h0.7M79.9 508.2h0.7M84.8 498.7h0.7M80.2 501.4h0.7M83.9 500.6h0.7M82.2 502.8h0.7M87.5 494.9h0.7M80.2 506.9h0.7M85.3 496.1h0.7M82.1 503.6h0.7M80.0 506.0h0.7M82.7 505.4h0.7M83.5 504.7h0.7M84.5 496.5h0.7M82.9 503.2h0.7M86.9 498.1h0.7M83.9 504.5h0.7M86.0 498.0h0.7M84.1 502.9h0.7M80.6 504.2h0.7M82.8 505.1h0.7M82.0 508.1h0.7M83.3 504.4h0.7M81.7 507.3h0.7M86.9 505.2h0.7M84.9 501.2h0.7M81.5 506.5h0.7M84.3 501.3h0.7M83.6 502.4h0.7M86.5 502.0h0.7M81.9 503.8h0.7M85.0 503.4h0.7M84.0 504.0h0.7M85.8 504.0h0.7M82.6 508.3h0.7M79.8 500.7h0.7M83.5 498.8h0.7M81.3 501.1h0.7M84.0 501.5h0.7M87.1 500.6h0.7M81.2 509.7h0.7M84.7 497.9h0.7M84.2 502.3h0.7M82.6 502.7h0.7M80.9 504.3h0.7M79.9 504.1h0.7M84.2 504.3h0.7M84.3 504.2h0.7M85.8 504.6h0.7M82.5 503.9h0.7M84.7 501.9h0.7M88.0 500.7h0.7M83.8 503.6h0.7M83.8 502.8h0.7M86.0 498.8h0.7M78.4 502.9h0.7M83.8 502.6h0.7M85.9 500.7h0.7M81.9 502.5h0.7M82.0 506.3h0.7M82.7 498.4h0.7M83.5 502.9h0.7M87.5 500.9h0.7M83.4 505.2h0.7M83.9 510.9h0.7M81.5 502.9h0.7M82.9 499.6h0.7M78.8 510.3h0.7M87.1 499.7h0.7M80.7 505.9h0.7M82.6 502.0h0.7M81.7 501.5h0.7M84.4 500.4h0.7M81.8 503.0h0.7" stroke="#111" stroke-width="0.75" fill="none"/>
<path d="M87.6 552.1l0-.5l-.5-.5l-1.3-.5l-.1-.5l.1-.5l-.3-.5l-1-.1l-.6-.4l-.9-.1l-.6 .1l-.1 .5l-.3 .3l-.9-.8l0-1l-.2 0l-.4 .5l-.5 .2l-.6-.2l-.1-.5l.1-.5l.3-.5l.1-.5l-.6-.5l-.1-.5l.7-.5l-.4-.5l-1.9-1.5l-.5 .1l-.7 .4l-.1 .5l-.2 .3l-1 0l-1 .5l-1 .3l-1-.1l-1-.4l-.5 .1l-.5 .5l-.5-.2l-.2-.5l-.8-.6l-.5-.2l-.2 .3l-.1 .5l-.2 .1l-3 .5l-1 .6l-.5 .1l-.5-.2l-.5-1l-.5-.2l-.5 .1l-1-1l-.9 1l.9 .7l.2 .3l-.2 .1l-1 .6l-.8-.2l-.2-.2l-.5 .4l-.5 .1l-.2-.3l-.1-.5l-1.7-.6l-1 .6l-.5 .7l-1 .6l0 .4l.3 .3l0 .5l-1.3 .3l-.5 .4l-.6 .3l-.4 1.2l-.5 0l-.2-.7l-.8-.5l-.5 .2l-.5 0l-.5-.5l-.5 .2l-.3-.4l.1-.5l.3-.5l-.1-1l-.9-.5l.4-.4l1-.1l-1.5-.8l-.5-.7l-.5-.5l-.1-.5l0-1l.6-.9l0-.6l-.3-.5l-.2-.5l.4-1l0-.5l-.5-1.5l.1-1.2l-.4-1.3l.3-.5l0-1l.1-.3l1 0l0-.2l-.3-.5l0-.5l.3-.5l0-.5l-.3-.5l1.2-1l.1-1l.4-.5l.1-.5l.5-.7l-.1-.8l1.1-.8l1 .1l1-.2l.9 .9l0 .5l-.8 .5l.9 0l0-.5l.5-.4l1 0l.4 .4l.1 .5l-.2 .5l.2 .3l.7 .2l.2 .5l1.1 .6l1 .1l1.2-.2l.3 .2l.5 .6l.5 .3l.3-.1l.1-.5l-.1-1l.1-.5l.6-.6l1 1.1l1 .7l.5 0l.4-.2l-.2-.5l.2-.5l.6-.2l.5 .1l.5 .4l1 1.2l.5 .1l.7-.6l-.4-.5l0-.5l.7-.3l.3 .3l-.1 1l.6 .5l.2 .6l.6-.1l-.4-.5l-.1-.5l.1-.5l.3-.4l.5-.3l1.5 1.2l.5-.2l1 .1l.5-.3l1 .2l.5-.6l.5-.1l.5 0l.5 .6l1 .1l1-.8l.9 .5l-.5 .5l-.8 .5l.9 .4l.3-.4l.3-1l.9-.4l1 .1l.5-.1l.5 .3l.5-.2l.2-.7l-.4-.5l.2-.9l.5 .4l.5-.1l.5-.2l.5 .1l.2 .2l0 .5l.3 .6l.5 .2l.5-.2l.6-.1l.6-.5l.3-.8l.5 0l.8-.7l.2-.5l-.1-.5l.6-.3l.4 .8l.4 .5l0 .5l-.3 .4l-.5 .2l-.2 .4l.2 .2l.5 0l.5-.5l.7 1.3l.1 .5l-.3 .5l.5 .5l0 .6l-1-.3l-.3 .2l.5 1.5l0 .5l-.2 .2l-.5-.2l-.5 .5l1.1 3.5l-.6 .3l-.5 .7l0 1l.9 1l.1 1.5l.5 .5l.1 .5l-.1 .5l-1.5 .3l-.1 .2l.2 .5l.4 .3l.5 0l.2 .2l.1 .5l-.3 .8l-.5 .2l.5 .3l.1 .2l-.1 .5l-.6 1l.1 .5l.3 .5l.3 1l-.2 .5l-.6 1l.4 .5l-.2 1l1.1 1.5M49.6 525.1l-.1-.2l-.1 .2zM56.1 529.6l.1-.5l-.2-.4l-.5 .4zM75.1 530.6l.3-.5l-.4-.4l-.3 .4l.2 .5zM44.0 531.7l0-.5l.3 .4zM70.3 532.6l-.3-.7l-.3-.3l-1.2 .1l-.5-.2l-.1 .1l.1 .5l1 .1l.5 .4l.5 .1zM77.3 532.6l-.3-.6l-.5 0l-.5 .2l-.4 .4l.4 .2zM76.3 534.1l-.3-.5l-.5-.3l-.5 .1l-.3 .7l.8 .2l.5 0zM68.6 535.1l-.1-.5l-.1 .5zM57.9 544.6l.5-.5l-.4-1.4l-.5-.5l-1 .8l-.5 .1l.5 .2l.7 .8l.3 .6zM54.0 544.1l.7-.5l-.7 0zM53.5 547.2l-.2-.1l.2-.1z" fill="#0c0c0c"/>
<path d="M88.0 549.9l-.5-.1l-.5-.3l-1.5-1.4l-1-.8l-.5-.2l-1.5-.6l-.5-.3l-.9-1.1l-1.1-1.8l-.5-.7l-.5-.4l-.5-.1l-1 .1l-3.5 .6l-3 .4l-4.5 .3l-2.5 0l-2.5-.1l-7-.7l-.5 .2l-.5 .5l-1 1.8l-.5 .7l-.5 .5l-.5 .4l-.5 .2l-.5 .1l-.5 0l-.5-.2l-.5-.3l-.5-.5l-.5-.6l-.5-.9l-.8-2l-.5-2.5l-.2-3l.1-3l.5-2.5l.8-2l.6-1.1l.5-.6l.5-.5l.5-.3l.5-.2l.5 0l.5 .1l.5 .2l.5 .4l.9 1l.8 1.5l.8 2.1l.5 .7l.5 .2l1.8 .5l3.2 .6l2.5 .4l3 .4l2.5 .1l2.5 .1l2.5-.1l2.5-.1l1.5-.2l1-.2l.5-.2l.5-.3l.4-.5l.3-.5l.8-2l.5-1l.5-.7l.5-.5l.5-.3l.5-.2l1.5 0l.5-.1l.5-.3l2-1.6l.5-.1l.2 .3l.1 .5l.1 1l.1 9.5l-.1 10.5l-.1 1l-.1 .5z" fill="#e4e4e4" stroke="#f2f2f2" stroke-width="0.4"/>
<path d="M87.0 547.6l-.5-.1l-.5-.4l-1.5-1.3l-2-1.5l-1-1l-1-1.3l-1-.9l-1-.5l-1-.2l-6 .7l-3 .2l-2.5 0l-4.6-.2l-6.9-.8l-.5 .1l-.5 .5l-1.4 2.7l-.6 .8l-.5 .5l-.5 .3l-.5 .1l-.5-.1l-.5-.2l-.5-.4l-.8-1l-.7-1.5l-.5-2l-.2-2l0-2.5l.4-2.5l.4-1.5l.8-1.5l.6-.7l.5-.4l.5-.2l.5-.1l.5 .1l.5 .3l.5 .5l.4 .5l.8 1.5l.8 2.4l.5 1l.5 .4l.5 .2l4.5 .8l2.5 .4l2.5 .2l4.5 .2l2.5 0l2.5-.2l2.5-.3l1-.3l1-.5l1-.8l.5-.5l1.7-2.5l.8-.9l.5-.3l1.5-.7l2-1.5l.5-.1l.3 .5l.1 1l.1 7.5l-.1 8.5l-.1 1z" fill="#adadad" stroke="#2a2a2a" stroke-width="0.5"/>
<path d="M50.0 542.6l-.5-.1l-.5-.3l-.5-.6l-.3-.5l-.3-1l-.3-1l-.2-2l.2-2l.2-1l.3-1l.4-.7l.5-.6l.5-.3l.5-.1l.5 .2l.5 .4l.7 1.1l.3 1l.3 1l.2 2l-.1 1l-.1 1l-.3 1l-.4 1l-.6 .9l-.5 .4zM85.5 544.2l-.5-.2l-.5-.3l-2-1.7l-2.7-2.9l-.4-.5l-.1-.5l.2-.5l.3-.5l2.7-3l1-.9l1-.8l.5-.3l.5-.2l.2 .2l.3 .5l0 .5l.1 4.5l-.1 5.5l-.1 .5l-.2 .5z" fill="#cecece" stroke="#2a2a2a" stroke-width="0.5"/>
<path d="M50.0 539.9l-.5-.2l-.5-.7l-.3-.9l-.1-1l.1-1l.3-1.1l.5-.7l.5-.2l.5 .3l.4 .7l.2 1l.1 1l-.2 1.5l-.5 1zM84.5 540.6l-.5 .3l-.5-.2l-.5-.4l-1.1-1.2l-.4-.5l-.1-.5l.1-.5l.8-1l.7-.8l.5-.4l.5-.2l.5 .2l.2 1.2l0 2.5z" fill="#8c8c8c" stroke="#2a2a2a" stroke-width="0.5"/>
<path d="M50.0 538.1l-.5-.5l-.1-.5l.1-.7l.5-.5l.3 .7l.1 .5l-.1 .5zM83.5 538.9l-.5-.2l-.3-.6l.2-.5l.1-.2l.5-.2l.2 .4l0 .5l-.1 .5z" fill="#222"/>
</g>
<path d="M32.4 498.6h1.3M32.4 508.6h1.3M32.4 517.9h1.3M32.4 527.9h1.3M32.4 545.2h1.3M40.7 553.7v0.9M54.0 553.7v0.9M67.3 553.7v0.9M79.4 553.7v0.9M90.7 553.7v0.9" stroke="#555" stroke-width="0.5"/>
<path d="M32.5 537.5v1.8M46.7 554.3000000000001h2.2" stroke="#111" stroke-width="1.1"/>
<g filter="url(#fb)">
<path d="M141.1 521.0h0.7M152.0 543.1h0.7M123.5 529.3h0.7M163.8 523.7h0.7M136.5 525.4h0.7M159.8 526.8h0.7M141.7 524.4h0.7M130.5 525.0h0.7M122.2 525.1h0.7M145.8 525.7h0.7M136.5 526.3h0.7M158.8 526.4h0.7M152.8 514.7h0.7M139.4 527.2h0.7M138.7 527.6h0.7M170.6 534.9h0.7M148.3 525.8h0.7M131.9 520.3h0.7M150.5 531.7h0.7M150.2 531.4h0.7M123.5 531.4h0.7M148.5 527.9h0.7M168.3 514.4h0.7M122.2 529.8h0.7M133.9 551.9h0.7M153.5 520.3h0.7M138.2 519.9h0.7M138.6 528.1h0.7M133.2 525.4h0.7M126.8 524.8h0.7M133.0 522.7h0.7M173.9 525.8h0.7M134.2 520.2h0.7M132.9 548.5h0.7M135.4 544.0h0.7M121.9 517.5h0.7M139.0 521.3h0.7M163.8 513.4h0.7M134.7 525.1h0.7M143.7 526.1h0.7M163.2 518.5h0.7M161.7 524.8h0.7M170.6 548.5h0.7M152.0 529.3h0.7M148.6 528.0h0.7M137.4 525.6h0.7M128.6 549.7h0.7M152.9 525.9h0.7M141.4 526.4h0.7M159.9 520.4h0.7M153.8 527.3h0.7M130.0 524.0h0.7M123.0 521.4h0.7M148.5 523.0h0.7M152.4 520.5h0.7M133.9 521.9h0.7M143.8 524.6h0.7M122.4 530.6h0.7M161.2 521.9h0.7M141.3 524.9h0.7M155.9 526.3h0.7M156.6 526.6h0.7M146.4 526.8h0.7M138.8 522.5h0.7M142.4 546.9h0.7M140.8 525.6h0.7M174.0 534.2h0.7M144.4 526.8h0.7M156.2 526.8h0.7M132.8 520.9h0.7M148.3 524.0h0.7M138.7 525.9h0.7M147.9 527.8h0.7M133.7 524.0h0.7M139.9 527.1h0.7M161.2 522.8h0.7M136.1 526.6h0.7M143.7 522.2h0.7M161.1 547.9h0.7M153.4 526.9h0.7M144.8 521.2h0.7M144.4 526.7h0.7M137.2 525.0h0.7M136.2 545.0h0.7M171.6 530.1h0.7M123.8 532.3h0.7M157.4 523.9h0.7M123.1 525.9h0.7M154.8 527.1h0.7M140.9 525.4h0.7M138.1 525.4h0.7M123.1 527.3h0.7M132.6 522.7h0.7M148.8 528.3h0.7M152.7 526.3h0.7M147.2 522.2h0.7M139.9 530.6h0.7M135.6 528.4h0.7M165.8 520.2h0.7M178.0 534.0h0.7M121.2 535.6h0.7M135.1 528.4h0.7M170.3 524.9h0.7M143.4 528.7h0.7M123.1 536.9h0.7M138.9 529.1h0.7M157.5 528.3h0.7M142.0 524.7h0.7M144.7 519.9h0.7M120.4 531.1h0.7M135.4 518.4h0.7M144.1 527.3h0.7M158.6 522.5h0.7M172.4 528.8h0.7M146.9 527.2h0.7M156.9 531.9h0.7M171.5 536.3h0.7M158.3 525.5h0.7M158.4 525.9h0.7M131.8 520.5h0.7M170.2 538.0h0.7M155.7 528.3h0.7M143.1 526.2h0.7M146.4 525.9h0.7M139.4 526.2h0.7M152.3 526.5h0.7M136.6 526.9h0.7M138.5 520.2h0.7M149.1 525.5h0.7M163.4 523.1h0.7M151.3 526.1h0.7M145.0 523.8h0.7M152.1 523.3h0.7M147.4 525.1h0.7M151.8 519.5h0.7M125.5 524.8h0.7M138.7 526.9h0.7M153.1 525.2h0.7M156.6 527.2h0.7M144.5 520.8h0.7M155.9 518.9h0.7M148.7 528.0h0.7M141.5 525.6h0.7M154.7 528.0h0.7M125.6 520.4h0.7M148.2 528.2h0.7M118.6 520.0h0.7M140.8 526.4h0.7M156.0 524.2h0.7M154.1 524.3h0.7M158.6 520.4h0.7M143.6 526.9h0.7M121.6 520.8h0.7M143.3 513.6h0.7M156.0 520.2h0.7M137.5 525.1h0.7M170.6 548.0h0.7M138.7 519.1h0.7M153.3 525.5h0.7M165.7 525.3h0.7M135.8 528.6h0.7M147.3 525.7h0.7M146.0 524.9h0.7M126.0 528.5h0.7M143.6 520.3h0.7M155.3 521.3h0.7M122.7 528.1h0.7M134.1 523.9h0.7M150.4 518.6h0.7M125.6 520.9h0.7M148.2 524.9h0.7M136.8 527.3h0.7M145.4 526.2h0.7M135.2 528.5h0.7M148.9 521.3h0.7M136.3 519.2h0.7M148.8 522.9h0.7M159.3 525.9h0.7M150.2 516.9h0.7M162.0 520.4h0.7M156.1 517.6h0.7M158.4 522.7h0.7M157.2 526.6h0.7M153.3 525.8h0.7M147.0 523.9h0.7M124.5 527.9h0.7M144.1 523.2h0.7M151.7 524.9h0.7M146.5 521.9h0.7M165.8 522.3h0.7M148.9 528.1h0.7M143.8 526.6h0.7M135.1 528.1h0.7M132.6 524.9h0.7M138.0 525.0h0.7M152.2 517.1h0.7M126.9 519.6h0.7M142.9 517.9h0.7M148.6 528.2h0.7M140.5 530.0h0.7M174.7 537.0h0.7M155.9 521.4h0.7M154.2 515.8h0.7M154.1 528.1h0.7M154.7 522.4h0.7M153.4 527.4h0.7M140.7 526.5h0.7M135.6 527.8h0.7M154.4 526.1h0.7M122.9 540.7h0.7M146.5 526.6h0.7M123.4 529.1h0.7M134.7 526.9h0.7M140.5 522.7h0.7M139.5 524.9h0.7M164.9 526.5h0.7M152.3 519.5h0.7M124.8 532.3h0.7M163.5 524.2h0.7M122.9 521.2h0.7M151.1 522.6h0.7M143.7 527.0h0.7M139.7 525.1h0.7M136.8 521.4h0.7M169.2 522.3h0.7M139.6 529.4h0.7M146.5 521.8h0.7M156.8 527.3h0.7M172.9 525.8h0.7M154.2 524.6h0.7M175.9 530.6h0.7M126.8 524.2h0.7M122.8 521.1h0.7M137.8 521.0h0.7M130.3 518.6h0.7M134.5 524.6h0.7M162.1 551.1h0.7M151.4 526.1h0.7M120.8 528.0h0.7M170.4 521.5h0.7M148.7 522.5h0.7M147.6 526.5h0.7M150.3 516.5h0.7M124.4 543.8h0.7M132.5 526.3h0.7M146.6 521.1h0.7M142.6 527.2h0.7M149.3 527.5h0.7M157.4 520.9h0.7M152.7 526.9h0.7M137.6 520.0h0.7M154.0 525.0h0.7M130.9 524.7h0.7M144.0 527.9h0.7M149.1 526.9h0.7M158.2 520.6h0.7M170.4 520.0h0.7M149.2 526.4h0.7M155.3 523.7h0.7M140.9 523.8h0.7M134.6 518.3h0.7M149.1 520.5h0.7M140.3 527.0h0.7M146.9 524.4h0.7M171.7 539.4h0.7M159.5 520.5h0.7M156.7 525.6h0.7M148.9 527.7h0.7M139.6 527.5h0.7M154.7 527.1h0.7M151.4 525.5h0.7M141.5 522.9h0.7M153.2 523.2h0.7M157.3 526.8h0.7M157.6 524.4h0.7M147.6 525.4h0.7M152.4 518.7h0.7M146.9 526.1h0.7M135.2 528.8h0.7M115.5 530.3h0.7M142.2 526.5h0.7M153.5 526.9h0.7M179.1 526.2h0.7M170.8 528.4h0.7M145.5 525.9h0.7M169.4 527.3h0.7M143.2 528.6h0.7M139.8 521.8h0.7M157.5 525.8h0.7M153.9 523.0h0.7M140.9 525.5h0.7M140.2 526.8h0.7M135.4 526.2h0.7M159.6 550.5h0.7M156.4 524.9h0.7M163.4 524.4h0.7M171.4 533.1h0.7M155.8 524.0h0.7M143.5 522.9h0.7M157.1 513.5h0.7M158.0 524.1h0.7M143.3 527.7h0.7M147.3 525.9h0.7M136.0 524.9h0.7M170.4 540.0h0.7M152.6 523.9h0.7M147.1 527.3h0.7M160.9 523.9h0.7M145.7 525.9h0.7M143.8 528.6h0.7M124.4 526.4h0.7M146.1 528.6h0.7M148.7 527.3h0.7M172.1 529.9h0.7M141.7 521.5h0.7M140.3 530.4h0.7M127.8 524.8h0.7M155.7 526.2h0.7M147.8 524.3h0.7M148.7 526.2h0.7M125.4 552.0h0.7M161.3 549.0h0.7M156.0 525.4h0.7M135.6 529.2h0.7M168.8 525.4h0.7M144.8 526.3h0.7M152.4 525.1h0.7M154.6 526.1h0.7M139.8 528.9h0.7M133.4 522.6h0.7M141.5 525.6h0.7M148.0 526.5h0.7M121.0 525.3h0.7M145.6 529.3h0.7M155.3 526.1h0.7M167.6 519.8h0.7M158.0 526.9h0.7M147.4 522.9h0.7M145.7 517.3h0.7M156.2 541.5h0.7M145.2 546.3h0.7M144.5 526.4h0.7M153.1 527.8h0.7M159.0 528.1h0.7M155.8 525.8h0.7M160.8 526.3h0.7M148.6 524.0h0.7M144.8 525.2h0.7M140.7 526.3h0.7M160.5 521.2h0.7M176.7 534.1h0.7M138.3 525.0h0.7M143.9 524.9h0.7M141.3 525.9h0.7M119.0 537.8h0.7M136.2 525.2h0.7M137.7 521.9h0.7M162.9 520.9h0.7M147.3 525.5h0.7M158.7 519.8h0.7M136.3 527.2h0.7M154.1 527.2h0.7M161.0 523.9h0.7M151.4 528.9h0.7M133.1 518.7h0.7M156.1 531.4h0.7M143.2 527.5h0.7M139.3 543.0h0.7M161.1 525.3h0.7M155.8 527.8h0.7M136.8 527.1h0.7M123.7 530.1h0.7M158.6 533.5h0.7M145.3 524.2h0.7M157.3 543.9h0.7M144.6 546.4h0.7M166.7 521.5h0.7M173.0 508.9h0.7M154.9 528.2h0.7M140.4 525.7h0.7M162.5 520.1h0.7M142.7 528.0h0.7M141.9 525.7h0.7M154.0 519.0h0.7M146.6 522.5h0.7M124.4 520.7h0.7M157.6 522.5h0.7M153.7 527.0h0.7M139.5 529.3h0.7M141.5 526.2h0.7M151.8 526.6h0.7M137.2 526.1h0.7M139.3 525.3h0.7M163.4 521.5h0.7M138.7 525.3h0.7M148.8 525.7h0.7M165.8 524.3h0.7M149.2 524.6h0.7M138.9 527.8h0.7M142.3 526.5h0.7M134.5 524.2h0.7M130.8 525.4h0.7M138.3 526.5h0.7M145.4 525.6h0.7M142.0 522.6h0.7M143.7 524.7h0.7M159.8 519.2h0.7M134.4 525.7h0.7M143.4 515.7h0.7M144.1 524.9h0.7M150.3 523.6h0.7M137.4 521.3h0.7M139.0 526.5h0.7M152.7 525.5h0.7M157.9 518.7h0.7M149.9 520.2h0.7M164.2 520.8h0.7M145.8 528.4h0.7M141.3 517.7h0.7M154.6 525.9h0.7M123.6 521.0h0.7M163.9 522.9h0.7M171.1 532.7h0.7M143.2 526.2h0.7M142.4 520.8h0.7M142.5 526.7h0.7M138.2 523.7h0.7M144.0 527.0h0.7M164.9 526.4h0.7M142.4 522.5h0.7M140.1 525.9h0.7M171.6 531.9h0.7M141.1 520.8h0.7M168.8 531.9h0.7M145.3 546.9h0.7M152.6 526.0h0.7M175.8 530.2h0.7M151.6 526.1h0.7M136.7 520.2h0.7M141.8 527.6h0.7M136.8 522.0h0.7M133.5 522.8h0.7M164.5 512.5h0.7M142.7 528.3h0.7M135.9 515.1h0.7M152.8 521.6h0.7M151.6 523.0h0.7M150.8 520.0h0.7M173.5 527.1h0.7M141.2 525.8h0.7M144.4 521.8h0.7M147.9 525.4h0.7M145.9 522.4h0.7M125.7 526.9h0.7M163.7 524.4h0.7M154.0 522.4h0.7M136.7 526.4h0.7M139.3 527.8h0.7M154.7 526.2h0.7M141.3 517.8h0.7M138.6 528.1h0.7M158.0 528.3h0.7M138.5 528.6h0.7M148.5 518.2h0.7M134.3 528.5h0.7M169.8 526.1h0.7M145.5 528.4h0.7M155.3 523.5h0.7M137.6 523.6h0.7M157.6 525.8h0.7M143.2 526.2h0.7M170.9 534.2h0.7M132.4 525.5h0.7M125.9 526.4h0.7M143.0 524.8h0.7M150.1 531.4h0.7M140.1 529.5h0.7M171.9 527.8h0.7M143.7 551.1h0.7M150.9 526.4h0.7M165.2 521.6h0.7M126.1 525.6h0.7M170.1 530.4h0.7M144.3 524.8h0.7M137.1 523.0h0.7M154.2 527.9h0.7M172.8 521.9h0.7M145.8 526.0h0.7M143.5 520.2h0.7M169.8 522.4h0.7M168.7 519.8h0.7M157.0 524.1h0.7M135.2 524.1h0.7M152.4 527.2h0.7M124.3 526.6h0.7M139.3 526.4h0.7M150.4 531.3h0.7M125.5 527.5h0.7M116.9 533.8h0.7M144.6 517.3h0.7M151.8 526.3h0.7M153.4 518.7h0.7M148.9 526.9h0.7M124.1 532.6h0.7M154.2 526.9h0.7M176.2 527.6h0.7M130.5 517.8h0.7M151.5 523.2h0.7M123.0 527.9h0.7M167.5 516.0h0.7M156.4 527.8h0.7M143.7 514.5h0.7M147.4 515.8h0.7M151.4 523.2h0.7M145.4 523.3h0.7M135.7 528.6h0.7M122.8 525.8h0.7M141.6 526.8h0.7M123.6 524.2h0.7M157.9 521.1h0.7M139.6 548.7h0.7M155.8 531.8h0.7M136.0 544.4h0.7M149.9 521.9h0.7M123.4 534.3h0.7M140.7 525.0h0.7M139.0 522.4h0.7M145.5 523.8h0.7M166.7 525.4h0.7M158.5 524.6h0.7M144.4 522.3h0.7M133.1 522.4h0.7M124.1 540.9h0.7M139.2 527.2h0.7M135.0 545.6h0.7M147.2 526.8h0.7M143.2 523.3h0.7M154.7 527.2h0.7M133.0 525.2h0.7M137.0 521.7h0.7M152.3 524.5h0.7M151.4 519.5h0.7M139.7 520.9h0.7M135.1 519.5h0.7M136.1 527.9h0.7M163.0 550.1h0.7M153.5 527.6h0.7M179.1 532.6h0.7M153.6 527.7h0.7M146.5 524.6h0.7M146.9 512.4h0.7M155.2 525.9h0.7M141.5 522.4h0.7M136.4 526.5h0.7M143.7 522.7h0.7M147.3 525.0h0.7M158.9 546.1h0.7M139.9 529.7h0.7M145.0 526.2h0.7M138.4 525.4h0.7M156.7 510.5h0.7M165.1 513.2h0.7M164.6 518.8h0.7M140.2 511.8h0.7M138.9 524.3h0.7M138.3 508.9h0.7M161.6 507.8h0.7M168.4 539.5h0.7M147.1 549.2h0.7M148.7 507.4h0.7M159.4 503.0h0.7M162.3 503.2h0.7M150.1 506.8h0.7M160.2 505.9h0.7M153.0 508.2h0.7M158.4 509.9h0.7M164.0 500.3h0.7M153.5 508.9h0.7M156.8 506.9h0.7M160.5 507.6h0.7M164.9 504.8h0.7M160.4 506.3h0.7M152.0 508.3h0.7M155.2 505.9h0.7M160.5 507.0h0.7M153.6 505.4h0.7M158.8 506.0h0.7M159.5 504.4h0.7M163.1 503.3h0.7M162.0 506.7h0.7M151.0 504.9h0.7M160.9 501.8h0.7M152.6 506.1h0.7M158.6 510.2h0.7M162.2 505.8h0.7M154.4 502.5h0.7M150.8 514.3h0.7M159.1 510.6h0.7M163.5 502.7h0.7M157.2 507.1h0.7M158.5 508.5h0.7M161.0 502.5h0.7M153.2 504.2h0.7M160.3 505.0h0.7M161.0 503.4h0.7M157.2 504.6h0.7M154.5 509.6h0.7M164.4 505.8h0.7M157.9 510.2h0.7M168.1 498.5h0.7M154.2 513.7h0.7M165.6 501.4h0.7M153.8 508.0h0.7M160.6 505.8h0.7M161.2 497.2h0.7M158.2 500.4h0.7M159.4 507.0h0.7M164.5 504.9h0.7M157.1 505.7h0.7M153.7 503.0h0.7M160.1 504.4h0.7M162.8 506.5h0.7M159.2 505.2h0.7M154.1 507.4h0.7M149.5 505.1h0.7M159.1 505.9h0.7M153.9 504.9h0.7M154.9 508.3h0.7M161.4 503.2h0.7M158.5 505.4h0.7M158.6 499.6h0.7M155.9 504.9h0.7M161.3 501.5h0.7M163.6 504.6h0.7M166.8 504.4h0.7M169.7 502.2h0.7M157.0 505.4h0.7M165.0 500.6h0.7M156.9 508.0h0.7M162.1 508.6h0.7M154.9 507.3h0.7M165.6 503.8h0.7M160.5 503.7h0.7M157.2 510.6h0.7M163.4 504.7h0.7M161.7 500.3h0.7M159.4 503.4h0.7M148.4 514.2h0.7M151.0 509.9h0.7M157.8 504.6h0.7M163.4 506.7h0.7M159.4 503.4h0.7M151.7 511.8h0.7M157.7 503.5h0.7M164.5 502.2h0.7M157.8 504.2h0.7M168.2 503.6h0.7M163.6 503.1h0.7M168.8 509.7h0.7M155.2 504.2h0.7M160.1 505.9h0.7M169.6 500.2h0.7M166.7 502.6h0.7M153.9 507.0h0.7M148.4 510.2h0.7M161.3 504.7h0.7M159.2 506.8h0.7M162.5 505.0h0.7M153.2 510.4h0.7M162.5 502.2h0.7M155.0 509.3h0.7M151.9 506.0h0.7M153.4 511.2h0.7M161.1 500.8h0.7M158.4 507.2h0.7M160.9 500.3h0.7M163.7 500.4h0.7M156.2 506.8h0.7M158.9 506.8h0.7M153.5 507.3h0.7M155.7 505.2h0.7M163.7 503.7h0.7M165.5 503.3h0.7M145.4 509.8h0.7M155.3 508.8h0.7M151.6 510.5h0.7M150.5 504.6h0.7M167.9 499.7h0.7M163.3 499.8h0.7M164.8 506.2h0.7" stroke="#111" stroke-width="0.75" fill="none"/>
<path d="M167.4 552.1l-.3-1l-.5-.2l-.5-.3l-.5-.9l-.5 0l-.5 .1l-2-.2l-.5-.2l-.3-.3l-.5-1l-.7-.3l-.7-.7l-.6-1.5l.2-.5l-.4-.5l-.5-.1l-.7-.9l-.8-.2l-.7-.3l-.3-.5l.6-.5l.2-.5l-.3-.4l-.6 .4l-.1 .5l.2 .5l-1 .5l-.1 .5l-.7 1l-.2 .8l-.5 .1l-.5-.4l.5-.5l-.1-.5l-.9-1.2l-.5 0l-.5 .2l-.1 .5l1 .5l.4 .5l-.3 .2l-1-.1l-.5 .3l-1-.4l-1 .4l-.5-.1l-.5 .4l-.5 0l-1.5-.2l-1 .4l-1.5 0l-.5-.2l-.5 .2l-.5-.1l-.5-.4l-.4 .1l.4 .5l-.2 .5l-.3 .2l-.3-.2l-.3-.5l-.4-.3l-.5 .4l-.5 .1l-.5-.3l-1 .6l-.5-.5l.1-.5l-.1-.6l-.5-.4l-.5-.6l-.5-.2l-.7 .3l-.3 .4l-.5 1.6l-.3 .5l0 .5l-.1 .5l-.5 .5l-.2 .5l-.9 .8l-.5 .8l-.5 .3l-1.5-.1l-.5-.9l-1-.1l-1 .2l-.1-1l-1-1l-.1-1l-.2-.5l.3-1l-.6-.5l-.6-1.5l-.4-.5l-.1-.5l.2-.5l-.1-.5l-.4-.5l.3-1l.2-.5l.7-.5l0-.5l-.4-1.5l-.3-.5l.4-1l-.2-.5l.5-2l-.1-.8l-.7-1.2l.2-1.5l1-.8l.5 .8l.5 .1l.2-.1l.2-.5l-.5-1l.1-.3l1-.2l.3-.5l0-1l.7-1.1l1.1 .1l.3 .5l-.4 1l.5 .5l1.4-.5l.6-.9l.3 .4l-.1 .5l.2 .5l.6 .6l1-.2l.7 1.1l0 .5l-.2 .3l-.5 .1l0 .2l.5-.1l.5 .2l.5 .6l.3-.3l.5-1l0-.5l.7-.5l.1 1l1.4 1l.3 .5l.9 .5l.3 .6l.3-.1l.2-.5l.5 0l0-.2l-.5 .1l-.2-.4l-1.4-1l.7-.5l.4-.8l.5-.4l.5-.2l.7 .4l-.5 .5l.4 .5l.9 .1l.5 .4l1 0l.7-.5l-.1-.5l.4-.5l.5-.1l.5 .1l.5 .4l.5 0l.7 .6l.8 .4l.5-.2l.3-1.7l.2-.4l.4 .4l1.1 .6l.5 .1l.5-.5l1.5 1.2l.5 .1l1 1.1l.5 .3l.5-.3l1 .2l.5-.8l.5-.2l1 0l1.5-1.8l0-.5l1-.7l.5 .2l1 .2l.5-.1l.5-.4l.5 .3l.4 .5l-.3 .5l.4 .1l2.4-1.1l-.1-1l.1-.5l.6 0l.5-.6l.5-.1l.2 .2l.4 1l-1.4 1l.8 .2l.3 .3l.1 .5l-.4 .5l0 .5l.4 .5l-.8 1l.2 .5l0 1l-.6 .5l-.1 .5l.4 .6l.8-.1l.2-.2l.3 .7l-.6 1.5l.2 .5l-.2 .5l-.7 .5l.1 .5l.9 .7l.2 .3l0 .5l-1.2 1.5l.3 .5l.6 2l-.4 2l.7 .5l.2 1l-.4 1l-.5 .5l-.2 .5l.6 .5l0 .5l-.3 .5l.2 .5l-.3 .4l0 .6l.5 1.4l.6 .1l-1.1 .2l-.6 .3M132.6 524.6l-.1 0zM166.1 524.9l-.5-.3l0-.2l.5-.1l.4 .3zM160.1 526.3l-.4-.2l.4-.2l.4 .2zM155.1 527.3l-.2-.2l.3 0zM157.6 527.5l-.6-.4l.6-.1l.3 .1zM165.7 527.6l-.1-.2l-.1 .2l.1 .1zM145.8 529.1l.5-.5l-.2-.2l-.5-.1l-.4 .8l.4 .1zM152.1 530.1l-.2-.5l.2-.5l-.5-.1l-.5-.4l-.5 0l-.4 .5l1.2 .5l.7 .7zM150.8 532.1l.1-.5l-.1-.5l-.2-.1l-.5 .6l.3 .5l.2 .1zM157.1 532.1l.1-.5l-.6-.4l-1.1 .4l-.1 .5l.2 .1zM158.9 533.6l-.3-.2l-.2 .2l.2 .2zM125.6 541.1l.3-.5l-.3-.1l-.3 .1l.1 .5zM150.3 541.6l-.2-.2l-.1 .2l.1 .2zM140.6 544.1l-.4-.5l-.6-.1l-.5-.4l-.2 .5l.2 .1l.5 .1l.5 .4l.5 0zM166.1 551.7l-.2-.1l-.2-.5l.4-.4l.3 .4l-.2 .5z" fill="#0c0c0c"/>
<path d="M167.6 549.9l-.5-.1l-.5-.4l-2-1.8l-1-.6l-1.5-.6l-.5-.3l-.8-1l-1.2-2l-.4-.5l-.6-.4l-.5-.1l-7 1.2l-2.5 .2l-2.5 .2l-4.5 0l-3-.1l-3.5-.4l-.5 0l-.5 .1l-.5 .3l-1.5 2.5l-.5 .6l-.4 .4l-.6 .3l-.5 .2l-.5 0l-.5-.1l-.5-.3l-.5-.4l-.6-.7l-.6-1l-.5-1l-.4-1.5l-.5-2.5l-.2-2.5l.2-2.5l.4-2.5l.5-1.5l.4-1l.5-1l.9-1l.4-.3l.5-.3l.5-.1l.5 0l.5 .2l.5 .2l.8 .8l.4 .5l.5 1l.8 1.9l.5 1l.5 .5l.5 .2l4.7 .9l2.8 .4l2.5 .2l2.5 .1l2.5 .1l5-.3l1.5-.2l1-.2l.5-.2l.5-.3l.5-.6l.3-.5l1.2-2.8l.5-.8l.5-.5l.5-.4l.5-.2l.5 0l1 0l.5-.1l.5-.2l2-1.7l.5-.1l.3 .3l.1 .5l.1 1l.1 9.5l-.1 10.5l-.1 1l-.1 .5z" fill="#e4e4e4" stroke="#f2f2f2" stroke-width="0.4"/>
<path d="M166.6 547.6l-.5-.2l-2-1.6l-2-1.5l-.6-.7l-1.4-1.7l-.9-.8l-.6-.4l-1-.2l-1 0l-4 .6l-2 .2l-2.5 .2l-2.5 .1l-4.5-.2l-3-.2l-3-.4l-1 0l-.5 .3l-.5 .8l-1.1 2.2l-.4 .6l-.5 .5l-.5 .4l-.5 .2l-.5 0l-.5-.2l-.5-.3l-.5-.5l-.8-1.2l-.5-1.5l-.5-2l-.1-2l.1-2.5l.2-1.5l.5-2l.8-1.5l.8-.9l.5-.3l.5-.2l.5 0l.5 .2l.5 .4l.7 .8l.8 1.5l1 2.8l.5 .8l.5 .3l1.5 .3l3 .5l5 .5l4.5 .1l4.5-.2l3-.4l1-.3l1-.5l1-.8l.6-.6l1.7-2.5l.7-.8l.5-.3l1.5-.8l2-1.4l.5-.2l.4 .5l.2 1l0 7.5l0 8.5l-.2 1z" fill="#adadad" stroke="#2a2a2a" stroke-width="0.5"/>
<path d="M130.6 542.8l-.5 .3l-.5 0l-.5-.2l-.5-.5l-.5-.9l-.3-.9l-.3-1l-.1-1l-.1-1.5l.1-1l.2-1l.2-1l.3-.6l.5-.9l.5-.5l.5-.2l.5 0l.5 .3l.5 .5l.2 .4l.3 .5l.3 1l.4 2l.1 1l-.1 1l-.2 1.5l-.6 1.5l-.4 .7zM165.1 544.2l-.5-.2l-.5-.4l-2-1.7l-2.6-2.8l-.4-.5l-.1-.5l.2-.5l.3-.5l2.6-2.9l1.5-1.3l1-.7l.5-.2l.3 .1l.2 .3l.1 .7l.1 4.5l-.1 5.5l-.1 .7l-.3 .3z" fill="#cecece" stroke="#2a2a2a" stroke-width="0.5"/>
<path d="M130.1 540.3l-.5 .1l-.5-.5l-.3-.8l-.2-1l-.1-1l.2-1l.4-1l.5-.5l.5 .1l.5 .5l.3 .9l.2 1l0 1l-.2 1l-.3 .7zM164.1 540.8l-.5 .1l-.5-.3l-.5-.4l-1-1.1l-.3-.5l-.2-.5l.1-.5l.8-1l1.1-1.1l.5-.3l.5 .1l.1 .3l.2 1l0 1.5l0 1.5z" fill="#8c8c8c" stroke="#2a2a2a" stroke-width="0.5"/>
<path d="M130.1 538.4l-.5 .1l-.1-.4l-.1-.5l0-.5l.2-.6l.5 .1l.2 1zM163.1 538.9l-.5-.2l-.2-.6l.2-.6l.5-.3l.3 .4l0 .5l-.1 .5z" fill="#222"/>
</g>
<path d="M112.0 498.6h1.3M112.0 508.6h1.3M112.0 517.9h1.3M112.0 527.9h1.3M112.0 545.2h1.3M120.3 553.7v0.9M133.7 553.7v0.9M147.1 553.7v0.9M159.2 553.7v0.9M170.5 553.7v0.9" stroke="#555" stroke-width="0.5"/>
<path d="M112.1 537.5v1.8M126.3 554.3000000000001h2.2" stroke="#111" stroke-width="1.1"/>
<g filter="url(#fb)">
<path d="M246.9 525.8h0.7M223.8 527.5h0.7M226.1 522.0h0.7M226.6 526.2h0.7M260.5 531.6h0.7M243.3 525.5h0.7M242.4 525.1h0.7M252.9 524.0h0.7M236.9 520.0h0.7M235.6 523.9h0.7M220.2 522.4h0.7M225.4 525.9h0.7M238.3 524.8h0.7M212.6 546.0h0.7M235.5 521.9h0.7M239.2 524.6h0.7M237.4 523.8h0.7M237.0 522.8h0.7M232.3 525.8h0.7M224.9 517.4h0.7M229.5 526.3h0.7M233.4 524.4h0.7M245.7 526.2h0.7M246.1 518.1h0.7M241.7 520.6h0.7M223.8 526.2h0.7M230.8 524.4h0.7M230.2 525.7h0.7M220.1 523.9h0.7M223.7 525.9h0.7M233.6 517.8h0.7M209.4 527.1h0.7M214.1 549.3h0.7M221.7 527.1h0.7M263.4 539.6h0.7M223.2 524.3h0.7M234.3 524.6h0.7M231.6 525.5h0.7M225.1 528.0h0.7M237.8 547.0h0.7M213.8 520.5h0.7M263.6 538.6h0.7M226.4 521.4h0.7M234.0 528.0h0.7M225.6 522.2h0.7M207.8 526.6h0.7M245.2 522.2h0.7M244.8 522.6h0.7M226.8 526.4h0.7M235.1 512.9h0.7M249.4 524.3h0.7M216.8 519.4h0.7M234.5 526.2h0.7M234.7 519.1h0.7M236.2 525.5h0.7M243.6 526.6h0.7M234.8 521.5h0.7M231.3 521.1h0.7M210.1 532.5h0.7M248.0 524.8h0.7M240.4 527.2h0.7M249.3 525.3h0.7M207.5 530.1h0.7M223.6 525.6h0.7M229.9 527.3h0.7M210.1 524.0h0.7M225.1 527.4h0.7M244.7 523.0h0.7M212.1 523.0h0.7M222.4 523.6h0.7M248.4 523.7h0.7M242.3 525.2h0.7M240.2 523.5h0.7M202.9 532.2h0.7M240.8 521.7h0.7M210.0 525.8h0.7M237.5 521.6h0.7M232.6 514.0h0.7M224.5 524.8h0.7M234.2 515.6h0.7M232.9 525.7h0.7M245.6 524.6h0.7M235.3 523.3h0.7M241.6 528.1h0.7M238.3 523.7h0.7M214.5 526.1h0.7M232.1 518.0h0.7M215.7 526.3h0.7M231.6 525.7h0.7M223.4 528.3h0.7M232.0 523.8h0.7M242.1 514.0h0.7M240.9 520.3h0.7M235.2 522.2h0.7M236.6 523.9h0.7M232.4 522.7h0.7M235.9 545.1h0.7M204.1 522.9h0.7M241.6 526.0h0.7M239.4 519.2h0.7M211.4 543.9h0.7M239.7 526.6h0.7M229.5 526.1h0.7M245.1 546.2h0.7M260.9 524.0h0.7M227.0 522.3h0.7M223.3 527.5h0.7M227.8 525.1h0.7M239.8 520.3h0.7M223.5 524.2h0.7M216.3 517.5h0.7M239.6 517.2h0.7M236.3 527.5h0.7M235.1 524.8h0.7M225.7 519.8h0.7M239.0 545.9h0.7M225.9 524.5h0.7M226.8 520.9h0.7M241.4 524.9h0.7M265.2 527.8h0.7M238.4 525.5h0.7M222.6 523.2h0.7M232.7 521.8h0.7M225.5 527.6h0.7M217.5 550.9h0.7M220.8 529.0h0.7M252.8 522.8h0.7M210.9 529.9h0.7M210.6 527.7h0.7M206.0 523.4h0.7M239.9 526.3h0.7M241.9 527.5h0.7M255.6 521.1h0.7M208.2 527.5h0.7M261.9 532.9h0.7M209.8 537.6h0.7M223.6 523.2h0.7M232.7 526.3h0.7M226.5 525.0h0.7M236.0 521.4h0.7M239.5 523.4h0.7M229.9 521.1h0.7M231.0 524.4h0.7M226.4 527.7h0.7M240.3 515.5h0.7M213.9 523.7h0.7M236.2 529.6h0.7M234.4 525.8h0.7M225.8 523.9h0.7M230.3 525.0h0.7M230.6 519.5h0.7M225.0 528.8h0.7M232.6 523.5h0.7M232.6 525.9h0.7M217.7 525.3h0.7M218.9 551.4h0.7M209.6 530.6h0.7M225.2 526.0h0.7M253.8 514.7h0.7M242.4 528.8h0.7M239.3 527.1h0.7M223.6 522.5h0.7M224.4 524.0h0.7M232.4 519.6h0.7M250.5 526.2h0.7M239.4 525.5h0.7M257.8 525.9h0.7M240.5 524.3h0.7M236.2 518.0h0.7M230.2 526.4h0.7M238.0 520.3h0.7M221.4 527.6h0.7M240.9 520.3h0.7M234.0 526.4h0.7M210.6 534.2h0.7M227.9 547.0h0.7M224.4 523.9h0.7M214.9 521.3h0.7M232.0 526.2h0.7M210.2 524.4h0.7M220.6 529.1h0.7M222.3 527.6h0.7M225.4 522.9h0.7M216.9 523.5h0.7M217.4 523.3h0.7M214.6 523.4h0.7M233.3 524.2h0.7M225.3 521.8h0.7M258.3 535.0h0.7M201.6 526.3h0.7M226.4 525.5h0.7M224.4 517.6h0.7M211.1 522.6h0.7M207.1 531.0h0.7M211.6 545.3h0.7M241.8 518.5h0.7M220.8 527.0h0.7M225.0 529.3h0.7M258.4 530.9h0.7M250.8 522.6h0.7M211.1 522.7h0.7M230.7 523.8h0.7M251.2 524.2h0.7M220.2 526.5h0.7M233.2 519.9h0.7M258.2 528.3h0.7M220.5 524.5h0.7M230.6 526.2h0.7M226.6 526.4h0.7M245.1 522.2h0.7M209.9 534.5h0.7M208.1 531.4h0.7M218.7 522.2h0.7M234.9 524.4h0.7M237.0 526.0h0.7M219.1 527.4h0.7M234.7 528.2h0.7M262.3 527.1h0.7M205.8 532.6h0.7M229.8 527.2h0.7M233.9 519.7h0.7M229.5 526.8h0.7M235.7 527.7h0.7M224.7 529.6h0.7M239.3 525.4h0.7M227.9 550.0h0.7M246.8 524.0h0.7M230.8 526.5h0.7M233.3 523.7h0.7M222.9 547.5h0.7M225.0 527.6h0.7M259.2 526.6h0.7M237.2 526.4h0.7M262.3 529.4h0.7M248.4 525.2h0.7M209.9 528.8h0.7M249.8 526.0h0.7M243.3 521.3h0.7M213.1 522.7h0.7M233.9 524.0h0.7M224.7 525.0h0.7M241.9 533.2h0.7M241.4 518.8h0.7M235.2 526.5h0.7M263.0 534.2h0.7M231.3 525.8h0.7M255.4 525.8h0.7M213.2 522.8h0.7M221.1 547.3h0.7M227.8 519.1h0.7M245.6 520.4h0.7M213.4 548.6h0.7M242.9 524.2h0.7M244.1 524.4h0.7M240.6 523.8h0.7M249.5 526.3h0.7M227.4 526.0h0.7M237.1 525.5h0.7M251.2 517.1h0.7M230.0 519.8h0.7M224.3 523.4h0.7M209.1 527.5h0.7M242.3 526.4h0.7M225.4 524.4h0.7M212.7 547.8h0.7M232.0 526.6h0.7M233.1 522.0h0.7M220.4 548.7h0.7M224.5 525.5h0.7M212.7 522.6h0.7M226.7 533.4h0.7M235.7 527.1h0.7M238.4 526.5h0.7M241.4 523.8h0.7M234.7 525.7h0.7M226.2 549.8h0.7M218.2 523.4h0.7M217.5 522.0h0.7M243.8 526.6h0.7M246.6 519.8h0.7M204.9 515.5h0.7M228.4 509.9h0.7M241.9 527.4h0.7M218.4 527.1h0.7M220.4 526.3h0.7M243.4 521.5h0.7M241.0 523.5h0.7M233.6 525.7h0.7M228.7 521.9h0.7M206.1 531.9h0.7M229.5 521.1h0.7M242.7 524.4h0.7M243.8 519.8h0.7M232.6 523.8h0.7M220.8 523.9h0.7M207.8 522.2h0.7M240.4 523.4h0.7M234.2 523.0h0.7M227.5 545.0h0.7M240.2 526.0h0.7M227.6 525.9h0.7M215.2 519.2h0.7M228.4 520.7h0.7M256.4 528.0h0.7M217.4 526.4h0.7M236.3 523.7h0.7M237.8 523.3h0.7M209.9 547.8h0.7M248.4 518.2h0.7M240.9 525.5h0.7M217.2 520.6h0.7M226.4 519.0h0.7M219.5 524.1h0.7M237.4 524.1h0.7M213.6 518.2h0.7M242.6 527.0h0.7M256.5 528.5h0.7M243.1 524.7h0.7M218.7 521.5h0.7M259.4 520.6h0.7M228.3 520.8h0.7M239.7 527.4h0.7M216.8 520.0h0.7M255.4 541.0h0.7M235.5 525.5h0.7M225.2 527.5h0.7M263.7 525.3h0.7M206.9 534.8h0.7M227.9 517.6h0.7M238.9 526.7h0.7M238.0 523.6h0.7M221.8 526.1h0.7M244.9 525.0h0.7M232.7 526.5h0.7M219.2 527.5h0.7M232.3 523.2h0.7M223.6 525.1h0.7M212.9 523.6h0.7M226.3 526.6h0.7M213.8 521.7h0.7M225.7 526.4h0.7M230.3 524.3h0.7M257.7 533.2h0.7M239.4 530.9h0.7M235.1 527.5h0.7M226.4 520.2h0.7M263.9 515.6h0.7M233.8 527.4h0.7M225.4 522.2h0.7M239.0 525.1h0.7M239.6 523.5h0.7M249.0 550.5h0.7M224.7 526.2h0.7M243.2 522.2h0.7M218.1 526.8h0.7M235.5 546.8h0.7M238.8 522.8h0.7M219.7 520.0h0.7M234.3 523.9h0.7M265.8 521.0h0.7M238.6 526.3h0.7M229.5 518.5h0.7M237.5 523.8h0.7M223.5 521.5h0.7M254.5 518.7h0.7M225.8 525.8h0.7M220.0 525.6h0.7M234.4 524.6h0.7M224.5 525.5h0.7M209.4 538.1h0.7M242.5 520.3h0.7M225.8 524.7h0.7M209.8 528.8h0.7M227.3 525.3h0.7M232.9 522.7h0.7M220.0 525.3h0.7M205.3 532.9h0.7M225.8 522.8h0.7M206.0 531.9h0.7M244.9 521.4h0.7M236.3 523.1h0.7M209.9 537.5h0.7M232.9 525.5h0.7M233.9 523.2h0.7M235.0 523.6h0.7M249.2 523.9h0.7M227.6 522.9h0.7M221.5 526.1h0.7M220.7 518.6h0.7M210.9 545.3h0.7M223.1 526.2h0.7M237.6 525.3h0.7M236.0 523.4h0.7M215.2 522.9h0.7M206.0 533.8h0.7M238.8 525.9h0.7M240.2 527.1h0.7M245.7 522.4h0.7M226.4 522.2h0.7M220.5 527.2h0.7M220.3 518.8h0.7M224.7 529.0h0.7M223.8 527.5h0.7M263.5 537.6h0.7M226.8 545.5h0.7M208.9 540.0h0.7M238.1 527.1h0.7M244.2 520.2h0.7M233.4 526.3h0.7M205.4 531.4h0.7M239.3 525.6h0.7M238.0 523.6h0.7M217.6 522.8h0.7M240.6 524.4h0.7M227.2 525.5h0.7M229.9 527.3h0.7M241.7 525.8h0.7M231.1 523.7h0.7M236.0 544.6h0.7M243.5 525.4h0.7M203.4 524.7h0.7M255.9 536.5h0.7M239.4 524.5h0.7M241.2 527.2h0.7M237.4 522.6h0.7M211.9 524.4h0.7M218.3 526.1h0.7M214.0 525.5h0.7M231.7 515.3h0.7M236.5 516.4h0.7M256.8 527.0h0.7M246.9 520.4h0.7M251.7 519.4h0.7M247.1 523.2h0.7M255.6 534.1h0.7M226.0 527.2h0.7M236.0 527.3h0.7M257.3 531.5h0.7M256.2 548.0h0.7M240.1 523.1h0.7M215.2 524.0h0.7M258.5 529.2h0.7M229.3 521.4h0.7M225.5 527.2h0.7M208.0 541.4h0.7M266.0 535.8h0.7M236.6 526.1h0.7M238.5 524.3h0.7M243.6 517.1h0.7M235.0 524.7h0.7M256.1 539.6h0.7M243.1 525.7h0.7M229.6 521.7h0.7M214.1 524.5h0.7M222.0 525.4h0.7M213.7 513.4h0.7M231.8 526.8h0.7M204.6 522.5h0.7M220.7 529.1h0.7M237.5 525.9h0.7M256.0 521.2h0.7M224.5 529.8h0.7M222.7 524.5h0.7M237.5 524.4h0.7M227.0 524.5h0.7M224.8 522.5h0.7M208.1 531.1h0.7M219.1 523.2h0.7M256.6 527.0h0.7M234.4 524.6h0.7M202.5 532.3h0.7M235.7 524.6h0.7M246.6 521.3h0.7M263.2 530.9h0.7M222.6 524.2h0.7M232.4 522.3h0.7M259.6 524.8h0.7M236.3 522.8h0.7M230.0 527.3h0.7M257.9 530.0h0.7M210.4 531.5h0.7M238.3 522.0h0.7M256.0 532.1h0.7M220.5 543.5h0.7M220.0 525.0h0.7M256.6 533.2h0.7M243.9 522.7h0.7M226.3 519.8h0.7M238.3 520.8h0.7M236.0 523.6h0.7M236.0 525.0h0.7M247.4 524.9h0.7M260.3 537.4h0.7M224.9 528.6h0.7M235.7 524.7h0.7M247.1 519.0h0.7M226.3 516.2h0.7M234.7 528.0h0.7M226.5 527.6h0.7M236.8 524.2h0.7M231.1 525.7h0.7M241.5 546.6h0.7M249.1 523.2h0.7M234.6 526.2h0.7M239.2 526.8h0.7M242.1 528.1h0.7M246.9 524.4h0.7M234.1 527.9h0.7M246.0 524.1h0.7M204.6 517.6h0.7M237.9 524.5h0.7M214.8 525.5h0.7M236.2 527.4h0.7M264.7 534.2h0.7M232.1 524.9h0.7M229.2 526.0h0.7M221.6 521.4h0.7M227.8 547.5h0.7M239.7 523.8h0.7M228.7 526.3h0.7M244.2 525.8h0.7M235.1 527.4h0.7M256.0 532.1h0.7M261.1 527.9h0.7M228.4 525.1h0.7M208.5 524.8h0.7M259.7 535.6h0.7M222.5 525.0h0.7M233.2 519.8h0.7M244.4 524.8h0.7M224.8 526.8h0.7M209.1 518.9h0.7M235.8 523.2h0.7M221.4 521.6h0.7M223.3 527.2h0.7M242.6 526.3h0.7M256.2 527.5h0.7M233.3 523.2h0.7M232.1 521.1h0.7M216.2 517.5h0.7M236.5 524.0h0.7M218.6 552.2h0.7M220.9 526.4h0.7M234.6 517.5h0.7M238.0 520.3h0.7M257.1 531.4h0.7M225.6 528.0h0.7M221.5 525.3h0.7M231.7 521.6h0.7M208.2 532.5h0.7M231.5 525.0h0.7M235.1 524.9h0.7M260.0 539.3h0.7M248.6 512.2h0.7M218.5 514.2h0.7M211.5 544.0h0.7M243.8 550.6h0.7M214.7 531.8h0.7M257.4 542.2h0.7M253.4 531.4h0.7M214.2 516.5h0.7M258.7 515.2h0.7M237.2 499.3h0.7M233.3 511.7h0.7M243.7 502.3h0.7M242.0 507.3h0.7M242.5 506.4h0.7M238.8 508.1h0.7M244.1 498.2h0.7M249.9 494.6h0.7M237.8 507.8h0.7M238.5 505.8h0.7M244.5 501.4h0.7M240.4 508.0h0.7M238.3 498.1h0.7M239.9 504.5h0.7M237.7 505.5h0.7M242.7 502.8h0.7M241.1 500.2h0.7M246.2 501.3h0.7M240.4 501.7h0.7M243.8 499.3h0.7M237.6 499.8h0.7M237.4 507.4h0.7M251.7 496.9h0.7M250.2 499.9h0.7M246.9 504.6h0.7M249.5 499.2h0.7M252.4 497.4h0.7M248.5 500.9h0.7M248.3 505.0h0.7M249.3 497.0h0.7M251.0 502.7h0.7M248.8 503.2h0.7M249.8 499.2h0.7M252.8 500.7h0.7M251.1 502.2h0.7M250.5 502.3h0.7M248.6 504.4h0.7M251.2 499.2h0.7M247.6 504.3h0.7M248.2 501.6h0.7M252.4 501.0h0.7M248.1 503.8h0.7M251.5 496.6h0.7M248.0 500.2h0.7M250.1 498.0h0.7M249.5 501.4h0.7M250.0 503.6h0.7M244.3 510.3h0.7M250.1 504.3h0.7M247.7 502.2h0.7M250.0 499.5h0.7M251.2 497.4h0.7M250.9 500.1h0.7M248.8 504.9h0.7M247.0 506.9h0.7M249.0 500.5h0.7M248.4 502.0h0.7M248.1 500.7h0.7M246.6 499.3h0.7M248.3 501.7h0.7M249.4 500.9h0.7M250.1 505.6h0.7M247.7 504.6h0.7M247.3 505.6h0.7M249.6 501.0h0.7M249.4 497.1h0.7M248.6 502.1h0.7M247.4 500.9h0.7M252.2 500.2h0.7M249.3 498.1h0.7M248.1 507.3h0.7M251.1 502.5h0.7M249.0 501.1h0.7M247.6 504.3h0.7M247.0 506.3h0.7M248.8 501.9h0.7M247.3 499.6h0.7M252.3 497.1h0.7M249.3 501.6h0.7M250.5 500.7h0.7M249.6 498.0h0.7M252.1 495.5h0.7M249.9 500.4h0.7M247.3 501.8h0.7M250.6 497.5h0.7M250.7 497.9h0.7M253.0 498.9h0.7M250.6 501.8h0.7M249.6 496.0h0.7M250.0 503.7h0.7M248.5 507.1h0.7M249.0 505.0h0.7M247.2 503.6h0.7M251.5 498.1h0.7M247.8 500.7h0.7M248.4 502.4h0.7M248.4 501.8h0.7M249.7 503.2h0.7M252.2 498.6h0.7M250.1 505.5h0.7M248.5 500.4h0.7M248.6 499.9h0.7M247.4 505.3h0.7M247.2 506.7h0.7M251.1 500.1h0.7M246.5 505.2h0.7M246.8 504.2h0.7" stroke="#111" stroke-width="0.75" fill="none"/>
<path d="M253.6 551.9l-.5 0l-.1-.3l.2-.5l-.1-.1l-1.5 .3l-.5-.4l-.5 0l-.8-.3l-.2-.5l0-.5l.6-.5l-.1-.1l-.5 .1l0 1l-.5 .5l-1 0l-.5-.2l-.2-.3l.4-.5l0-.5l-.2-.1l-.5 .3l-.5-.2l.9-1l-.6-.5l-.8-.4l-.2-1.1l-.8-.6l-.8-.4l0-.5l.5-.5l.2-.5l-.4-.4l-.5 .1l-.5 .3l-.5-.3l0 .8l-.5 .3l-.5 .1l-.5-.4l-.2 0l-.1 .5l-.7 .5l-.5-.1l-.4-.4l-.1-.5l-.5 .3l-.5-.3l-.5-.6l-1 .5l-.5-.3l-.5 0l-.8 .4l-.7 .7l-1-1l-.6 .3l-.8 1.5l-.5 .5l-.6 .3l-.5-.1l-.5-.6l-.5 .2l-.5 0l-.7-.8l.1-1.5l-.4-.2l-1.4 1.2l-.3 .5l0 .5l-.3 .4l-1-.6l-1 0l-.7-.8l-1.3-.4l-.5 .4l.2 .5l-.2 .2l-2.5 1.2l-1 .1l.2 .5l1.2 1l-1 .5l-.4 .6l-2 .4l-.9 0l-.6-.2l-.5-.4l-.2-.4l.1-.5l-.5-1l-.2-.5l-.7-.6l-.3-.4l0-.5l-.2-.3l-.4-.2l-.8-2.5l.3-1.5l-.2-1.5l-.7-.5l-.1-.5l.1-.5l-.2-1l.3-.5l.2-1.1l.4-.4l-.5-1l.1-.7l.5-.8l-.3-.5l.7-1l-.5-1.5l.2-.5l.9-1.1l1-.1l.5-.3l-.2-1l.2-.5l.5 .2l.1 .3l.4 .2l1-.2l.5-.5l-.7-.5l-.2-.5l.4-.4l.5 .4l.1 .5l.4 .2l.5-.2l.3 .5l-.2 .5l.1 .5l.3 .3l.5-.2l.4 .4l.6 .9l.5 .1l1-.4l1 0l1.5 .6l.5-.1l.1-.6l-.3-.5l-.1-.5l.3-.2l.5 0l.4 .2l.5 .5l.1 1l0 .5l-.6 .5l0 .5l.1 .1l.5 0l.6-.6l-.5-.5l.5-.5l.4-.2l1 0l.2-.8l.4-.5l.4-.3l1 .1l.5 1.1l.5 .3l.5-.1l.5-.6l1.5-.1l.5-.3l.6 .4l-.2 1l.1 .2l1-.1l.5-.3l1 0l.1-.3l-.1-1l.5-.1l1 .6l.5 .1l.5 .6l.5 .2l1-.7l.5 .1l.9 .7l.3 .5l.3 .1l.5-.1l.2-.5l.1-.5l.7-.6l.5-.1l.5-.5l.5-.2l1 .4l.5-.3l.5-.4l.5-.1l.5 .5l1-.2l1 .1l.5 .3l.5-.3l.5-1.2l2.1-.4l.3-.5l-.2-.5l.4-1l.4-.4l.5 .2l.2 .2l.1 2l-.2 1l.6 1.5l-.2 .5l-.1 .5l.6 1.5l-.2 .5l-.1 1l-.2 .2l-.5 .1l-.2 .7l0 .5l.8 .5l-.3 .5l-.5 .5l0 .5l.4 .5l-.1 1.5l.1 1l-.2 .3l-.5 .1l-.1 .1l.5 1l-.2 1l0 1l.5 .5l-.7 1l.9 1l0 .5l-.6 1l.4 .5l0 .5l-1.1 .5l0 .5l.4 .8l.5 0l.2 .2l.1 .5l-.3 .5l.3 .5l.5 .5l.2 .5l-.5 .6l-1.5 .3zM219.1 526.8l-.5-.1l-.1-.6l.1-.5l.5-.3l.6 .3l.3 .5l-.4 .5zM249.1 526.0l-.1-.4l.1-.2l.1 .2zM245.0 528.1l-.4-.5l-.5-.1l-.7 .6l.2 .4l.5 .1zM220.7 529.1l.4-.5l-.5 .1l-.1 .4zM237.9 529.1l.2-.5l-.5 0l-.3 .5zM236.2 529.6l-.1-.6l-.6 .6zM241.3 530.1l-.2-.4l-.3 .4l.3 .1zM243.5 531.1l.1-.5l-.5-.2l-.1 .2l.1 .8zM239.7 531.1l-.1-.1l-.2 .1l.2 .3zM242.2 533.1l-.1-.1l0 .1zM226.8 533.6l-.2-.3l-.2 .3l.2 .2zM230.2 533.6l-.1-.3l-.3 .3l.3 .3zM243.6 534.6l0-.6l-.3 .6zM227.5 541.6l-.4-.1l-.2 .1l.2 .2zM221.3 543.6l-.2-.6l-.5 .6l-.2 0zM229.6 543.6l-.2 0l.2 .1zM236.6 545.7l-.4-.6l.4-.6l.3 .1l.1 .5zM231.4 545.1l-.8-.2l-.1 .2l.1 .1zM229.1 546.7l-.5 .3l-1-.2l-.1-.2l0-1l1.3 .5l.3 .3zM216.0 548.6l-.4-.9l-.5 .2l-.1 .7l.1 .2z" fill="#0c0c0c"/>
<path d="M253.6 549.8l-.5 .1l-.5-.4l-2.5-2.1l-.5-.3l-1.5-.5l-.5-.4l-.5-.4l-.5-.7l-1-1.7l-.5-.7l-.5-.4l-.5-.1l-1 0l-3.5 .7l-3 .4l-4.5 .4l-2.5 .1l-2.5-.1l-6.5-.5l-.5 .2l-.5 .5l-1 1.8l-.5 .7l-.5 .5l-.5 .4l-.5 .2l-.5 .1l-.5 0l-.5-.2l-.5-.3l-.5-.5l-.5-.6l-.5-.9l-.8-2l-.5-2.5l-.2-3l.1-3l.5-2.5l.8-2l.6-1.1l.5-.6l.5-.5l.5-.3l.5-.2l.5 0l.5 .1l.5 .2l.5 .4l.5 .5l.5 .7l.4 .8l1.1 2.6l.5 .7l.5 .2l2 .5l2.8 .5l2.7 .4l2.5 .2l4.5 .2l2.5-.1l2.8-.2l2.2-.3l.6-.2l.8-.5l.4-.5l.3-.5l.8-2l.5-1l.6-.8l.5-.5l.5-.3l.5-.1l1.5 0l.5-.2l2.5-1.9l.5 .1l.2 .7l.1 1l.1 9.5l-.1 10l-.1 1.5z" fill="#e4e4e4" stroke="#f2f2f2" stroke-width="0.4"/>
<path d="M252.6 547.5l-.5 0l-.5-.3l-2-1.7l-1.5-1.1l-1-1l-1.5-1.8l-.5-.4l-1-.6l-1-.1l-6.5 .8l-2.5 .2l-2.5 .1l-4.5-.2l-6.5-.6l-.5 .1l-.5 .5l-1.4 2.7l-.6 .8l-.5 .5l-.5 .3l-.5 .1l-.5-.1l-.5-.2l-.5-.4l-.8-1l-.7-1.5l-.5-2l-.2-2l0-2.5l.4-2.5l.4-1.5l.8-1.5l.6-.7l.5-.4l.5-.2l.5-.1l.5 .1l.5 .3l.5 .5l.4 .5l.8 1.5l.8 2.4l.5 1l.5 .4l.5 .2l4.5 .8l4.5 .4l4 .2l4.5-.3l2.5-.2l1-.2l1-.4l1-.5l1-.8l.4-.5l1.6-2.4l.5-.6l.5-.4l2-1.1l2-1.4l.5 0l.2 .4l.1 .5l.1 1l0 7l0 8l-.1 1l-.1 .5z" fill="#adadad" stroke="#2a2a2a" stroke-width="0.5"/>
<path d="M216.1 543.1l-.5-.1l-.5-.3l-.5-.6l-.3-.5l-.3-1l-.3-1l-.2-2l.2-2l.2-1l.3-1l.4-.7l.5-.6l.5-.3l.5-.1l.5 .2l.5 .4l.7 1.1l.3 1l.3 1l.2 2l-.1 1l-.1 1l-.3 1l-.4 1l-.6 .9l-.5 .4zM251.1 544.2l-.5-.1l-.5-.3l-2-1.7l-2.8-3l-.4-.5l-.1-.5l.1-.5l.4-.5l2.8-3.1l1-.9l1-.7l.5-.3l.5-.1l.3 .6l.1 .5l.1 4.5l0 5l-.2 1z" fill="#cecece" stroke="#2a2a2a" stroke-width="0.5"/>
<path d="M216.1 540.4l-.5-.2l-.5-.7l-.3-.9l-.1-1l.1-1l.3-1.1l.5-.7l.5-.2l.5 .3l.4 .7l.2 1l.1 1l-.2 1.5l-.5 1zM249.6 541.0l-.5-.2l-.5-.4l-.8-.8l-.8-1l-.1-.5l.1-.5l.8-1l.8-.9l.5-.3l.5-.3l.5 .6l.1 .9l0 1.5l-.1 2.2l-.1 .3z" fill="#8c8c8c" stroke="#2a2a2a" stroke-width="0.5"/>
<path d="M216.1 538.6l-.5-.5l-.1-.5l.1-.7l.5-.5l.3 .7l.1 .5l-.1 .5zM249.1 538.8l-.5 0l-.2-.2l-.2-.5l.2-.5l.2-.3l.5 0l.1 .8z" fill="#222"/>
</g>
<path d="M198.0 498.6h1.3M198.0 508.6h1.3M198.0 517.9h1.3M198.0 527.9h1.3M198.0 545.2h1.3M206.3 553.7v0.9M219.8 553.7v0.9M233.4 553.7v0.9M245.5 553.7v0.9M257.0 553.7v0.9" stroke="#555" stroke-width="0.5"/>
<path d="M198.1 537.5v1.8M212.4 554.3000000000001h2.2" stroke="#111" stroke-width="1.1"/>
<g filter="url(#fb)">
<path d="M310.9 519.8h0.7M307.7 527.2h0.7M288.9 537.4h0.7M321.0 521.6h0.7M315.6 525.7h0.7M311.9 526.8h0.7M317.1 522.8h0.7M298.9 521.3h0.7M323.5 524.3h0.7M317.8 524.1h0.7M299.7 522.5h0.7M314.1 522.2h0.7M335.6 536.7h0.7M318.0 522.1h0.7M302.5 523.3h0.7M314.2 522.4h0.7M304.8 526.9h0.7M298.1 524.7h0.7M299.2 524.2h0.7M336.5 532.3h0.7M304.7 517.0h0.7M306.7 524.5h0.7M313.9 525.7h0.7M292.5 546.6h0.7M302.1 526.2h0.7M308.0 526.5h0.7M318.9 525.3h0.7M323.9 525.1h0.7M307.2 522.2h0.7M298.7 524.8h0.7M325.4 527.8h0.7M315.7 526.2h0.7M307.1 524.1h0.7M292.4 518.9h0.7M315.8 524.5h0.7M298.7 523.4h0.7M298.9 525.9h0.7M322.6 526.0h0.7M309.1 521.1h0.7M301.9 518.7h0.7M290.3 528.9h0.7M330.5 520.2h0.7M335.9 544.5h0.7M306.1 517.1h0.7M317.9 524.1h0.7M317.3 516.4h0.7M309.6 519.0h0.7M306.5 516.7h0.7M289.8 532.3h0.7M323.8 515.2h0.7M318.9 526.0h0.7M310.0 524.6h0.7M317.5 526.3h0.7M311.3 524.2h0.7M296.0 515.4h0.7M329.2 523.4h0.7M288.8 529.9h0.7M287.7 526.0h0.7M307.5 523.7h0.7M319.8 527.0h0.7M301.5 522.3h0.7M306.2 524.4h0.7M311.3 524.6h0.7M320.1 527.5h0.7M319.3 525.6h0.7M315.8 520.1h0.7M329.7 521.5h0.7M314.2 524.9h0.7M320.5 525.5h0.7M336.6 518.3h0.7M281.9 526.9h0.7M331.3 523.3h0.7M308.6 523.2h0.7M327.4 526.7h0.7M301.6 524.0h0.7M311.9 524.3h0.7M325.9 515.0h0.7M336.0 528.6h0.7M337.1 521.1h0.7M320.8 525.0h0.7M299.0 519.9h0.7M319.1 523.3h0.7M305.3 524.7h0.7M296.4 524.2h0.7M304.4 525.1h0.7M312.1 520.9h0.7M314.5 523.8h0.7M319.4 522.1h0.7M312.1 523.0h0.7M320.9 526.0h0.7M338.2 525.2h0.7M309.9 524.3h0.7M316.9 528.1h0.7M313.6 526.1h0.7M317.2 527.0h0.7M323.1 525.8h0.7M296.6 520.5h0.7M333.7 536.5h0.7M301.9 548.0h0.7M320.9 526.4h0.7M286.3 539.9h0.7M300.5 522.7h0.7M318.4 519.5h0.7M308.9 526.7h0.7M287.0 521.5h0.7M311.0 518.5h0.7M302.1 521.8h0.7M323.0 516.4h0.7M305.8 525.5h0.7M317.1 518.5h0.7M302.1 518.1h0.7M337.4 529.4h0.7M316.9 527.5h0.7M301.6 520.5h0.7M322.7 549.8h0.7M316.8 520.9h0.7M290.8 529.7h0.7M309.8 525.2h0.7M321.9 525.2h0.7M306.3 521.8h0.7M312.3 523.7h0.7M320.8 525.5h0.7M314.6 529.8h0.7M322.6 528.3h0.7M315.1 520.2h0.7M331.6 523.4h0.7M322.2 526.4h0.7M315.1 527.2h0.7M307.8 523.0h0.7M322.0 526.7h0.7M299.6 523.5h0.7M299.0 524.2h0.7M310.9 527.1h0.7M283.6 536.4h0.7M323.5 551.7h0.7M312.2 526.8h0.7M286.2 534.8h0.7M330.7 523.1h0.7M325.3 521.5h0.7M310.3 516.5h0.7M324.0 522.6h0.7M318.2 524.2h0.7M299.4 523.3h0.7M292.9 522.7h0.7M291.8 519.0h0.7M324.8 524.6h0.7M311.7 526.1h0.7M313.9 522.9h0.7M323.1 521.0h0.7M325.0 524.0h0.7M322.3 525.8h0.7M305.4 516.9h0.7M336.4 530.5h0.7M310.6 524.8h0.7M316.3 513.3h0.7M303.9 527.5h0.7M337.1 524.2h0.7M283.0 536.1h0.7M299.2 525.6h0.7M310.1 525.5h0.7M315.2 525.3h0.7M298.3 524.3h0.7M281.9 528.4h0.7M298.6 521.5h0.7M314.8 519.9h0.7M315.7 523.2h0.7M297.6 523.9h0.7M298.0 548.5h0.7M308.6 522.6h0.7M311.3 522.3h0.7M308.6 525.4h0.7M328.9 527.6h0.7M316.2 520.0h0.7M316.5 527.4h0.7M311.8 524.2h0.7M314.0 525.0h0.7M294.3 524.3h0.7M317.3 525.7h0.7M339.6 533.1h0.7M325.2 525.9h0.7M321.9 528.0h0.7M328.2 524.6h0.7M323.2 524.5h0.7M291.8 542.6h0.7M321.7 516.7h0.7M314.0 521.4h0.7M316.6 525.5h0.7M308.1 525.5h0.7M308.9 526.6h0.7M306.3 525.0h0.7M294.3 520.5h0.7M301.5 527.3h0.7M287.5 537.6h0.7M304.8 525.3h0.7M295.4 524.8h0.7M310.3 526.8h0.7M320.5 526.2h0.7M319.2 525.3h0.7M307.3 519.6h0.7M327.8 516.2h0.7M308.7 519.8h0.7M308.2 521.6h0.7M316.0 524.1h0.7M322.1 524.4h0.7M310.6 525.1h0.7M317.3 523.4h0.7M339.0 524.7h0.7M323.9 524.3h0.7M304.6 525.2h0.7M302.8 519.8h0.7M322.5 525.9h0.7M311.5 524.7h0.7M290.7 524.8h0.7M288.3 532.2h0.7M309.7 525.5h0.7M299.0 523.4h0.7M338.3 541.0h0.7M323.1 524.6h0.7M335.1 538.4h0.7M305.4 527.6h0.7M319.8 526.0h0.7M293.4 525.6h0.7M315.1 520.5h0.7M285.0 527.5h0.7M296.9 522.6h0.7M338.9 537.4h0.7M288.1 531.3h0.7M312.5 523.5h0.7M337.5 540.1h0.7M319.5 525.1h0.7M326.4 526.0h0.7M325.7 513.6h0.7M319.2 520.4h0.7M289.7 544.2h0.7M321.3 521.5h0.7M290.0 533.4h0.7M337.7 517.0h0.7M312.6 526.8h0.7M306.7 544.5h0.7M309.7 523.0h0.7M302.1 525.5h0.7M320.7 525.6h0.7M301.5 526.9h0.7M342.9 527.3h0.7M343.1 532.1h0.7M326.7 518.2h0.7M302.5 528.8h0.7M328.1 523.3h0.7M311.4 519.2h0.7M321.2 518.1h0.7M306.1 527.6h0.7M315.4 516.4h0.7M338.2 523.5h0.7M324.9 527.6h0.7M314.4 524.7h0.7M309.1 521.0h0.7M295.2 524.4h0.7M311.8 514.8h0.7M321.6 513.0h0.7M321.9 525.1h0.7M309.5 526.7h0.7M307.5 524.5h0.7M299.5 517.5h0.7M307.0 521.7h0.7M310.6 525.9h0.7M326.6 520.5h0.7M305.9 535.4h0.7M302.7 545.3h0.7M312.5 524.4h0.7M301.5 516.8h0.7M307.0 526.8h0.7M281.5 522.8h0.7M335.9 526.5h0.7M286.9 520.9h0.7M310.1 526.7h0.7M324.2 520.2h0.7M335.0 535.9h0.7M315.0 521.0h0.7M293.6 524.4h0.7M313.3 521.2h0.7M309.4 526.6h0.7M296.1 521.4h0.7M329.0 516.9h0.7M305.9 523.4h0.7M316.3 521.7h0.7M318.7 525.4h0.7M312.5 525.4h0.7M289.9 538.5h0.7M315.6 522.4h0.7M302.9 519.4h0.7M317.9 520.6h0.7M305.2 544.8h0.7M313.8 519.7h0.7M320.9 525.6h0.7M328.4 517.0h0.7M291.2 523.4h0.7M305.8 524.6h0.7M290.0 528.8h0.7M304.0 518.2h0.7M298.5 521.7h0.7M326.3 526.8h0.7M294.8 522.6h0.7M286.9 535.1h0.7M302.3 523.9h0.7M317.1 516.4h0.7M324.4 521.3h0.7M318.3 526.6h0.7M304.8 524.8h0.7M307.9 526.6h0.7M316.3 526.5h0.7M324.4 524.6h0.7M339.3 539.3h0.7M317.9 525.0h0.7M330.1 520.0h0.7M314.2 529.8h0.7M293.9 524.0h0.7M310.4 517.2h0.7M309.7 523.7h0.7M329.0 521.6h0.7M321.6 525.3h0.7M315.7 516.4h0.7M285.7 535.7h0.7M315.9 517.4h0.7M303.7 528.3h0.7M310.8 525.7h0.7M296.8 522.5h0.7M318.2 524.5h0.7M328.9 524.3h0.7M291.7 525.6h0.7M309.3 522.0h0.7M335.1 521.5h0.7M323.1 526.2h0.7M311.5 524.4h0.7M296.8 524.2h0.7M323.8 519.1h0.7M322.7 525.5h0.7M341.6 533.2h0.7M328.2 550.9h0.7M289.5 538.4h0.7M289.9 531.5h0.7M324.9 525.9h0.7M323.4 519.1h0.7M315.7 526.2h0.7M320.3 526.5h0.7M313.4 526.2h0.7M315.3 526.8h0.7M301.5 518.9h0.7M306.8 522.3h0.7M305.7 527.8h0.7M321.1 524.5h0.7M329.0 522.1h0.7M334.8 527.4h0.7M311.0 524.5h0.7M308.0 524.0h0.7M292.8 547.8h0.7M320.2 527.0h0.7M316.9 528.3h0.7M304.3 526.8h0.7M339.0 526.5h0.7M316.9 528.1h0.7M333.2 523.2h0.7M320.2 524.0h0.7M315.7 526.4h0.7M296.3 521.5h0.7M313.5 524.8h0.7M307.7 524.6h0.7M285.6 529.4h0.7M316.9 525.5h0.7M313.9 522.5h0.7M306.2 524.9h0.7M335.9 529.2h0.7M316.3 523.9h0.7M310.1 526.0h0.7M308.4 523.8h0.7M300.8 524.6h0.7M318.8 521.4h0.7M290.7 525.1h0.7M314.9 524.9h0.7M311.4 524.3h0.7M311.6 524.0h0.7M309.5 524.3h0.7M326.4 523.2h0.7M336.8 531.9h0.7M320.1 527.1h0.7M331.0 516.4h0.7M323.9 521.0h0.7M311.5 525.2h0.7M290.8 527.7h0.7M307.0 513.5h0.7M334.5 536.8h0.7M321.8 514.5h0.7M311.5 527.1h0.7M294.9 524.4h0.7M319.5 518.4h0.7M295.6 520.8h0.7M327.7 525.6h0.7M313.2 522.2h0.7M321.1 547.7h0.7M313.6 521.3h0.7M320.9 526.6h0.7M311.2 525.8h0.7M311.9 526.4h0.7M319.9 522.7h0.7M303.2 524.6h0.7M306.9 523.9h0.7M289.2 533.3h0.7M291.9 542.6h0.7M308.3 525.1h0.7M323.7 524.2h0.7M289.1 512.1h0.7M314.4 520.6h0.7M300.5 522.7h0.7M326.6 526.5h0.7M294.1 522.7h0.7M343.5 537.0h0.7M311.9 525.0h0.7M291.5 529.6h0.7M326.3 523.4h0.7M320.4 524.7h0.7M322.5 526.6h0.7M317.4 528.1h0.7M321.9 525.5h0.7M317.5 524.5h0.7M311.9 526.1h0.7M316.2 544.0h0.7M300.9 544.0h0.7M318.5 526.5h0.7M329.5 523.4h0.7M306.6 519.6h0.7M294.6 520.6h0.7M310.5 525.1h0.7M307.4 522.9h0.7M315.0 524.4h0.7M338.8 526.7h0.7M322.7 526.0h0.7M319.7 524.5h0.7M305.7 519.8h0.7M335.3 520.9h0.7M320.5 521.1h0.7M285.4 520.9h0.7M328.5 552.1h0.7M308.3 526.5h0.7M316.9 524.6h0.7M309.2 525.1h0.7M312.9 525.9h0.7M326.0 544.5h0.7M310.0 524.3h0.7M290.1 542.4h0.7M316.8 524.0h0.7M319.0 529.2h0.7M334.0 535.8h0.7M310.4 526.1h0.7M307.5 526.7h0.7M307.2 522.3h0.7M319.1 529.3h0.7M330.2 523.7h0.7M306.9 521.2h0.7M321.5 545.6h0.7M304.1 523.6h0.7M319.4 523.0h0.7M306.4 523.0h0.7M295.0 521.6h0.7M316.2 517.7h0.7M304.5 526.5h0.7M321.2 526.3h0.7M298.4 522.1h0.7M305.5 524.4h0.7M310.7 521.0h0.7M302.1 527.2h0.7M324.3 519.9h0.7M306.2 518.4h0.7M328.4 523.2h0.7M318.2 518.3h0.7M290.0 527.1h0.7M331.3 522.7h0.7M307.5 522.4h0.7M311.2 523.7h0.7M287.4 533.4h0.7M318.6 526.6h0.7M310.9 525.7h0.7M319.9 521.3h0.7M335.5 525.5h0.7M322.7 525.9h0.7M325.8 525.7h0.7M316.4 521.6h0.7M303.1 525.7h0.7M319.2 517.7h0.7M342.7 536.0h0.7M302.1 526.8h0.7M306.4 527.3h0.7M321.8 525.1h0.7M303.1 525.7h0.7M300.4 520.7h0.7M319.8 527.2h0.7M307.8 522.8h0.7M315.7 526.2h0.7M318.5 526.0h0.7M296.8 519.6h0.7M313.3 514.2h0.7M307.7 523.3h0.7M301.9 527.2h0.7M320.9 519.0h0.7M308.8 521.4h0.7M324.8 524.8h0.7M299.9 525.0h0.7M283.2 525.9h0.7M319.9 526.1h0.7M327.2 514.0h0.7M337.2 531.6h0.7M318.1 545.5h0.7M290.3 516.5h0.7M314.2 526.6h0.7M298.4 519.8h0.7M300.1 525.5h0.7M303.9 522.7h0.7M331.4 524.8h0.7M311.2 525.5h0.7M301.7 527.6h0.7M336.0 527.3h0.7M297.7 513.7h0.7M343.4 537.7h0.7M311.5 524.1h0.7M311.8 520.8h0.7M299.0 525.9h0.7M345.1 534.1h0.7M306.0 521.9h0.7M324.3 523.7h0.7M317.5 522.2h0.7M316.1 520.0h0.7M315.4 524.8h0.7M313.4 522.8h0.7M315.9 523.0h0.7M322.5 524.8h0.7M309.7 526.6h0.7M298.8 524.7h0.7M321.1 527.6h0.7M310.4 543.6h0.7M318.5 523.2h0.7M292.6 525.8h0.7M324.6 517.5h0.7M293.8 520.2h0.7M328.7 522.0h0.7M320.0 527.0h0.7M342.7 533.1h0.7M315.7 519.5h0.7M312.0 525.4h0.7M298.9 525.3h0.7M305.5 525.7h0.7M324.7 523.8h0.7M299.3 524.5h0.7M322.2 524.7h0.7M312.8 526.5h0.7M322.4 547.5h0.7M324.2 511.8h0.7M308.8 521.4h0.7M287.3 522.5h0.7M303.2 522.4h0.7M312.6 514.8h0.7M322.1 526.1h0.7M297.2 519.8h0.7M286.4 530.5h0.7M292.9 507.9h0.7M316.3 517.7h0.7M327.0 535.3h0.7M333.1 547.9h0.7M329.3 516.3h0.7M331.5 532.1h0.7M301.0 520.7h0.7M314.9 509.4h0.7M337.3 525.2h0.7M324.5 506.9h0.7M321.1 502.4h0.7M316.4 506.5h0.7M315.5 505.6h0.7M323.5 506.4h0.7M319.0 499.8h0.7M321.7 505.4h0.7M320.9 506.3h0.7M320.8 507.3h0.7M330.5 506.2h0.7M322.3 512.8h0.7M313.8 504.8h0.7M327.8 496.3h0.7M314.0 501.5h0.7M324.4 508.7h0.7M320.3 504.0h0.7M330.1 506.0h0.7M323.7 498.6h0.7M324.3 502.8h0.7M328.6 505.5h0.7M321.0 506.9h0.7M327.8 505.9h0.7M319.7 507.3h0.7M319.9 508.1h0.7M321.1 496.8h0.7M328.2 507.9h0.7M326.7 495.3h0.7M323.3 505.6h0.7M319.8 501.6h0.7M324.9 499.5h0.7M316.7 502.9h0.7M325.3 499.0h0.7M319.8 510.7h0.7M315.0 503.3h0.7M317.6 501.2h0.7M324.0 502.4h0.7M323.8 504.1h0.7M326.3 503.8h0.7M319.3 505.7h0.7M328.7 501.3h0.7M324.8 501.2h0.7M316.8 507.1h0.7M322.6 505.8h0.7M318.5 505.5h0.7M324.9 505.3h0.7M332.2 504.7h0.7M318.9 504.1h0.7M322.2 507.1h0.7M316.5 508.2h0.7M326.8 503.0h0.7M323.2 502.0h0.7M315.9 504.8h0.7M324.3 505.0h0.7M328.6 505.3h0.7M326.4 497.5h0.7M316.2 504.7h0.7M325.9 502.0h0.7M325.5 499.4h0.7M328.7 502.1h0.7M326.5 508.8h0.7M318.7 505.4h0.7M325.7 505.2h0.7M312.8 506.7h0.7M327.1 501.7h0.7M316.2 508.1h0.7M315.2 505.2h0.7M320.7 498.6h0.7M331.2 505.9h0.7M323.6 507.3h0.7M322.4 504.8h0.7M321.1 508.5h0.7M333.5 501.3h0.7M318.3 505.8h0.7M318.0 508.5h0.7M324.9 506.3h0.7M316.3 502.7h0.7M327.0 502.8h0.7M322.4 504.7h0.7M324.4 508.1h0.7M315.8 507.6h0.7M317.5 503.9h0.7M322.9 497.8h0.7M326.3 502.4h0.7M329.3 506.9h0.7M321.4 504.3h0.7M327.7 497.1h0.7M324.9 507.4h0.7M325.2 501.4h0.7M323.5 505.8h0.7M324.0 505.2h0.7M323.8 508.3h0.7M323.5 494.8h0.7M320.6 507.8h0.7M313.1 501.9h0.7M319.4 505.8h0.7" stroke="#111" stroke-width="0.75" fill="none"/>
<path d="M334.3 552.1l-.2-1l-.2-.1l-1 0l-.5-.6l-.5 0l-.5-.2l.4-.6l-.4-.6l-.5-.3l-.5 0l-.5 .2l-.3-.3l0-.5l-.2-.3l-.5-.2l-.5-1l-.2 .5l.2 .3l.5 .2l-.5 .9l-.5-.1l-.5-.5l-.5-.1l-.5 .1l-.5-1.7l-.5-.6l-.5 0l-.5-.5l0-1.5l-.7-1l-.3-.2l-1 0l-1 1.6l-2 .2l-.5 .3l-.3-.4l.3-1l-.3-.5l-.4 0l-.1 .5l-.7 1l-.5-2.3l-.1 .3l-.9 .5l-.3 1l-.2 .3l-1 .1l-1.5-.2l-.5 .1l-.2 .2l-.1 .5l-.7 .3l-1 .1l-.4-.4l.9-.9l.6-.1l-.1-.3l-1.5 .3l-.5 .5l1 1l-.2 .5l-.3 .4l-.5-.1l-.5-.6l-1 .1l-1-.9l-.5 .2l-.5 0l-1-.6l-.1 0l.2 .5l-.1 .5l-.5 1l-.5-.2l-.2-.3l0-.5l-.3-.3l-2.5-.1l-.5 .4l-.1 1l-.3 .5l.2 .5l0 .5l-.3 .3l-.5 .3l-.3-.1l.1-.5l.5-.5l-.3-.5l-1-.3l-.1 .3l0 1.5l-.4 .4l-.5 .1l0 .8l-.5-.1l-.1-.2l.1-.5l-1-1l-.4 .5l.5 .5l-.3 1l-.3 .5l-.5 .3l-.5-.3l-.3-.5l.3-.7l-.6-1.3l.2-.5l-.1-.5l-.5-.5l-.5-.1l-.5-.3l-.2-.6l.2-.5l-.3-1.5l0-1l.1-.5l-.8-.1l-.4-.4l.8-1l-.4-.9l-.5 0l-.4-.1l.4-.1l.1-.4l-.1-.8l-.4-.7l.1-.5l.5-.5l0-.5l-.7-1l.1-.5l-.3-1l.7-.6l.2-.4l.1-.5l0-1.5l.2-.4l.7-.6l.3-1.1l.7-.9l.5-1l.2-1l.6-.1l.5 .3l.5-.2l.1-.5l.3-.5l.1-.1l.5 .1l.5 .8l1 .2l.8 1l.2 .7l.5 .4l.5-.2l.5-1.2l.5-.2l.4 .5l-.3 .5l-1 1l.4 .3l1.1 .2l-.2 .5l0 .5l.1 .2l.5 0l.6-.7l-.3-1.5l.2-.5l.5-.1l.6 .1l.3 .5l.1 1l.5 0l.5 .2l1-.5l.9-.2l.6-.4l1 0l1-.3l1.5 .4l.5-.1l.5-.4l.5 .2l.5-.2l.5-.3l1 .4l.5 .9l1-.2l0-.6l.5 0l-.5 .6l1.5 .8l.5-.3l-.3-1.5l.3-.2l.5 .2l.5 .7l.5 0l.5 .4l1 .1l1 .5l.5 .4l.1-.1l-.1-.5l.3-.5l.7-.3l.5 0l1 .4l.5 0l.2-.1l-.2-1l.5-.3l.5 .4l.5 .7l.5 0l.5-.9l1-.5l.3-.9l.2-.2l.5-.1l1.5 .5l.3-.2l.3-1l.4-.3l1.5-.2l0-1.5l.5-.4l.5-.1l.6 .5l.1 .5l-.1 .5l.2 .5l-.8 .8l-.4 .2l-.1 .5l.5 .5l-.3 .5l.4 1l-.2 .5l.6 .1l.4 .9l-.5 1l.1 .5l.5 .5l0 .5l-.8 1l.5 .5l0 .5l-.5 1l-.2 .3l-1.1 .7l.1 1.5l.5 .7l.7 .3l.1 .5l-.9 1l.1 1.2l.1 .3l-.2 1l1 1l0 1l-.4 .6l-1-.4l-.4 .3l.6 .5l.3 .6l1 .6l.3 .3l.1 .5l-.1 .5l-.6 .5l0 1l-.3 .5l-.2 1.5l.3 1l.4 .5M327.4 526.0l-.7-.4l-.3-1l1.5-.2l.3 .2l-.1 .5zM306.9 526.4l-.5-.2l-.1-.6l.1-.4l.6 .4l.2 .5zM305.4 527.2l-.5-.2l-.3-.4l.3-.4l.5 .1l.5 .3zM294.4 527.6l0-.7l-.4 .7zM320.9 527.2l0-.2zM329.0 527.6l-.1-.1l0 .2zM319.3 529.1l-.4-.4l-.5 .4l.5 .2zM314.7 529.6l-.3-.3l-.4 .3l.4 .1zM319.0 530.6l-.3 0zM305.9 536.1l0-.6l-.5-.2l-.5 .2l.5 .5zM301.7 544.1l1-.5l-.1-.5l-.7-.6l-.5-.2l-1 .7l0 .2l.1 .4l.4 .5l.5 .3zM315.9 544.6l-.5 .1l-.1-.1l.6-.8l.2 .3zM325.9 545.1l0-.6l-.1 .6zM314.4 545.2l-.1-.1l.1-.4l.3 .4zM334.6 547.1l.1-.5l-.3-.8l-.3 .8l.2 .5zM328.9 550.9l-.5-.7l-.5-1.1l.5-.5l.5 .5l.2 1.5zM329.4 551.1l-.1 0z" fill="#0c0c0c"/>
<path d="M333.4 549.2l-.5 .2l-.5-.3l-2.5-2.1l-.5-.3l-1.5-.6l-.5-.3l-.5-.4l-.5-.6l-1.5-2.5l-.5-.4l-.5-.2l-1 0l-3.5 .7l-3 .5l-4.5 .3l-4.5 0l-6.5-.5l-.5 .2l-.5 .5l-1 1.8l-.5 .7l-.5 .5l-.5 .4l-.5 .2l-.5 .1l-.5 0l-.5-.2l-.5-.3l-.5-.5l-.5-.6l-.5-.9l-.8-2l-.5-2.5l-.2-3l.1-3l.5-2.5l.8-2l.6-1.1l.5-.6l.5-.5l.5-.3l.5-.2l.5 0l.5 .1l.5 .2l.5 .4l.5 .5l.5 .7l.4 .8l1.1 2.6l.5 .7l.5 .3l1.9 .4l2.7 .5l4.9 .6l4.5 .2l5-.3l2.5-.3l.5-.2l.8-.5l.4-.5l.3-.5l.8-2l.5-1l.7-.9l.5-.4l.5-.3l.5-.1l1.5 0l.5-.2l2-1.6l.5-.3l.5 .2l.1 .6l.2 1.5l0 9l0 10l-.2 1.5z" fill="#e4e4e4" stroke="#f2f2f2" stroke-width="0.4"/>
<path d="M332.4 546.9l-.5 .2l-.5-.3l-2-1.7l-1.5-1.1l-1-1l-1.2-1.4l-.8-.8l-1-.6l-1-.2l-6.5 .8l-4.5 .3l-2.5 0l-2.5-.2l-6-.6l-.5 .1l-.5 .5l-1.4 2.7l-.6 .8l-.5 .5l-.5 .3l-.5 .1l-.5-.1l-.5-.2l-.5-.4l-.8-1l-.7-1.5l-.5-2l-.2-2l0-2.5l.4-2.5l.4-1.5l.8-1.5l.6-.7l.5-.4l.5-.2l.5-.1l.5 .1l.5 .3l.5 .5l.4 .5l.8 1.5l.8 2.4l.5 1l.5 .4l.5 .2l4 .7l4.5 .5l4 .2l4.5-.2l3-.4l1-.3l1-.5l1-.7l.8-.8l1.7-2.5l.5-.6l.5-.4l2-1l1.5-1.2l.5-.3l.5 .2l.2 .8l.1 1l0 7l0 8l-.1 1z" fill="#adadad" stroke="#2a2a2a" stroke-width="0.5"/>
<path d="M296.4 542.6l-.5-.1l-.5-.3l-.5-.6l-.3-.5l-.3-1l-.3-1l-.2-2l.2-2l.2-1l.3-1l.4-.7l.5-.6l.5-.3l.5-.1l.5 .2l.5 .4l.7 1.1l.3 1l.3 1l.2 2l-.1 1l-.1 1l-.3 1l-.4 1l-.6 .9l-.5 .4zM330.9 543.6l-.5 .1l-.5-.4l-2-1.7l-2.9-3l-.4-.5l-.1-.5l.1-.5l.4-.5l2.7-3l1.2-1.1l1.5-1l.5 0l.1 .1l.1 .5l.2 1.5l0 4l0 4l-.2 1.5z" fill="#cecece" stroke="#2a2a2a" stroke-width="0.5"/>
<path d="M296.4 539.9l-.5-.2l-.5-.7l-.3-.9l-.1-1l.1-1l.3-1.1l.5-.7l.5-.2l.5 .3l.4 .7l.2 1l.1 1l-.2 1.5l-.5 1zM329.4 540.4l-.5-.1l-1-.8l-.8-.9l-.4-.5l-.1-.5l.1-.5l.3-.5l.9-1l1-.8l.5-.1l.3 .4l.2 .5l0 2l-.1 2l-.1 .5z" fill="#8c8c8c" stroke="#2a2a2a" stroke-width="0.5"/>
<path d="M296.4 538.1l-.5-.5l-.1-.5l.1-.7l.5-.5l.3 .7l.1 .5l-.1 .5zM328.9 538.1l-.5 .3l-.3-.3l-.2-.4l0-.2l.2-.4l.3-.4l.5 .3l.1 .6z" fill="#222"/>
</g>
<path d="M278.29999999999995 498.6h1.3M278.29999999999995 508.6h1.3M278.29999999999995 517.9h1.3M278.29999999999995 527.9h1.3M278.29999999999995 545.2h1.3M286.5 553.7v0.9M299.8 553.7v0.9M313.1 553.7v0.9M325.1 553.7v0.9M336.3 553.7v0.9" stroke="#555" stroke-width="0.5"/>
<path d="M278.4 537.5v1.8M292.5 554.3000000000001h2.2" stroke="#111" stroke-width="1.1"/>
<path d="M325.0 76.7L325.4 76.3L325.8 75.3L326.3 72.9L326.7 68.8L327.1 63.2L327.6 58.2L328.0 56.2L328.4 58.2L328.9 63.2L329.3 68.8L329.7 72.9L330.2 75.3L330.6 76.3L331.0 76.7L333.0 76.3L336.0 76.6L336.0 76.8L325.0 76.8Z" fill="#c5cde4"/>
<path d="M311.2 76.8L325.0 76.8L325.0 76.7L325.4 76.3L325.8 75.3L326.3 72.9L326.7 68.8L327.1 63.2L327.6 58.2L328.0 56.2L328.4 58.2L328.9 63.2L329.3 68.8L329.7 72.9L330.2 75.3L330.6 76.3L331.0 76.7L333.0 76.3L336.0 76.6L336.0 76.8L378 76.8" fill="none" stroke="#3d5a94" stroke-width="0.9" stroke-linejoin="round"/>
<path d="M349.0 98.4L352.0 97.9L353.6 96.3L354.8 93.6L356.0 92.2L357.2 91.6L358.4 91.0L359.6 91.8L361.0 91.5L362.2 92.4L363.2 95.2L364.4 97.5L366.0 98.3L369.0 98.5L369.0 98.8L349.0 98.8Z" fill="#c9c9cf"/>
<path d="M311.2 98.8L349.0 98.8L349.0 98.4L352.0 97.9L353.6 96.3L354.8 93.6L356.0 92.2L357.2 91.6L358.4 91.0L359.6 91.8L361.0 91.5L362.2 92.4L363.2 95.2L364.4 97.5L366.0 98.3L369.0 98.5L369.0 98.8L378 98.8" fill="none" stroke="#6b6b73" stroke-width="0.9" stroke-linejoin="round"/>
<path d="M358.2 121.0L359.0 117.0L359.8 110.5L360.6 113.0L361.2 111.5L362.0 116.0L362.8 114.5L363.6 117.5L364.4 116.5L365.2 118.5L366.2 118.2L367.0 121.0L367.0 121.0L358.2 121.0Z" fill="#d0d0d8"/>
<path d="M358.2 121.0L359.0 117.0L359.8 110.5L360.6 113.0L361.2 111.5L362.0 116.0L362.8 114.5L363.6 117.5L364.4 116.5L365.2 118.5L366.2 118.2L367.0 121.0" fill="none" stroke="#50505a" stroke-width="0.9" stroke-linejoin="round" stroke-dasharray="1.2 0.7"/>
<path d="M396.0 76.5L408.0 76.3L409.8 75.3L411.0 73.6L412.2 75.3L414.0 76.1L420.0 75.9L424.0 75.4L428.0 74.2L432.0 71.8L436.0 68.2L439.0 65.6L441.0 64.6L443.0 63.6L445.0 61.3L447.0 59.6L448.5 57.6L449.6 57.0L450.6 58.6L452.0 59.4L453.3 63.8L454.6 69.8L456.0 74.6L457.5 76.4L460.0 76.6L460.0 76.8L396.0 76.8Z" fill="#c5cde4"/>
<path d="M394 76.8L396.0 76.8L396.0 76.5L408.0 76.3L409.8 75.3L411.0 73.6L412.2 75.3L414.0 76.1L420.0 75.9L424.0 75.4L428.0 74.2L432.0 71.8L436.0 68.2L439.0 65.6L441.0 64.6L443.0 63.6L445.0 61.3L447.0 59.6L448.5 57.6L449.6 57.0L450.6 58.6L452.0 59.4L453.3 63.8L454.6 69.8L456.0 74.6L457.5 76.4L460.0 76.6L460.0 76.8L460.6 76.8" fill="none" stroke="#3d5a94" stroke-width="0.9" stroke-linejoin="round"/>
<path d="M406.0 98.5L407.8 98.7L408.2 98.4L408.6 97.6L409.0 96.1L409.4 93.7L409.8 90.8L410.2 88.2L410.6 87.2L411.0 88.2L411.4 90.8L411.8 93.7L412.2 96.1L412.6 97.6L413.0 98.4L413.5 98.7L416.0 98.5L416.0 98.8L406.0 98.8Z" fill="#c9c9cf"/>
<path d="M394 98.8L406.0 98.8L406.0 98.5L407.8 98.7L408.2 98.4L408.6 97.6L409.0 96.1L409.4 93.7L409.8 90.8L410.2 88.2L410.6 87.2L411.0 88.2L411.4 90.8L411.8 93.7L412.2 96.1L412.6 97.6L413.0 98.4L413.5 98.7L416.0 98.5L416.0 98.8L460.6 98.8" fill="none" stroke="#6b6b73" stroke-width="0.9" stroke-linejoin="round"/>
<path d="M408.3 121.0L408.9 115.0L409.5 107.5L410.1 113.0L410.6 116.0L411.2 119.0L411.8 121.0L411.8 121.0L408.3 121.0Z" fill="#d0d0d8"/>
<path d="M408.3 121.0L408.9 115.0L409.5 107.5L410.1 113.0L410.6 116.0L411.2 119.0L411.8 121.0" fill="none" stroke="#44444e" stroke-width="1.0" stroke-linejoin="round" stroke-dasharray="1.2 0.7"/>
<path d="M320.2 121.9h3" stroke="#111" stroke-width="1.2"/>
<path d="M403 121.9h3" stroke="#111" stroke-width="1.2"/>
<path d="M317.9 121.3v1.2M331.2 121.3v1.2M344.6 121.3v1.2M357.9 121.3v1.2M371.2 121.3v1.2M400.7 121.3v1.2M414.0 121.3v1.2M427.4 121.3v1.2M440.7 121.3v1.2M454.0 121.3v1.2" stroke="#333" stroke-width="0.6"/>
<path d="M325.0 225.7L325.4 225.3L325.8 224.3L326.3 221.9L326.7 217.8L327.1 212.2L327.6 207.2L328.0 205.2L328.4 207.2L328.9 212.2L329.3 217.8L329.7 221.9L330.2 224.3L330.6 225.3L331.0 225.7L333.0 225.3L336.0 225.6L336.0 225.8L325.0 225.8Z" fill="#f7c6b4"/>
<path d="M311.2 225.8L325.0 225.8L325.0 225.7L325.4 225.3L325.8 224.3L326.3 221.9L326.7 217.8L327.1 212.2L327.6 207.2L328.0 205.2L328.4 207.2L328.9 212.2L329.3 217.8L329.7 221.9L330.2 224.3L330.6 225.3L331.0 225.7L333.0 225.3L336.0 225.6L336.0 225.8L378 225.8" fill="none" stroke="#e4572e" stroke-width="0.9" stroke-linejoin="round"/>
<path d="M352.6 247.4L354.2 247.3L354.6 246.7L355.1 245.4L355.5 243.3L355.9 240.5L356.3 237.6L356.8 235.2L357.2 234.3L357.6 235.2L358.1 237.6L358.5 240.5L358.9 243.3L359.3 245.4L359.8 246.7L360.2 247.3L359.7 246.2L361.1 247.0L363.5 247.5L363.5 247.8L352.6 247.8Z" fill="#c9c9cf"/>
<path d="M311.2 247.8L352.6 247.8L352.6 247.4L354.2 247.3L354.6 246.7L355.1 245.4L355.5 243.3L355.9 240.5L356.3 237.6L356.8 235.2L357.2 234.3L357.6 235.2L358.1 237.6L358.5 240.5L358.9 243.3L359.3 245.4L359.8 246.7L360.2 247.3L359.7 246.2L361.1 247.0L363.5 247.5L363.5 247.8L378 247.8" fill="none" stroke="#6b6b73" stroke-width="0.9" stroke-linejoin="round"/>
<path d="M358.2 270.0L359.0 266.0L359.8 259.5L360.6 262.0L361.2 260.5L362.0 265.0L362.8 263.5L363.6 266.5L364.4 265.5L365.2 267.5L366.2 267.2L367.0 270.0L367.0 270.0L358.2 270.0Z" fill="#d0d0d8"/>
<path d="M358.2 270.0L359.0 266.0L359.8 259.5L360.6 262.0L361.2 260.5L362.0 265.0L362.8 263.5L363.6 266.5L364.4 265.5L365.2 267.5L366.2 267.2L367.0 270.0" fill="none" stroke="#50505a" stroke-width="0.9" stroke-linejoin="round" stroke-dasharray="1.2 0.7"/>
<path d="M396.0 225.5L409.0 225.2L411.0 224.2L412.5 223.8L415.0 224.5L420.0 224.3L425.0 223.6L430.0 222.4L434.0 220.6L437.0 218.2L440.0 214.8L443.0 210.8L445.0 208.2L446.6 205.5L447.4 205.2L448.4 208.3L449.6 213.8L451.0 220.3L452.3 224.3L454.0 225.4L460.0 225.6L460.0 225.8L396.0 225.8Z" fill="#f7c6b4"/>
<path d="M394 225.8L396.0 225.8L396.0 225.5L409.0 225.2L411.0 224.2L412.5 223.8L415.0 224.5L420.0 224.3L425.0 223.6L430.0 222.4L434.0 220.6L437.0 218.2L440.0 214.8L443.0 210.8L445.0 208.2L446.6 205.5L447.4 205.2L448.4 208.3L449.6 213.8L451.0 220.3L452.3 224.3L454.0 225.4L460.0 225.6L460.0 225.8L460.6 225.8" fill="none" stroke="#e4572e" stroke-width="0.9" stroke-linejoin="round"/>
<path d="M406.0 247.5L407.8 247.6L408.2 247.3L408.6 246.3L409.0 244.3L409.4 241.2L409.8 237.4L410.2 234.1L410.6 232.8L411.0 234.1L411.4 237.4L411.8 241.2L412.2 244.3L412.6 246.3L413.0 247.3L413.5 247.6L416.0 247.5L416.0 247.8L406.0 247.8Z" fill="#c9c9cf"/>
<path d="M394 247.8L406.0 247.8L406.0 247.5L407.8 247.6L408.2 247.3L408.6 246.3L409.0 244.3L409.4 241.2L409.8 237.4L410.2 234.1L410.6 232.8L411.0 234.1L411.4 237.4L411.8 241.2L412.2 244.3L412.6 246.3L413.0 247.3L413.5 247.6L416.0 247.5L416.0 247.8L460.6 247.8" fill="none" stroke="#6b6b73" stroke-width="0.9" stroke-linejoin="round"/>
<path d="M408.3 270.0L408.9 264.0L409.5 256.5L410.1 262.0L410.6 265.0L411.2 268.0L411.8 270.0L411.8 270.0L408.3 270.0Z" fill="#d0d0d8"/>
<path d="M408.3 270.0L408.9 264.0L409.5 256.5L410.1 262.0L410.6 265.0L411.2 268.0L411.8 270.0" fill="none" stroke="#44444e" stroke-width="1.0" stroke-linejoin="round" stroke-dasharray="1.2 0.7"/>
<path d="M320.2 270.9h3" stroke="#111" stroke-width="1.2"/>
<path d="M403 270.9h3" stroke="#111" stroke-width="1.2"/>
<path d="M317.9 270.3v1.2M331.2 270.3v1.2M344.6 270.3v1.2M357.9 270.3v1.2M371.2 270.3v1.2M400.7 270.3v1.2M414.0 270.3v1.2M427.4 270.3v1.2M440.7 270.3v1.2M454.0 270.3v1.2" stroke="#333" stroke-width="0.6"/>
<g filter="url(#fb)">
<path d="M52.0 603.0h0.6M52.5 607.0h0.6M51.5 611.0h0.6M52.2 614.0h0.6M53.0 609.0h0.6M60.0 612.0h0.6" stroke="#555" stroke-width="0.6" fill="none"/>
<path d="M61.0 638.5l-1 .2l-2 .1l-1-.1l-2-.3l-2 .2l-1-.1l-1.5-.4l-1-.4l-1-.5l-.5-.4l-2.7-4l-.4-1l-.1-1l.3-2.5l.4-1l1.6-3l.8-1l.5-.5l.6-.3l1-.4l1.5-.4l1-.2l1 .1l2 .4l2.5-.3l1 .1l1 .3l1 .4l1.3 .8l.7 .6l1.3 1.4l.3 .5l.6 1l.3 1.5l0 1l-.1 2l-.3 1.5l-.4 1.5l-.2 .5l-.3 .5l-1.2 1.1l-1.1 1.4l-.4 .4z" fill="#fff" stroke="#222" stroke-width="0.8"/>
<path d="M60.5 637.8l-1 .2l-1 .1l-1 0l-2.5-.5l-2 .3l-1-.1l-1-.3l-1.5-.6l-.9-.6l-.4-.5l-2.2-3.5l-.4-1l0-1l.2-1.5l1.4-3.5l.7-1l1-1l.6-.3l1-.4l1-.2l1-.2l1 .2l1.5 .3l1 0l2-.1l1 .1l1 .2l1.5 .8l.8 .6l1.7 1.8l.4 .7l.2 .5l.2 1l-.2 3l-.5 2l-.4 1l-.3 .5l-.9 1l-1.2 1.5l-.3 .3z" fill="#fff" stroke="#fff" stroke-width="0"/>
<path d="M59.0 637.3l-1.5 0l-2-.4l-.5 0l-2 .3l-1-.1l-1.5-.5l-1-.5l-.5-.4l-.5-.6l-.8-1.3l-.9-2l-.3-1l-.1-1l.2-1l.7-1.5l.5-1.5l.3-.5l.4-.5l1-1l.5-.3l.5-.3l.5-.1l1-.1l1 0l2 .5l2.5-.1l1 0l1 .2l1 .4l1 .6l2 2.2l.3 .5l.1 .5l.1 1.5l-.2 2l-.6 2l-.5 1l-.3 .5l-1.4 1.5l-.5 .5l-.5 .3z" fill="#333" stroke="#1a1a1a" stroke-width="0.6"/>
<path d="M60.0 635.4l-.5 .2l-1 .1l-.5 0l-1.5-.5l-1 0l-1 .2l-1 .3l-1 .1l-1-.3l-1-.4l-.5-.3l-.6-.5l-.4-.6l-.4-.9l-.2-1.5l-.3-1.5l0-1l.4-1.1l.5-1.1l.5-.6l1-1l.5-.4l.5-.1l.5-.1l1 .1l2.5 .4l2-.1l.5 0l1 .2l1 .4l.5 .3l.5 .4l.9 1.2l.6 1l.1 .5l.1 1l-.2 1l-.9 3l-.6 .8l-.5 .5z" fill="#8c8c8c" stroke="#444" stroke-width="0.3"/>
<path d="M60.0 634.4l-.5 .3l-.5 0l-.5 0l-.5-.1l-2-.9l-.5-.1l-.5 0l-1.5 .9l-.5 .1l-.5 0l-.5-.1l-1.5-.6l-.7-.6l-.2-.5l-.1-.4l-.1-1.6l-.2-1.5l0-.5l.3-.7l.5-.7l.5-.3l2-1.2l.5-.1l.5-.1l1 .2l1.5 .6l.5 0l1-.2l.5 0l2 .6l.5 .4l.5 .5l.3 .5l.3 .5l.1 .5l0 .5l-.8 3.5l-.4 .7z" fill="#c8c8c8" stroke="#2a2a2a" stroke-width="0.5"/>
<path d="M59.5 633.9l-.5 .1l-.5 0l-.5-.2l-.8-.5l-1.2-1.1l-.5-.2l-.5 .1l-.5 .3l-1 .9l-.5 .2l-.5 0l-.8-.2l-.7-.5l-.3-.5l.1-1.5l-.2-1.5l.3-.5l.6-.3l.5-.4l1-1l.5-.3l.5-.1l.5 .2l.4 .4l.6 .9l.5 .4l.5-.1l1-.3l.5 0l1 .5l1 .3l.5 .4l.1 .4l0 1l-.3 2l-.3 .6z" fill="#a8a8a8" stroke="#2a2a2a" stroke-width="0.5"/>
<path d="M53.0 632.9l-.5 0l-.4-.1l-.5-.5l-.1-.5l.2-1.5l.4-1l.9-1.3l.5-.5l.5-.1l.5 .4l.8 2l.1 .5l-.1 .5l-.4 .5l-1.4 1.3zM59.5 633.4l-.5 .3l-.5-.1l-.5-.2l-.6-.6l-.3-.5l-.2-1l0-1l.1-.5l.3-.5l.2-.1l.5 0l1.5 .7l.5 .4l.2 .5l0 .5l-.1 1l-.2 .5z" fill="#333"/>
</g>
<path d="M32.4 588.8h1.3M32.4 600.9h1.3M32.4 612.3h1.3M32.4 622.3h1.3M40.7 648.3v0.9M54.0 648.3v0.9M67.3 648.3v0.9M79.4 648.3v0.9M90.7 648.3v0.9" stroke="#555" stroke-width="0.5"/>
<path d="M32.5 636.4v1.8M46.7 648.9h2.2" stroke="#111" stroke-width="1.1"/>
<g filter="url(#fb)">
<path d="M214.0 607.0h0.6M219.0 611.0h0.6M236.0 628.0h0.6M240.0 612.0h0.6" stroke="#555" stroke-width="0.6" fill="none"/>
<path d="M221.1 638.4l-2.5 .2l-1 0l-.5-.1l-1-.4l-.5-.4l-.5-.4l-.5-.5l-1.5-2l-.5-1l-.4-1.5l-.2-1.5l-.1-2l.1-1l.4-1l.8-1.5l1.4-1.5l1.5-1.3l.5-.3l1-.3l2.5-.2l2-.1l1.5-.2l.2-.1l.3-.4l.3-1.1l.2-.3l.5-.4l.5 0l.5 .3l.3 .4l.2 .5l.2 1.5l.3 .3l1.5 .7l.7 .5l.4 .5l1.7 2.5l.4 1l.3 2l.1 2l-.2 1l-.7 2l-.5 1l-1.2 1.1l-1 .7l-.5 .3l-1 .2l-2.5 .4l-2 .1z" fill="#fff" stroke="#222" stroke-width="0.8"/>
<path d="M220.1 637.8l-2.5 0l-1-.2l-.5-.3l-.6-.5l-1.6-2l-.4-.5l-.2-.5l-.6-2.5l-.1-2l.2-1.5l.7-1.5l.6-1l1-1.1l1.5-1.3l.5-.2l1-.2l2-.1l2 .1l2-.3l.5-.2l.2-.2l-.2-1l0-.5l.3-.5l.2-.2l.5 0l.5 .5l.1 .2l.1 .5l-.2 .7l-.2 .3l-.1 .5l.8 .4l1.5 .5l.5 .4l.6 .7l1.7 2.5l.3 1.5l.4 2.5l-.1 1l-.1 .5l-1.1 2.5l-.4 .5l-.8 .7l-1 .6l-3 .6l-2.5 .2z" fill="#fff" stroke="#fff" stroke-width="0"/>
<path d="M222.1 636.8l-1.5 .3l-1 .1l-2-.2l-.5-.1l-.5-.1l-.5-.4l-.6-.6l-1.1-1.5l-.5-1l-.5-1.5l-.2-1l0-1.5l.2-1l.2-.5l.7-1.5l.8-1.1l.5-.6l1-.8l1-.5l1-.1l1-.1l2.5 .3l2-.4l.5 0l.5 0l2 .6l.6 .2l.6 .5l1.8 2.5l.2 .5l.5 2l.2 1.5l0 .5l-.3 1l-.9 2l-.4 .5l-.8 .7l-.5 .2l-1 .4l-2.5 .6z" fill="#333" stroke="#1a1a1a" stroke-width="0.6"/>
<path d="M220.6 635.9l-.5 0l-.5-.1l-1.5-.5l-1-.3l-.5-.3l-.5-.5l-1-1.9l-.4-1.5l-.2-1.5l.3-1l.5-1l.8-.9l.5-.5l1-.6l1-.5l1.5-.1l2 .2l.5 0l1.5-.6l.5 0l.5 .1l1.1 .4l.9 .6l1 1l.7 .9l.5 1l.2 1l.1 1.5l-.1 1l-.4 1l-.5 .7l-.5 .5l-1 .6l-1.5 .5l-1 .4l-.5 0l-1.5-.1l-.5 .1z" fill="#8c8c8c" stroke="#444" stroke-width="0.3"/>
<path d="M221.6 634.5l-1 .2l-.5 0l-.5-.1l-2-.9l-.6-.4l-.3-.5l-.3-.5l-.5-1.5l-.2-1l0-.5l.1-.5l.3-.6l.5-.6l1-.7l1-.4l1.5-.3l1-.1l1.5 .1l.5-.1l1-.4l.5-.1l.5 .2l1.5 .7l.5 .3l.5 .5l.3 .5l.2 .5l.2 1l.1 1l-.1 1l-.2 1l-.3 .5l-.7 .6l-.5 .3l-1 .3l-1 .2l-2 0z" fill="#c8c8c8" stroke="#2a2a2a" stroke-width="0.5"/>
<path d="M221.6 633.3l-.5 .3l-.5 .1l-.5 0l-.5-.2l-1.5-.7l-.5-.4l-.5-.9l-.4-1.2l0-.5l0-.5l.4-.6l.5-.5l.5-.2l.5-.1l1.5 0l1-.2l1.5 .2l.5 0l1.5-.6l.5-.1l.5 .1l.5 .1l.5 .3l.5 .8l.3 1.3l-.1 1.5l-.1 .5l-.4 .5l-.7 .5l-.5 .1l-1-.1l-1-.3l-.5 0l-.5 .1z" fill="#a8a8a8" stroke="#2a2a2a" stroke-width="0.5"/>
<path d="M221.1 632.9l-.5 .2l-.5 0l-1-.4l-1-.5l-.5-.7l-.3-1.2l0-.5l.2-.5l.1-.2l.5-.4l.5-.1l2 .1l2.5-.1l1.5-.6l.5-.1l.5 0l.5 .2l.2 .2l.3 .4l.2 .6l.1 1l-.2 1l-.4 .5l-.2 .1l-.5 .2l-.5 0l-1.5-.6l-.5-.1l-.5 0l-.5 .3l-.4 .6z" fill="#333"/>
</g>
<path d="M198.0 588.8h1.3M198.0 600.9h1.3M198.0 612.3h1.3M198.0 622.3h1.3M206.3 648.3v0.9M219.8 648.3v0.9M233.4 648.3v0.9M245.5 648.3v0.9M257.0 648.3v0.9" stroke="#555" stroke-width="0.5"/>
<path d="M198.1 636.4v1.8M212.4 648.9h2.2" stroke="#111" stroke-width="1.1"/>
<g filter="url(#fb)">
<path d="M163.0 600.0h0.6M166.0 606.0h0.6M158.0 611.0h0.6M155.0 627.0h0.6M147.0 637.0h0.6" stroke="#555" stroke-width="0.6" fill="none"/>
<path d="M133.1 637.9l-1.5 .3l-1 0l-1-.2l-1-.3l-.7-.4l-.5-.5l-.4-.5l-.2-.5l-.1-.5l-.1-1l.2-1.5l0-.5l-.5-2.5l-.1-1.5l.2-1.5l.8-3l.1-1l-.1-3.5l.1-1.5l.3-2l0-4l.1-1l.4-2l0-.5l-.4-2l-.1-1.5l.3-1.5l.4-1l.8-1l1-.8l1-.5l.5-.1l1-.1l.5 .1l.5 .2l.5 .4l.8 .8l1.2 1.6l.5 .5l.5 .3l.5 .1l2-.7l2-.4l.5-.3l2.5-2l2-1.1l.8-.5l2.2-1.9l1-.6l1.4-.5l.6-.3l1.5-1l1-.6l1-.3l1.5-.1l1 .1l1 .5l.8 .7l.4 .5l.4 1l.2 1l-.1 1l-.3 1.5l0 2.5l-.1 1l-.2 1l-.6 1.2l-.5 .6l-.5 .4l-.5 .1l-.5-.1l-.5-.4l-.3-.3l-.7-1.2l-.5-.6l-.5 .1l-2 1.5l-3 1.7l-.8 .5l-.5 .5l-.3 .5l.1 .5l.7 1.5l.1 .5l.1 1l-.1 1.5l.2 .2l.5 .2l2 .3l1 .4l.6 .4l.6 .5l.3 .5l.1 .5l.1 .5l-.1 .5l-.2 .5l-.4 .5l-.5 .5l-.5 .3l-1 .4l-1.4 .3l-.1 .5l.5 .4l.6 .6l.3 .5l.2 .5l.1 .5l-.1 .5l-.2 .5l-.3 .5l-.6 .5l-1 .5l-.5 .2l-1 .2l-2.9 .1l-1 .5l-.6 .6l-.3 .4l-.1 .5l.3 .5l1.1 1l.4 .5l.3 .5l.3 1l0 .5l-.2 .5l-.2 .5l-.6 .6l-1 .6l-.5 .2l-1 .1l-1 0l-1-.1l-2.5-.5l-1.2 .1l-.3 .1l-.4 .4l-.8 1.5l-.8 .9l-1 .5z" fill="#454545" stroke="#151515" stroke-width="0.7"/>
<path d="M131.6 637.4l-1.5 0l-1-.2l-.5-.3l-.5-.4l-.5-.7l-.2-.5l-.1-.5l.3-2l-.1-.5l-.5-2l-.2-1l0-1l.2-1.5l.3-1l.7-2.5l0-.5l-.2-3l.1-1.5l.4-2.5l-.1-3.5l.1-1l.5-2l0-.5l0-.5l-.6-2l-.1-1.5l.2-1l.5-1l.8-1l1-.7l.5-.2l1-.1l.5 0l.5 .3l.5 .3l.7 .9l.6 1l1.2 2.7l.5 .4l.5-.2l1.5-1.4l1-.6l.5-.2l2-.3l.5-.3l1.4-1.6l.6-.5l1-.6l1.5-.7l.5-.4l1.9-1.8l.6-.4l.5-.3l2-.7l1.5-1.2l1-.7l1-.3l1-.1l1 .1l1 .4l.7 .7l.3 .5l.3 .5l.2 1l0 1l-.2 1.5l.1 2l0 1l-.2 1l-.2 .5l-.5 .9l-.5 .4l-.5 .1l-.5-.1l-.5-.5l-.2-.3l-.5-1l-.3-.8l-.5-.4l-.5 .4l-1.3 1.3l-1.2 .9l-2.5 1.1l-1 .7l-1.7 1.3l-.2 .5l.2 .5l.7 1l.3 .5l.2 1l0 .5l-.1 1l-.4 .8l-.7 1.2l.2 .2l2-.6l1 0l1 .1l.5 .1l1 .5l.7 .7l.2 .5l.1 .5l-.1 .5l-.2 .5l-.7 .7l-1 .5l-1 .2l-1 0l-1-.3l-1.5-.6l-.5 0l-.5 .5l-.2 .5l-.1 .5l.3 .1l3 .7l1.2 .7l.5 .5l.2 .5l.1 .5l-.1 .5l-.2 .5l-.5 .5l-.7 .5l-.5 .2l-1 .2l-1 0l-1-.2l-2.5-.7l-.5 0l-.5 0l-.5 .2l-.2 .3l-.2 .5l0 2l.2 1l.3 .5l1.4 .7l.3 .3l.5 .5l.2 .5l.1 .5l0 .5l-.2 .5l-.3 .5l-.6 .5l-.5 .2l-1 .3l-1 0l-1-.2l-2.7-.8l-2.8-.4l-.5 .2l-.1 .2l-.1 1.5l-.1 .5l-.2 .5l-.5 .5l-1 .7z" fill="#8a8a8a" stroke="#222" stroke-width="0.5"/>
<path d="M130.6 636.8l-1-.2l-.5-.2l-.7-.6l-.2-.5l-.1-.5l0-.5l.2-1l0-.5l-.7-2.5l-.2-1.5l.1-1l.2-1.5l1-2.5l.1-.5l-.4-2.5l0-1l0-1l.4-2l.1-1l-.2-3.5l.1-1l.7-2l0-.5l-.1-.5l-.6-2l-.1-1l.1-1l.4-1l.4-.6l.5-.5l.5-.3l.5-.2l.5-.1l.5 0l.5 .1l.5 .3l.6 .8l.8 1.5l.4 1.5l0 1l-.1 .5l-.6 2l0 .5l.4 2l.5 1.5l.4 .5l.6 .1l.5-.1l.5-.3l.5-.4l.2-.3l.1-.5l-.6-3l.1-1l.1-.5l.5-1l.6-.8l.5-.5l.5-.3l.5-.2l.5-.2l2 0l.5-.3l1.1-1.7l.9-.9l1-.6l1.5-.7l.5-.3l1.5-1.7l1-.7l.5-.3l1.5-.3l.5-.3l1.1-1.2l.9-.7l1-.4l1-.1l1 .2l.5 .3l.8 .7l.2 .5l.3 1l0 1l-.1 1.5l.2 1.5l0 1l-.1 1l-.2 .5l-.3 .5l-.3 .3l-.5 .2l-.5-.2l-.5-.8l-.2-.5l-.4-1.5l-.4-.5l-.5 0l-.5 .4l-1.2 1.6l-.5 .5l-.8 .6l-1 .5l-1.2 .4l-.8 .3l-2.5 1.9l-1.6 .8l-.4 .5l.4 .5l1.1 .7l.8 .8l.2 .5l.1 .5l0 .5l-.1 .5l-.5 .8l-.5 .3l-1 .3l-2 .1l-.5 .3l-.2 .7l0 1.5l-.2 1l-.5 1.5l-.5 1l-.3 .5l-.6 .5l-.7 .4l-1 .2l-.5 .1l-1-.1l-1-.4l-1-.5l-.5-.1l-.5 .4l-.5 .8l-.5 1l-.2 1.2l.1 1l.1 .7l.5 .4l2-2.1l.5-.3l.5-.1l.5-.1l1 .2l1 .5l.5 .3l.5 .5l.3 .5l.3 .5l.2 1l.2 2l.3 .5l.2 .1l1.5 .7l.2 .2l.4 .5l.1 .5l0 .5l-.2 .5l-.6 .5l-.9 .3l-1 .1l-1-.2l-2-.8l-1.5-.4l-1-.3l-1-.7l-1-1.3l-.5 .1l-.5 1l-.4 1.2l0 .5l.6 1.5l0 .5l-.1 .5l-.4 .5l-.7 .5l-1 .4zM152.6 619.0l-.5 .1l-1 .1l-1-.2l-.5-.3l-.5-.4l-.4-.5l-.1-.5l.1-.5l.3-.5l.6-.5l.5-.2l1-.2l1 .1l1 .4l.5 .5l.2 .4l.1 .5l-.1 .5l-.3 .5l-.4 .4zM150.1 624.9l-.5 .2l-1 .1l-1-.1l-.8-.3l-.8-.5l-.3-.5l-.1-.5l.1-.5l.4-.5l.5-.4l1-.4l.5-.1l1 0l1 .3l.9 .6l.3 .5l.1 .5l-.1 .5l-.3 .5l-.4 .4z" fill="#cacaca" stroke="#222" stroke-width="0.5"/>
<path d="M140.6 620.4l-.5 .2l-.5 .2l-.5 0l-.5-.1l-.8-.4l-.5-.5l-.4-.5l-.4-1l-.2-1l.1-1l.5-1l.7-.7l1.7-1.3l0-.5l-.9-2l-.2-1.5l0-1l.1-.5l.6-1l.7-.7l.5-.3l.5-.1l1 0l1.5 .4l.5-.1l.4-.7l.6-1.5l.7-1l.8-.6l2-.8l.5-.5l1.2-1.6l.8-.6l.5-.3l.5-.1l1.5-.2l.5-.5l.9-1.3l.6-.5l.5-.3l.5-.2l1-.1l.5 .1l.5 .2l.4 .3l.4 .5l.3 .5l.1 .5l0 1l-.4 1.5l.1 .5l.3 1l.1 .5l-.1 1l-.2 .6l-.5 .2l-.5-.4l-.3-.9l-.1-1.5l-.1-.1l-.5-.3l-.5 0l-1 .2l-.5 .3l-1.1 1.9l-.4 .5l-1 .7l-1 .4l-1 .2l-.7 .2l-.3 .2l-1.5 1.4l-1 .6l-1 .3l-1.5 .1l-.3 .4l-.1 .5l.1 1l.1 .5l.2 .4l.2 .1l1.3 .4l.5 .3l.2 .3l.2 .5l-.1 .5l-.4 .5l-.4 .2l-.5 0l-.8-.2l-.7-.5l-.5-.1l-.5 .1l-.5 .3l-1 .7l-.1 .5l.6 1.5l.1 .5l.1 .5l-.1 1l-.2 1l-.5 1l-.4 .6zM131.6 635.9l-1 .2l-.5-.1l-.5-.2l-.5-.5l-.1-.5l0-.5l.2-1l0-.5l-1-2.5l-.2-1.5l0-1l.4-1.5l.4-1l.6-1l.2-.5l.1-.5l-.7-2.5l-.1-1.5l.2-1l.4-2l-.2-3l0-1.5l.3-1l.6-1.5l.1-.5l-.1-.5l-.9-2l-.1-1l.1-.5l.3-1l.5-.7l.5-.4l.5-.3l.5-.1l.5 .1l.5 .2l.5 .5l.7 1.2l.3 1l.1 .5l-.1 1l-.2 .5l-.8 1.5l-.1 .5l.1 .5l.8 2.5l.2 1.5l-.1 1l-.4 2l.3 2l-.1 1l-.4 1.5l-.6 1.5l-.3 1l0 .5l.4 1.5l.3 1.5l.1 1l0 1l-.2 1l-1 2l-.1 .5l.1 .5l.5 1l.1 .5l-.2 .5l-.4 .3zM152.6 618.4l-.5 .2l-.5 .1l-.5 0l-.5-.2l-.5-.2l-.5-.5l-.1-.5l.1-.5l.5-.5l.5-.2l.5-.1l.5 0l.9 .3l.5 .5l.2 .5l-.1 .5zM150.1 624.3l-.5 .2l-.5 .2l-1-.1l-.5-.1l-.4-.2l-.5-.5l-.1-.5l.2-.5l.8-.6l1-.2l1 .1l.5 .3l.4 .4l.2 .5l-.1 .5zM143.1 632.9l-.5 .1l-1-.1l-2-.9l-2-.4l-.7-.3l-.6-.5l-.4-.5l-.2-.5l-.3-1l0-.5l0-.5l.4-1l.8-1l.5-.5l.5-.2l.5-.2l.5 0l1 .3l.5 .3l.4 .3l.3 .5l.4 1l.1 1l.1 1.5l.2 .5l.5 .3l1 .4l.5 .3l.2 .5l-.1 .5z" fill="#f0f0f0" stroke="#2a2a2a" stroke-width="0.5"/>
<path d="M157.6 599.4l-.5 .2l-1 0l-1-.1l-.6-.2l-.2-.5l.2-1l.4-1l.7-.6l.5-.3l.5-.1l.5 .1l.5 .1l.4 .3l.3 .5l.2 .5l.1 .5l-.1 .5l-.4 .7zM147.1 606.1l-.5 .2l-.5 0l-.5-.2l-.2-.3l-.2-.5l.1-.5l.3-.8l.5-.6l.5-.3l.5-.2l1.5-.1l.4-.5l.4-1l.5-1l.7-.7l.5-.3l.5-.2l1 0l1 .3l.4 .4l.1 .5l-.1 1l-.5 1l-.4 .6l-.6 .4l-.4 .2l-.5 .2l-.5 0l-1.5-.2l-.5 0l-1.1 1.8l-.4 .5zM132.1 608.1l-.5 .1l-.5-.2l-.5-.6l-.3-.6l-.4-1l0-.5l.1-.5l.2-.5l.4-.5l.5-.4l.5-.1l.5 .1l.5 .4l.6 1l.2 1l0 .5l-.3 .7l-.5 .7zM142.1 611.3l-.5 .3l-.5 .1l-.5 .1l-.5-.2l-.5-.4l-.5-.9l-.1-.5l-.1-1l.3-1l.4-.6l.5-.4l.5-.2l.5-.1l.5 .1l.5 .2l.6 .5l.4 .8l.1 .7l0 1l-.2 .5l-.3 .5zM131.6 622.4l-.5 .2l-.5-.2l-.5-.6l-.4-1l-.1-1l0-1l.4-1l.4-1l.1-.5l-.6-2.5l0-1l.1-1l.1-.5l.5-.9l.5-.4l.5-.1l.5 .4l.5 .7l.5 1.3l.1 1l-.1 1l-.1 .5l-.8 1.5l0 .5l.7 2l0 1l-.1 .5l-.4 1l-.3 .5zM139.6 619.5l-.5 0l-.5-.1l-.5-.4l-.4-.7l-.1-1l.2-1l.3-.6l.5-.4l.5-.3l.5-.1l.5 .1l.6 .3l.4 .6l.1 .4l.1 .5l-.2 1l-.5 1l-.5 .5zM151.6 617.8l-.5 0l-.3-.5l.3-.3l.5 0l.4 .3zM149.1 623.9l-.5 .1l-.5-.2l-.3-.5l.3-.4l.3-.1l.7 0l.5 .5l-.2 .5zM131.1 631.9l-.5 .2l-.5-.1l-.5-.4l-.5-.7l-.3-.6l-.1-.5l-.1-1l.1-1.5l.4-1l.5-.8l.5-.4l.5-.3l.5 0l.5 .3l.5 .8l.4 1.4l.1 1.5l-.1 1l-.2 .5l-.2 .5l-.4 .5zM139.6 631.0l-1 .1l-1-.2l-.8-.6l-.3-.5l-.2-.5l-.1-1l.2-1l.3-.5l.4-.5l.5-.3l.5-.2l.5 0l.5 0l.5 .3l.5 .4l.4 .8l.2 1l-.1 1.5l-.2 .5l-.3 .4z" fill="#c0c0c0" stroke="#2a2a2a" stroke-width="0.45"/>
<path d="M157.1 598.5l-.5 .2l-.5 0l-.6-.4l0-.5l.1-.5l.5-.4l.5-.2l.3 .1l.2 .1l.3 .4l.1 .5l-.2 .5zM151.6 602.8l-.5 0l-.5-.3l-.2-.2l-.1-.5l0-.5l.3-.6l.5-.4l.5-.2l.5 0l.5 .2l.3 .5l.1 .5l-.2 .5l-.3 .5l-.4 .3zM131.6 606.4l-.2-.1l-.3-.5l0-.6l.5-.3l.5 .3l.1 .6l-.1 .4zM141.6 610.0l-.5 .3l-.5 0l-.5-.5l-.1-.5l0-.5l.1-.5l.5-.5l.5-.1l.4 .1l.4 .5l.2 .5l-.1 .5zM131.6 614.6l-.5-.2l-.3-.6l-.1-.5l.1-1l.3-.5l.5-.1l.5 .6l.2 .5l0 .5l0 .5l-.2 .4zM131.1 620.8l-.5-.4l-.2-.6l.1-.5l.1-.5l.5-.4l.5 .2l.3 .7l0 .5l-.2 .5l-.1 .2zM130.6 630.9l-.5-.2l-.4-.4l-.2-.5l-.2-1l.1-1l.2-.7l.5-.7l.5-.2l.5 .1l.4 .5l.3 1l.1 1l-.1 .5l-.2 .8l-.5 .6zM138.6 630.4l-.5-.1l-.5-.2l-.3-.3l-.3-.5l-.1-.5l0-.5l.2-.8l.5-.6l.5-.3l.5-.1l.5 .2l.5 .4l.4 .7l.1 .5l-.2 1l-.2 .5l-.6 .5z" fill="#909090" stroke="#333" stroke-width="0.4"/>
<path d="M151.6 601.6l-.1-.3l.1-.1l.1 .1zM139.1 629.6l-.5 .2l-.5-.1l-.5-.4l-.2-.5l0-.5l.2-.6l.5-.5l.5-.1l.4 .2l.4 .5l.2 .5l-.1 .5l-.2 .5zM130.6 629.8l-.5-.5l-.1-.5l.1-.6l.5-.5l.4 .6l.1 .5l0 .5z" fill="#333"/>
</g>
<path d="M112.0 588.8h1.3M112.0 600.9h1.3M112.0 612.3h1.3M112.0 622.3h1.3M120.3 648.3v0.9M133.7 648.3v0.9M147.1 648.3v0.9M159.2 648.3v0.9M170.5 648.3v0.9" stroke="#555" stroke-width="0.5"/>
<path d="M112.1 636.4v1.8M126.3 648.9h2.2" stroke="#111" stroke-width="1.1"/>
<g filter="url(#fb)">
<path d="M312.0 626.0h0.6M310.5 630.0h0.6M327.0 607.0h0.6" stroke="#555" stroke-width="0.6" fill="none"/>
<path d="M299.4 638.4l-.5 .3l-.5 0l-.5-.2l-1.2-.7l-1.6-.5l-1.2-.2l-1-.4l-1-.6l-.5-.5l-.3-.3l-.3-.5l-.1-.5l-.1-1l.3-1l.3-.5l.5-.5l1.2-1l.3-.5l0-.5l0-2l.2-3l-.1-1l-.3-2.5l-.1-1l.2-6.5l-.1-3.5l.1-1l.4-2l0-1l-.3-2l-.1-1l.2-1.5l.3-1l.3-.5l.6-1l.9-.9l.5-.4l.5-.2l.5-.2l.5-.1l1 0l2.5 .7l1.5 .1l2-.1l2-.1l2.5 0l4-.2l.6-.1l.4-.4l.3-1.1l.3-.5l.6-.5l.8-.4l1-.3l1.5-.1l1.5 .2l1 .3l1 .6l1.5 1.4l1 .8l1.7 1l.5 .5l.4 .5l.6 1l.3 1l.1 .5l-.1 .5l-.3 .5l-.4 .5l-.5 .5l-1.3 .6l-3 1l-3.5 .5l-2 .4l-1.5 .5l-.7 .5l.3 .5l1.4 .8l.9 .7l.4 .5l.5 1l.1 .5l0 1l-.1 .5l-.3 .5l-.5 .7l-.5 .4l-1.3 .9l-.2 .2l-.7 1.3l-.8 1l-1 .7l-1 .3l-1 .1l-1-.1l-2-.5l-.5 0l-.5 .4l0 1.1l.3 2.5l0 1.5l-.2 1.5l-.3 1l-.3 .7l-.9 1.3l-.2 .5l-.8 2.5l-1 2l-.2 1.5l-.1 .5l-.4 .5l-.4 .5z" fill="#808080" stroke="#2a2a2a" stroke-width="0.7"/>
<path d="M298.9 636.8l-1 0l-3-.2l-1.5-.4l-.7-.4l-.7-.5l-.3-.5l-.2-.5l-.1-.5l0-.5l.2-.5l.2-.5l.6-.6l1.3-.9l.3-.5l0-3l.2-1l.5-2l0-.5l0-.5l-.7-2l-.1-1.5l.4-6l-.4-3.5l0-1l.1-1l.5-1.5l.1-1l-.4-2l-.1-1l.1-1l.5-1.5l.7-1l.5-.4l.5-.3l1-.2l1 .1l1.5 .5l.5 .1l2.5-.3l3 .2l1.5 0l2-.1l2.5-.5l2.5-.3l.5-.1l.2-.2l-.1-1.5l.2-.5l.4-.5l.3-.2l1-.4l1-.2l1.5 .1l1 .3l.7 .4l1.5 1.5l.8 .7l.5 .3l1.5 .9l.7 .6l.5 1l0 .5l0 .5l-.2 .5l-.5 .6l-.5 .4l-3.5 1.5l-1 .3l-3 .3l-2.5 .8l-1 .1l-1.5 0l-.5 .1l-.7 .4l-1.8 1.5l-.2 0l2.7 1.1l.5 .1l2-.1l1 .3l.5 .3l.7 .8l.4 1l.1 .5l-.1 .5l-.2 .5l-.4 .5l-.5 .5l-.5 .3l-1.5 .4l-.3 .3l0 1l-.1 .5l-.2 .5l-.4 .5l-.5 .4l-.5 .3l-.5 .1l-1 .1l-1-.3l-.9-.6l-1.1-1.3l-1-.5l-.5-.1l-.5 .3l-.5 .6l-1 1.6l-.5 .3l-.5 0l-.5 .3l-.2 .3l-.2 .5l-.1 1l.1 1l.4 .4l.2-.9l.6-1.5l.2-.3l.5-.6l.5 .1l.5 .3l.5 .7l.5 1.3l.2 1.5l.1 1.5l-.1 1l-.3 1l-.3 .5l-1.1 1.2l-.7 2.8l-.5 1l-.8 1.1l-.5 .4l-.3 .5l.1 1l-.1 .5l-.2 .5l-.5 .5l-1 .6l-.5 .2zM307.2 609.8l1.2-1.1l.5-.4l.2-.5l-.7-.1l-1.5-.6l-1.5-.8l-.5-.2l-.7 .2l.2 .5l.7 1l.5 1l.3 .9l.5 .6l.5-.2zM301.9 606.8l0-.1l-.5 0l0 .1z" fill="#c0c0c0" stroke="#444" stroke-width="0.45"/>
<path d="M299.4 635.9l-1 .2l-1 0l-2.5-.2l-1-.2l-.7-.4l-.6-.5l-.3-.5l-.1-.5l.1-.5l.1-.3l.5-.7l.5-.3l1.2-.7l.2-.5l-.2-2l.1-1.5l.3-1l1-2l.1-.5l-.1-.5l-1-2l-.3-1l0-.5l.1-2.5l.5-3l-.1-1l-.4-2.5l-.2-1l.1-1l.8-2.5l0-.5l-.5-2l-.1-1l.1-1l.3-1l.6-.8l.5-.3l.5-.2l.5-.1l1 .2l1 .4l.5 .2l.5 0l1.5-.5l.5-.1l1 0l1 .2l1.5 .6l.5 0l2.5-.2l1-.2l1.8-.7l1.2-.3l2.5-.1l.5-.2l.5-.4l.1-.5l-.5-1l0-.5l.2-.5l.2-.2l.5-.3l1-.3l1 .1l1 .3l.6 .4l.9 1l.6 .5l1.4 1.1l1.5 .8l.5 .5l.3 .6l.1 .5l-.2 .5l-.4 .5l-.3 .2l-2 .8l-1 .6l-1 .3l-1 .1l-2 0l-.5 .2l-1.5 .7l-1 .2l-1 .1l-1.5-.1l-.5 .1l-1.5 1l-1 .4l-1 .1l-1-.2l-1-.5l-1-.7l-.5-.2l-2 .3l-1-.2l-1-.3l-.5 0l-.5 .4l-.4 .7l-.2 .5l0 .5l0 .5l.4 1.5l.1 1l-.1 3.5l.1 .5l.8 2l.1 1l0 3.5l-.1 1.5l-.3 1.5l.2 .5l.4 .2l1.5 .5l1 .6l.3-.3l.1-2l.1-1l.5-1.1l.5-.3l.5 .2l.3 .7l.3 1l.1 1l-.1 1l-.1 .5l-.3 .5l-.2 .3l-.5 .3l-.5 0l-.3 .4l-.1 2l-.2 1l-.3 1l-.3 .5l-.3 .4l-.5 .4l-.5 .3l-.5 0l-1-.1l-.5 .2l-.3 .3l0 .5l1 1l.2 .5l0 .5l-.4 .5zM303.9 615.9l-.5 .1l-.5-.1l-.5-.5l-.3-.6l-.2-1l.1-3l.1-1l.2-.5l.2-.5l.4-.4l.5-.2l.5 .1l.5 .7l.4 1.3l.3 1.5l0 1.5l-.2 1l-.4 1zM315.4 613.4l-.5 .1l-.5-.1l-.5-.2l-.7-.4l-.4-.5l-.2-.5l0-.5l.1-.5l.5-.5l.2-.2l.5-.2l.5-.1l.5-.1l.5 .1l.8 .5l.3 .5l.2 .5l.1 .5l-.2 .5l-.3 .5l-.4 .4zM311.9 617.4l-.5 .1l-.5 0l-.5-.2l-.6-.5l-.3-.5l-.1-.5l.1-.5l.2-.5l.2-.2l.5-.4l.5-.1l.5-.1l.5 .1l.5 .3l.5 .4l.3 .5l.1 .5l-.1 .5l-.3 .5l-.5 .4z" fill="#e8e8e8" stroke="#3a3a3a" stroke-width="0.45"/>
<path d="M297.4 613.7l-.5 .1l-.5-.8l-.7-1.7l-.3-1.5l.2-1l.1-.5l.7-1.1l.4-.4l.2-.5l-.1-.1l-.1-.4l-.9-1.5l-.2-1l-.1-.5l.2-1l.2-.5l.4-.5l.5-.3l.5-.1l.5 0l.5 .2l1 .8l.5 .3l1.5-1.1l.5-.2l1-.1l1 .2l.5 .2l1.5 1.1l.5 0l1-.3l1-.1l2 .2l.5-.3l1-1l1-.5l1-.2l2 .1l.5-.1l.8-.8l.4-.5l.3-.5l-.2-.5l-.4-.5l-.1-.5l.2-.2l.4-.3l.6-.1l.5 .1l.5 .3l.2 .2l.3 .5l.4 .5l1.1 .6l1.5 1.1l1.3 .8l.4 .5l0 .5l-.4 .5l-1.3 .5l-1 .7l-1 .4l-1 .1l-2-.2l-.5 .1l-1.5 .9l-.5 .3l-1 .2l-1-.1l-1.5-.4l-.5 .1l-.8 .9l-.6 .5l-.6 .3l-.5 .1l-1-.1l-.5-.1l-.5-.3l-.5-.4l-.5-.7l-.5-.3l-.5 .1l-1.5 .5l-.5 0l-.5 0l-.5-.2l-.5-.3l-.8-.6l-.2-.2l-.5-.1l-1 1.8l-.5 .8l-.5 .5l-.2 .2l-.1 .5l.3 .4l.7 1.6l.1 1.5l-.1 1l-.2 .8l-.5 1zM314.9 612.4l-.5-.2l-.4-.4l0-.5l.4-.5l.5 0l.1 0l.4 .2l.2 .3l0 .5l-.2 .4zM298.4 622.6l-.5 .2l-.5-.1l-.5-.2l-.5-.5l-.5-.7l-.4-1l-.1-.5l0-1l.3-2l.3-1l.4-.8l.2-.2l.3-.4l.5 0l1 .9l.7 1l.4 1l.2 2l-.1 1.5l-.4 1l-.3 .4zM311.9 616.6l-.5 .1l-.5-.1l-.3-.3l-.1-.5l.2-.5l.2-.1l.5-.1l.6 .2l.3 .5l-.1 .5zM297.4 632.0l-.5-.1l-.5-.2l-.5-.7l-.3-.7l-.3-1l0-1l.2-1l.4-1l.3-.5l.7-.7l.5-.2l.5 0l.5 .1l1 .8l.5 .2l1.5-.6l.5 0l.5 .2l.6 .7l.3 .5l.1 1l-.1 1l-.1 .5l-.2 .5l-.3 .5l-.3 .3l-.5 .2l-.5 .1l-1-.3l-.5-.1l-.5 .2l-1 .8zM298.9 634.8l-.5 .3l-.5 .1l-3-.1l-.5-.1l-.5-.2l-.5-.5l-.1-.5l.1-.5l.5-.6l.5-.2l.5-.1l.5 0l.5 .1l2.7 1.3l.4 .5z" fill="#fafafa" stroke="#3a3a3a" stroke-width="0.45"/>
<path d="M320.9 602.0l-.5 .1l-1 0l-.9-.3l-.7-.5l-.3-.5l0-.5l.2-.5l.3-.5l.4-.5l.5-.3l.5-.2l.5 0l.5 .1l.5 .2l.5 .3l.5 .4l.3 .5l.2 .5l-.1 .5l-.4 .5l-.5 .5zM314.9 603.4l-.5 .1l-.5 0l-.5-.2l-.7-.5l-.2-.5l0-.5l.1-.5l.4-.5l.4-.2l.5-.2l.5 0l.5 .1l.8 .3l.5 .5l.1 .5l-.1 .5l-.4 .5l-.4 .4zM303.9 603.3l-.5 .2l-.5 .1l-.5-.1l-.4-.2l-.4-.5l-.2-.5l.1-.5l.4-.5l.5-.2l.5 0l.5 .1l.3 .1l.6 .5l.2 .5l-.1 .5zM297.9 604.0l-.5 .1l-.3-.3l-.3-.5l-.1-.5l.1-.5l.1-.2l.5-.4l.5 .2l.3 .4l.1 .5l0 .5zM309.4 604.4l-.5 .3l-.5 .1l-.5-.1l-.6-.4l-.2-.5l-.1-.5l.4-.5l.5-.3l.5 0l.5 .1l.4 .2l.4 .5l0 .5zM297.4 610.4l-.5 0l-.1-.6l.1-.5l.5 .3zM297.9 621.1l-.5 .1l-.5-.3l-.5-.9l-.1-.7l0-1l.2-1l.4-.6l.5-.1l.5 .2l.4 .5l.3 1l.1 1l-.2 1l-.2 .5zM297.9 630.5l-.5 .1l-.5-.1l-.2-.2l-.4-.5l-.2-.5l-.1-.5l.1-1l.3-.7l.5-.6l.5-.3l.5 .1l.5 .2l.7 .8l.6 1l-.5 1l-.4 .5l-.4 .4zM301.9 629.7l-.5 0l-.5-.2l-.7-.7l-.2-.5l.2-.5l.4-.5l.3-.3l.5-.4l.5 0l.3 .2l.2 .2l.2 .3l.1 .5l0 .5l-.1 .5l-.2 .4z" fill="#d0d0d0" stroke="#444" stroke-width="0.4"/>
<path d="M320.4 601.4l-.5 0l-.5-.1l-.5-.3l-.2-.2l-.2-.5l.1-.5l.3-.5l.5-.2l.5-.1l.5 .1l.5 .3l.4 .4l.1 .5l-.2 .5l-.3 .4zM314.4 602.8l-.5-.1l-.4-.4l-.1-.5l.4-.5l.6-.2l.5 .2l.4 .5l-.1 .5l-.3 .3zM302.9 602.7l-.4-.4l.4-.3l.5 .3zM297.9 629.5l-.5 .2l-.5-.3l-.3-.6l.1-.5l.1-.5l.1-.2l.5-.4l.5 .1l.5 .5l.1 .5l-.1 .6z" fill="#555"/>
</g>
<path d="M278.29999999999995 588.8h1.3M278.29999999999995 600.9h1.3M278.29999999999995 612.3h1.3M278.29999999999995 622.3h1.3M286.5 648.3v0.9M299.8 648.3v0.9M313.1 648.3v0.9M325.1 648.3v0.9M336.3 648.3v0.9" stroke="#555" stroke-width="0.5"/>
<path d="M278.4 636.4v1.8M292.5 648.9h2.2" stroke="#111" stroke-width="1.1"/>
<text x="-0.7" y="10.9" font-size="12.4" text-anchor="start" fill="#111" font-weight="bold" textLength="9.7" lengthAdjust="spacingAndGlyphs" stroke="#111" stroke-width="0.45">A</text>
<text x="0.8" y="463.4" font-size="12.8" text-anchor="start" fill="#111" font-weight="bold" textLength="8.2" lengthAdjust="spacingAndGlyphs" stroke="#111" stroke-width="0.45">B</text>
<text x="150.7" y="11.9" font-size="8.4" text-anchor="middle" fill="#1c1a1b" textLength="64.5" lengthAdjust="spacingAndGlyphs" stroke="#1c1a1b" stroke-width="0.16">CD3<tspan dy="-3.02" font-size="6.05">+</tspan><tspan dy="3.02"> cells at D0</tspan></text>
<path d="M34 16.9H270" stroke="#3a3a3a" stroke-width="1.0" fill="none"/>
<text x="193.5" y="29.8" font-size="8.4" text-anchor="middle" fill="#1c1a1b" textLength="80.5" lengthAdjust="spacingAndGlyphs" stroke="#1c1a1b" stroke-width="0.16">Stimulation for 6 days</text>
<path d="M120 35.6H270" stroke="#3a3a3a" stroke-width="1.0" fill="none"/>
<text x="67.5" y="48" font-size="8.4" text-anchor="middle" fill="#1c1a1b" textLength="24.5" lengthAdjust="spacingAndGlyphs" stroke="#1c1a1b" stroke-width="0.16">Ex vivo</text>
<text x="153.5" y="48" font-size="8.4" text-anchor="middle" fill="#1c1a1b" textLength="42" lengthAdjust="spacingAndGlyphs" stroke="#1c1a1b" stroke-width="0.16">No peptide</text>
<text x="233.5" y="48" font-size="8.4" text-anchor="middle" fill="#1c1a1b" textLength="28.5" lengthAdjust="spacingAndGlyphs" stroke="#1c1a1b" stroke-width="0.16">Peptide</text>
<rect x="34" y="54.5" width="66.40" height="66.90" stroke="#444" stroke-width="0.9" fill="none"/>
<rect x="68.1" y="57.2" width="29.90" height="29.60" stroke="#333" stroke-width="0.95" fill="none"/>
<rect x="120.6" y="54.5" width="66.30" height="66.90" stroke="#444" stroke-width="0.9" fill="none"/>
<rect x="154.6" y="57.2" width="29.90" height="29.60" stroke="#333" stroke-width="0.95" fill="none"/>
<rect x="199.7" y="54.5" width="66.70" height="66.90" stroke="#444" stroke-width="0.9" fill="none"/>
<rect x="234.20000000000002" y="57.2" width="29.90" height="29.60" stroke="#333" stroke-width="0.95" fill="none"/>
<path d="M27.3 120.3V65.5" stroke="#444" stroke-width="1.35" fill="none"/>
<path d="M27.3 60.5L23.900000000000002 69.0L27.3 67.1L30.7 69.0Z" fill="#1a1a1a"/>
<g transform="translate(20.9,90.5) rotate(-90)">
<text x="0" y="0" font-size="10.2" text-anchor="middle" fill="#1c1a1b" textLength="34" lengthAdjust="spacingAndGlyphs" stroke="#1c1a1b" stroke-width="0.38">Pentamer<tspan dy="-3.67" font-size="7.34">+</tspan></text>
</g>
<path d="M34 128.3H257" stroke="#444" stroke-width="1.35" fill="none"/>
<path d="M262 128.3L253.5 124.9L255.4 128.3L253.5 131.70000000000002Z" fill="#1a1a1a"/>
<text x="141.5" y="140.8" font-size="10.2" text-anchor="start" fill="#1c1a1b" textLength="13" lengthAdjust="spacingAndGlyphs" stroke="#1c1a1b" stroke-width="0.38">CD8</text>
<text x="385.5" y="44" font-size="8.4" text-anchor="middle" fill="#1c1a1b" textLength="114" lengthAdjust="spacingAndGlyphs" stroke="#1c1a1b" stroke-width="0.16">Pentamer<tspan dy="-3.02" font-size="6.05">+</tspan><tspan dy="3.02"> CD8</tspan><tspan dy="-3.02" font-size="6.05">+</tspan><tspan dy="3.02"> T cells at D0</tspan></text>
<path d="M311 50.6H460.8" stroke="#444" stroke-width="1.3" fill="none"/>
<rect x="311.2" y="54.6" width="66.80" height="66.60" stroke="#333" stroke-width="0.9" fill="none"/>
<rect x="394" y="54.6" width="66.60" height="66.60" stroke="#333" stroke-width="0.9" fill="none"/>
<text x="307.5" y="73" font-size="8.4" text-anchor="end" fill="#3b5e9a" textLength="14.5" lengthAdjust="spacingAndGlyphs" stroke="#3b5e9a" stroke-width="0.16">Pep</text>
<text x="307.5" y="95.3" font-size="8.4" text-anchor="end" fill="#1c1a1b" textLength="27.5" lengthAdjust="spacingAndGlyphs" stroke="#1c1a1b" stroke-width="0.16">No pep</text>
<text x="307.5" y="117.6" font-size="8.4" text-anchor="end" fill="#1c1a1b" textLength="25" lengthAdjust="spacingAndGlyphs" stroke="#1c1a1b" stroke-width="0.16">Ex vivo</text>
<path d="M311.2 128.4H373" stroke="#444" stroke-width="1.35" fill="none"/>
<path d="M378 128.4L369.5 125.0L371.4 128.4L369.5 131.8Z" fill="#1a1a1a"/>
<path d="M394 128.4H455.6" stroke="#444" stroke-width="1.35" fill="none"/>
<path d="M460.6 128.4L452.1 125.0L454.0 128.4L452.1 131.8Z" fill="#1a1a1a"/>
<text x="311" y="139.2" font-size="10.2" text-anchor="start" fill="#1c1a1b" textLength="12.5" lengthAdjust="spacingAndGlyphs" stroke="#1c1a1b" stroke-width="0.38">CTV</text>
<text x="394" y="139.2" font-size="10.2" text-anchor="start" fill="#1c1a1b" textLength="17" lengthAdjust="spacingAndGlyphs" stroke="#1c1a1b" stroke-width="0.38">Ki-67</text>
<text x="150.7" y="160.9" font-size="8.4" text-anchor="middle" fill="#1c1a1b" textLength="69" lengthAdjust="spacingAndGlyphs" stroke="#1c1a1b" stroke-width="0.16">CD3<tspan dy="-3.02" font-size="6.05">+</tspan><tspan dy="3.02"> cells at D21</tspan></text>
<path d="M34 165.9H270" stroke="#3a3a3a" stroke-width="1.0" fill="none"/>
<text x="193.5" y="178.8" font-size="8.4" text-anchor="middle" fill="#1c1a1b" textLength="80.5" lengthAdjust="spacingAndGlyphs" stroke="#1c1a1b" stroke-width="0.16">Stimulation for 6 days</text>
<path d="M120 184.6H270" stroke="#3a3a3a" stroke-width="1.0" fill="none"/>
<text x="67.5" y="197" font-size="8.4" text-anchor="middle" fill="#1c1a1b" textLength="24.5" lengthAdjust="spacingAndGlyphs" stroke="#1c1a1b" stroke-width="0.16">Ex vivo</text>
<text x="153.5" y="197" font-size="8.4" text-anchor="middle" fill="#1c1a1b" textLength="42" lengthAdjust="spacingAndGlyphs" stroke="#1c1a1b" stroke-width="0.16">No peptide</text>
<text x="233.5" y="197" font-size="8.4" text-anchor="middle" fill="#1c1a1b" textLength="28.5" lengthAdjust="spacingAndGlyphs" stroke="#1c1a1b" stroke-width="0.16">Peptide</text>
<rect x="34" y="203.05" width="66.40" height="66.90" stroke="#444" stroke-width="0.9" fill="none"/>
<rect x="68.1" y="205.75" width="29.90" height="29.60" stroke="#333" stroke-width="0.95" fill="none"/>
<rect x="120.6" y="203.05" width="66.30" height="66.90" stroke="#444" stroke-width="0.9" fill="none"/>
<rect x="154.6" y="205.75" width="29.90" height="29.60" stroke="#333" stroke-width="0.95" fill="none"/>
<rect x="199.7" y="203.05" width="66.70" height="66.90" stroke="#444" stroke-width="0.9" fill="none"/>
<rect x="234.20000000000002" y="205.75" width="29.90" height="29.60" stroke="#333" stroke-width="0.95" fill="none"/>
<path d="M27.3 268.35V213.35000000000002" stroke="#444" stroke-width="1.35" fill="none"/>
<path d="M27.3 208.35000000000002L23.900000000000002 216.85000000000002L27.3 214.95000000000002L30.7 216.85000000000002Z" fill="#1a1a1a"/>
<g transform="translate(20.9,239.5) rotate(-90)">
<text x="0" y="0" font-size="10.2" text-anchor="middle" fill="#1c1a1b" textLength="34" lengthAdjust="spacingAndGlyphs" stroke="#1c1a1b" stroke-width="0.38">Pentamer<tspan dy="-3.67" font-size="7.34">+</tspan></text>
</g>
<path d="M34 277.5H257" stroke="#444" stroke-width="1.35" fill="none"/>
<path d="M262 277.5L253.5 274.1L255.4 277.5L253.5 280.9Z" fill="#1a1a1a"/>
<text x="141.5" y="289.8" font-size="10.2" text-anchor="start" fill="#1c1a1b" textLength="13" lengthAdjust="spacingAndGlyphs" stroke="#1c1a1b" stroke-width="0.38">CD8</text>
<text x="385.5" y="193" font-size="8.4" text-anchor="middle" fill="#1c1a1b" textLength="118.5" lengthAdjust="spacingAndGlyphs" stroke="#1c1a1b" stroke-width="0.16">Pentamer<tspan dy="-3.02" font-size="6.05">+</tspan><tspan dy="3.02"> CD8</tspan><tspan dy="-3.02" font-size="6.05">+</tspan><tspan dy="3.02"> T cells at D21</tspan></text>
<path d="M311 199.6H460.8" stroke="#444" stroke-width="1.3" fill="none"/>
<rect x="311.2" y="203.6" width="66.80" height="66.60" stroke="#333" stroke-width="0.9" fill="none"/>
<rect x="394" y="203.6" width="66.60" height="66.60" stroke="#333" stroke-width="0.9" fill="none"/>
<text x="307.5" y="222" font-size="8.4" text-anchor="end" fill="#cf2e4a" textLength="14.5" lengthAdjust="spacingAndGlyphs" stroke="#cf2e4a" stroke-width="0.16">Pep</text>
<text x="307.5" y="244.3" font-size="8.4" text-anchor="end" fill="#1c1a1b" textLength="27.5" lengthAdjust="spacingAndGlyphs" stroke="#1c1a1b" stroke-width="0.16">No pep</text>
<text x="307.5" y="266.6" font-size="8.4" text-anchor="end" fill="#1c1a1b" textLength="25" lengthAdjust="spacingAndGlyphs" stroke="#1c1a1b" stroke-width="0.16">Ex vivo</text>
<path d="M311.2 277.4H373" stroke="#444" stroke-width="1.35" fill="none"/>
<path d="M378 277.4L369.5 274.0L371.4 277.4L369.5 280.79999999999995Z" fill="#1a1a1a"/>
<path d="M394 277.4H455.6" stroke="#444" stroke-width="1.35" fill="none"/>
<path d="M460.6 277.4L452.1 274.0L454.0 277.4L452.1 280.79999999999995Z" fill="#1a1a1a"/>
<text x="311" y="288.2" font-size="10.2" text-anchor="start" fill="#1c1a1b" textLength="12.5" lengthAdjust="spacingAndGlyphs" stroke="#1c1a1b" stroke-width="0.38">CTV</text>
<text x="394" y="288.2" font-size="10.2" text-anchor="start" fill="#1c1a1b" textLength="17" lengthAdjust="spacingAndGlyphs" stroke="#1c1a1b" stroke-width="0.38">Ki-67</text>
<path d="M55.2 398.0v3.2M82.3 398.0v3.2M127.6 398.0v3.2M154.6 398.0v3.2" stroke="#222" stroke-width="0.9"/>
<path d="M37 304.7V398.0H172.5" stroke="#222" stroke-width="1.0" fill="none"/>
<path d="M33.8 398.00H37" stroke="#222" stroke-width="0.9"/>
<text x="31.1" y="401.0" font-size="8.4" text-anchor="end" fill="#1c1a1b" textLength="5.0" lengthAdjust="spacingAndGlyphs" stroke="#1c1a1b" stroke-width="0.16">0</text>
<path d="M33.8 379.80H37" stroke="#222" stroke-width="0.9"/>
<text x="31.1" y="382.8" font-size="8.4" text-anchor="end" fill="#1c1a1b" textLength="10.3" lengthAdjust="spacingAndGlyphs" stroke="#1c1a1b" stroke-width="0.16">20</text>
<path d="M33.8 361.60H37" stroke="#222" stroke-width="0.9"/>
<text x="31.1" y="364.6" font-size="8.4" text-anchor="end" fill="#1c1a1b" textLength="10.3" lengthAdjust="spacingAndGlyphs" stroke="#1c1a1b" stroke-width="0.16">40</text>
<path d="M33.8 343.40H37" stroke="#222" stroke-width="0.9"/>
<text x="31.1" y="346.4" font-size="8.4" text-anchor="end" fill="#1c1a1b" textLength="10.3" lengthAdjust="spacingAndGlyphs" stroke="#1c1a1b" stroke-width="0.16">60</text>
<path d="M33.8 325.20H37" stroke="#222" stroke-width="0.9"/>
<text x="31.1" y="328.2" font-size="8.4" text-anchor="end" fill="#1c1a1b" textLength="10.3" lengthAdjust="spacingAndGlyphs" stroke="#1c1a1b" stroke-width="0.16">80</text>
<path d="M33.8 307.00H37" stroke="#222" stroke-width="0.9"/>
<text x="31.1" y="310.0" font-size="8.4" text-anchor="end" fill="#1c1a1b" textLength="14.6" lengthAdjust="spacingAndGlyphs" stroke="#1c1a1b" stroke-width="0.16">100</text>
<g transform="translate(9.5,354.2) rotate(-90)">
<text x="0" y="0" font-size="9.6" text-anchor="middle" fill="#1c1a1b" textLength="70.6" lengthAdjust="spacingAndGlyphs" stroke="#1c1a1b" stroke-width="0.38">% of CTV diluted cells</text>
</g>
<path d="M45 397.82H64.5" stroke="#222" stroke-width="0.8" fill="none"/>
<rect x="46.00" y="396.02" width="3.6" height="3.6" fill="#1f4e8c"/>
<circle cx="54.7" cy="397.82" r="1.9" fill="#c4122f"/>
<path d="M62.3 395.62L64.50 399.58H60.10Z" fill="#3aaa35"/>
<path d="M71 309.91H94.3" stroke="#222" stroke-width="0.8" fill="none"/>
<path d="M79 309.71L81.20 313.67H76.80Z" fill="#3aaa35"/>
<circle cx="79" cy="307.64" r="1.9" fill="#c4122f"/>
<rect x="83.70" y="308.11" width="3.6" height="3.6" fill="#1f4e8c"/>
<path d="M117.5 397.82H137.5" stroke="#222" stroke-width="0.8" fill="none"/>
<rect x="118.20" y="396.02" width="3.6" height="3.6" fill="#1f4e8c"/>
<circle cx="127.4" cy="397.82" r="1.9" fill="#c4122f"/>
<path d="M135 395.62L137.20 399.58H132.80Z" fill="#3aaa35"/>
<path d="M143.5 309.91H166" stroke="#222" stroke-width="0.8" fill="none"/>
<circle cx="147.8" cy="311.73" r="1.9" fill="#c4122f"/>
<rect x="152.90" y="306.47" width="3.6" height="3.6" fill="#1f4e8c"/>
<path d="M162 307.71L164.20 311.67H159.80Z" fill="#3aaa35"/>
<text x="55.2" y="412.3" font-size="8.4" text-anchor="middle" fill="#1c1a1b" textLength="27.5" lengthAdjust="spacingAndGlyphs" stroke="#1c1a1b" stroke-width="0.16">No pep</text>
<text x="82.3" y="412.3" font-size="8.4" text-anchor="middle" fill="#1c1a1b" textLength="14.5" lengthAdjust="spacingAndGlyphs" stroke="#1c1a1b" stroke-width="0.16">Pep</text>
<text x="127.6" y="412.3" font-size="8.4" text-anchor="middle" fill="#1c1a1b" textLength="27.5" lengthAdjust="spacingAndGlyphs" stroke="#1c1a1b" stroke-width="0.16">No pep</text>
<text x="154.6" y="412.3" font-size="8.4" text-anchor="middle" fill="#1c1a1b" textLength="14.5" lengthAdjust="spacingAndGlyphs" stroke="#1c1a1b" stroke-width="0.16">Pep</text>
<path d="M38 417.2H90.5" stroke="#333" stroke-width="0.9" fill="none"/>
<path d="M110.3 417.2H163.2" stroke="#333" stroke-width="0.9" fill="none"/>
<text x="66" y="428.0" font-size="8.4" text-anchor="middle" fill="#1c1a1b" textLength="11" lengthAdjust="spacingAndGlyphs" stroke="#1c1a1b" stroke-width="0.16">D0</text>
<text x="137.5" y="428.0" font-size="8.4" text-anchor="middle" fill="#1c1a1b" textLength="15.5" lengthAdjust="spacingAndGlyphs" stroke="#1c1a1b" stroke-width="0.16">D21</text>
<path d="M244.4 398.0v3.2M270.8 398.0v3.2M316.4 398.0v3.2M343.4 398.0v3.2" stroke="#222" stroke-width="0.9"/>
<path d="M225.3 304.7V398.0H362" stroke="#222" stroke-width="1.0" fill="none"/>
<path d="M222.10000000000002 398.00H225.3" stroke="#222" stroke-width="0.9"/>
<text x="219.4" y="401.0" font-size="8.4" text-anchor="end" fill="#1c1a1b" textLength="5.0" lengthAdjust="spacingAndGlyphs" stroke="#1c1a1b" stroke-width="0.16">0</text>
<path d="M222.10000000000002 379.80H225.3" stroke="#222" stroke-width="0.9"/>
<text x="219.4" y="382.8" font-size="8.4" text-anchor="end" fill="#1c1a1b" textLength="10.3" lengthAdjust="spacingAndGlyphs" stroke="#1c1a1b" stroke-width="0.16">20</text>
<path d="M222.10000000000002 361.60H225.3" stroke="#222" stroke-width="0.9"/>
<text x="219.4" y="364.6" font-size="8.4" text-anchor="end" fill="#1c1a1b" textLength="10.3" lengthAdjust="spacingAndGlyphs" stroke="#1c1a1b" stroke-width="0.16">40</text>
<path d="M222.10000000000002 343.40H225.3" stroke="#222" stroke-width="0.9"/>
<text x="219.4" y="346.4" font-size="8.4" text-anchor="end" fill="#1c1a1b" textLength="10.3" lengthAdjust="spacingAndGlyphs" stroke="#1c1a1b" stroke-width="0.16">60</text>
<path d="M222.10000000000002 325.20H225.3" stroke="#222" stroke-width="0.9"/>
<text x="219.4" y="328.2" font-size="8.4" text-anchor="end" fill="#1c1a1b" textLength="10.3" lengthAdjust="spacingAndGlyphs" stroke="#1c1a1b" stroke-width="0.16">80</text>
<path d="M222.10000000000002 307.00H225.3" stroke="#222" stroke-width="0.9"/>
<text x="219.4" y="310.0" font-size="8.4" text-anchor="end" fill="#1c1a1b" textLength="14.6" lengthAdjust="spacingAndGlyphs" stroke="#1c1a1b" stroke-width="0.16">100</text>
<g transform="translate(198.9,353.4) rotate(-90)">
<text x="0" y="0" font-size="9.6" text-anchor="middle" fill="#1c1a1b" textLength="54.2" lengthAdjust="spacingAndGlyphs" stroke="#1c1a1b" stroke-width="0.38">% of Ki-67<tspan dy="-3.46" font-size="6.91">+</tspan><tspan dy="3.46"> cells</tspan></text>
</g>
<path d="M233 397.18H255" stroke="#222" stroke-width="0.8" fill="none"/>
<circle cx="235.8" cy="396.91" r="1.9" fill="#c4122f"/>
<path d="M243.5 395.53L245.70 399.49H241.30Z" fill="#3aaa35"/>
<rect x="249.20" y="395.11" width="3.6" height="3.6" fill="#1f4e8c"/>
<path d="M260.5 310.46H283.6" stroke="#222" stroke-width="0.8" fill="none"/>
<circle cx="267.6" cy="309.18" r="1.9" fill="#c4122f"/>
<path d="M271.8 316.63L274.00 320.59H269.60Z" fill="#3aaa35"/>
<rect x="273.40" y="308.66" width="3.6" height="3.6" fill="#1f4e8c"/>
<path d="M306 397.18H327" stroke="#222" stroke-width="0.8" fill="none"/>
<circle cx="309" cy="396.91" r="1.9" fill="#c4122f"/>
<rect x="314.40" y="395.11" width="3.6" height="3.6" fill="#1f4e8c"/>
<path d="M323.8 395.35L326.00 399.31H321.60Z" fill="#3aaa35"/>
<path d="M332.3 310.46H355.5" stroke="#222" stroke-width="0.8" fill="none"/>
<circle cx="340" cy="309.55" r="1.9" fill="#c4122f"/>
<path d="M343.7 314.36L345.90 318.32H341.50Z" fill="#3aaa35"/>
<rect x="345.20" y="308.66" width="3.6" height="3.6" fill="#1f4e8c"/>
<text x="244.4" y="412.3" font-size="8.4" text-anchor="middle" fill="#1c1a1b" textLength="27.5" lengthAdjust="spacingAndGlyphs" stroke="#1c1a1b" stroke-width="0.16">No pep</text>
<text x="270.8" y="412.3" font-size="8.4" text-anchor="middle" fill="#1c1a1b" textLength="14.5" lengthAdjust="spacingAndGlyphs" stroke="#1c1a1b" stroke-width="0.16">Pep</text>
<text x="316.4" y="412.3" font-size="8.4" text-anchor="middle" fill="#1c1a1b" textLength="27.5" lengthAdjust="spacingAndGlyphs" stroke="#1c1a1b" stroke-width="0.16">No pep</text>
<text x="343.4" y="412.3" font-size="8.4" text-anchor="middle" fill="#1c1a1b" textLength="14.5" lengthAdjust="spacingAndGlyphs" stroke="#1c1a1b" stroke-width="0.16">Pep</text>
<path d="M226.5 417.2H279" stroke="#333" stroke-width="0.9" fill="none"/>
<path d="M298.6 417.2H351" stroke="#333" stroke-width="0.9" fill="none"/>
<text x="253.3" y="428.0" font-size="8.4" text-anchor="middle" fill="#1c1a1b" textLength="11" lengthAdjust="spacingAndGlyphs" stroke="#1c1a1b" stroke-width="0.16">D0</text>
<text x="325.5" y="428.0" font-size="8.4" text-anchor="middle" fill="#1c1a1b" textLength="15.5" lengthAdjust="spacingAndGlyphs" stroke="#1c1a1b" stroke-width="0.16">D21</text>
<circle cx="370.4" cy="340" r="1.7" fill="#c4122f"/>
<text x="375.2" y="342.6" font-size="7.4" text-anchor="start" fill="#1c1a1b" textLength="17.5" lengthAdjust="spacingAndGlyphs" stroke="#1c1a1b" stroke-width="0.16">S207</text>
<rect x="368.75" y="348.95" width="3.3" height="3.3" fill="#1f4e8c"/>
<text x="375.2" y="353.2" font-size="7.4" text-anchor="start" fill="#1c1a1b" textLength="17.5" lengthAdjust="spacingAndGlyphs" stroke="#1c1a1b" stroke-width="0.16">S213</text>
<path d="M370.4 359.30L372.40 362.90H368.40Z" fill="#3aaa35"/>
<text x="375.2" y="363.8" font-size="7.4" text-anchor="start" fill="#1c1a1b" textLength="17.5" lengthAdjust="spacingAndGlyphs" stroke="#1c1a1b" stroke-width="0.16">S305</text>
<text x="108" y="464.2" font-size="8.4" text-anchor="middle" fill="#1c1a1b" textLength="64.5" lengthAdjust="spacingAndGlyphs" stroke="#1c1a1b" stroke-width="0.16">CD3<tspan dy="-3.02" font-size="6.05">+</tspan><tspan dy="3.02"> cells at D0</tspan></text>
<text x="273" y="464.2" font-size="8.4" text-anchor="middle" fill="#1c1a1b" textLength="69" lengthAdjust="spacingAndGlyphs" stroke="#1c1a1b" stroke-width="0.16">CD3<tspan dy="-3.02" font-size="6.05">+</tspan><tspan dy="3.02"> cells at D21</tspan></text>
<path d="M34 470H181.5" stroke="#3a3a3a" stroke-width="1.0" fill="none"/>
<path d="M199.5 470H346.6" stroke="#3a3a3a" stroke-width="1.0" fill="none"/>
<text x="67.3" y="480.8" font-size="8.4" text-anchor="middle" fill="#1c1a1b" textLength="42" lengthAdjust="spacingAndGlyphs" stroke="#1c1a1b" stroke-width="0.16">No peptide</text>
<text x="147.5" y="480.8" font-size="8.4" text-anchor="middle" fill="#1c1a1b" textLength="28.5" lengthAdjust="spacingAndGlyphs" stroke="#1c1a1b" stroke-width="0.16">Peptide</text>
<text x="233.3" y="480.8" font-size="8.4" text-anchor="middle" fill="#1c1a1b" textLength="42" lengthAdjust="spacingAndGlyphs" stroke="#1c1a1b" stroke-width="0.16">No peptide</text>
<text x="313.2" y="480.8" font-size="8.4" text-anchor="middle" fill="#1c1a1b" textLength="28.5" lengthAdjust="spacingAndGlyphs" stroke="#1c1a1b" stroke-width="0.16">Peptide</text>
<rect x="34" y="486.6" width="66.70" height="66.60" stroke="#444" stroke-width="0.9" fill="none"/>
<rect x="63.7" y="492.9" width="29.30" height="24.50" stroke="#333" stroke-width="0.95" fill="none"/>
<rect x="34" y="580.8" width="66.70" height="67.00" stroke="#444" stroke-width="0.9" fill="none"/>
<path d="M63.8 580.8V647.8" stroke="#333" stroke-width="0.8" fill="none"/>
<path d="M34 618.1H100.7" stroke="#333" stroke-width="0.8" fill="none"/>
<rect x="113.6" y="486.6" width="67.00" height="66.60" stroke="#444" stroke-width="0.9" fill="none"/>
<rect x="143.29999999999998" y="492.9" width="29.30" height="24.50" stroke="#333" stroke-width="0.95" fill="none"/>
<rect x="113.6" y="580.8" width="67.00" height="67.00" stroke="#444" stroke-width="0.9" fill="none"/>
<path d="M143.4 580.8V647.8" stroke="#333" stroke-width="0.8" fill="none"/>
<path d="M113.6 618.1H180.6" stroke="#333" stroke-width="0.8" fill="none"/>
<rect x="199.8" y="486.6" width="67.20" height="66.60" stroke="#444" stroke-width="0.9" fill="none"/>
<rect x="229.5" y="492.9" width="29.30" height="24.50" stroke="#333" stroke-width="0.95" fill="none"/>
<rect x="199.8" y="580.8" width="67.20" height="67.00" stroke="#444" stroke-width="0.9" fill="none"/>
<path d="M229.60000000000002 580.8V647.8" stroke="#333" stroke-width="0.8" fill="none"/>
<path d="M199.8 618.1H267.0" stroke="#333" stroke-width="0.8" fill="none"/>
<rect x="279.9" y="486.6" width="66.40" height="66.60" stroke="#444" stroke-width="0.9" fill="none"/>
<rect x="309.59999999999997" y="492.9" width="29.30" height="24.50" stroke="#333" stroke-width="0.95" fill="none"/>
<rect x="279.9" y="580.8" width="66.40" height="67.00" stroke="#444" stroke-width="0.9" fill="none"/>
<path d="M309.7 580.8V647.8" stroke="#333" stroke-width="0.8" fill="none"/>
<path d="M279.9 618.1H346.3" stroke="#333" stroke-width="0.8" fill="none"/>
<path d="M27.3 552.5V499" stroke="#444" stroke-width="1.35" fill="none"/>
<path d="M27.3 494L23.900000000000002 502.5L27.3 500.6L30.7 502.5Z" fill="#1a1a1a"/>
<path d="M27.3 646.8V591.2" stroke="#444" stroke-width="1.35" fill="none"/>
<path d="M27.3 586.2L23.900000000000002 594.7L27.3 592.8000000000001L30.7 594.7Z" fill="#1a1a1a"/>
<g transform="translate(20.9,522.5) rotate(-90)">
<text x="0" y="0" font-size="10.2" text-anchor="middle" fill="#1c1a1b" textLength="34" lengthAdjust="spacingAndGlyphs" stroke="#1c1a1b" stroke-width="0.38">Pentamer<tspan dy="-3.67" font-size="7.34">+</tspan></text>
</g>
<g transform="translate(19.5,616.3) rotate(-90)">
<text x="0" y="0" font-size="9.8" text-anchor="middle" fill="#1c1a1b" textLength="15.5" lengthAdjust="spacingAndGlyphs" stroke="#1c1a1b" stroke-width="0.38">IFN<tspan dy="2.16" font-size="6.66">γ</tspan></text>
</g>
<path d="M34 560.8H341" stroke="#444" stroke-width="1.35" fill="none"/>
<path d="M346 560.8L337.5 557.4L339.4 560.8L337.5 564.1999999999999Z" fill="#1a1a1a"/>
<path d="M34 655.4H341" stroke="#444" stroke-width="1.35" fill="none"/>
<path d="M346 655.4L337.5 652.0L339.4 655.4L337.5 658.8Z" fill="#1a1a1a"/>
<text x="183.6" y="574.8" font-size="10.2" text-anchor="start" fill="#1c1a1b" textLength="13" lengthAdjust="spacingAndGlyphs" stroke="#1c1a1b" stroke-width="0.38">CD8</text>
<text x="183.6" y="667" font-size="10.2" text-anchor="start" fill="#1c1a1b" textLength="12.5" lengthAdjust="spacingAndGlyphs" stroke="#1c1a1b" stroke-width="0.38">TNF</text>
<text x="42.5" y="501.5" font-size="8.4" text-anchor="start" fill="#1c1a1b" textLength="16.6" lengthAdjust="spacingAndGlyphs" stroke="#1c1a1b" stroke-width="0.16">0.13</text>
<text x="38" y="593" font-size="8.4" text-anchor="start" fill="#1c1a1b" textLength="17.3" lengthAdjust="spacingAndGlyphs" stroke="#1c1a1b" stroke-width="0.16">0.82</text>
<text x="99.5" y="593" font-size="8.4" text-anchor="end" fill="#1c1a1b" textLength="5.0" lengthAdjust="spacingAndGlyphs" stroke="#1c1a1b" stroke-width="0.16">0</text>
<text x="38" y="646.3" font-size="8.4" text-anchor="start" fill="#1c1a1b" textLength="17.3" lengthAdjust="spacingAndGlyphs" stroke="#1c1a1b" stroke-width="0.16">98.7</text>
<text x="99.5" y="646.3" font-size="8.4" text-anchor="end" fill="#1c1a1b" textLength="17.3" lengthAdjust="spacingAndGlyphs" stroke="#1c1a1b" stroke-width="0.16">0.49</text>
<text x="117.6" y="501.5" font-size="8.4" text-anchor="start" fill="#1c1a1b" textLength="22.2" lengthAdjust="spacingAndGlyphs" stroke="#1c1a1b" stroke-width="0.16">0.097</text>
<text x="117.6" y="593" font-size="8.4" text-anchor="start" fill="#1c1a1b" textLength="17.3" lengthAdjust="spacingAndGlyphs" stroke="#1c1a1b" stroke-width="0.16">33.0</text>
<text x="179.4" y="593" font-size="8.4" text-anchor="end" fill="#1c1a1b" textLength="16.6" lengthAdjust="spacingAndGlyphs" stroke="#1c1a1b" stroke-width="0.16">15.9</text>
<text x="117.6" y="646.3" font-size="8.4" text-anchor="start" fill="#1c1a1b" textLength="16.6" lengthAdjust="spacingAndGlyphs" stroke="#1c1a1b" stroke-width="0.16">48.1</text>
<text x="179.4" y="646.3" font-size="8.4" text-anchor="end" fill="#1c1a1b" textLength="17.3" lengthAdjust="spacingAndGlyphs" stroke="#1c1a1b" stroke-width="0.16">2.99</text>
<text x="203.8" y="501.5" font-size="8.4" text-anchor="start" fill="#1c1a1b" textLength="22.2" lengthAdjust="spacingAndGlyphs" stroke="#1c1a1b" stroke-width="0.16">0.098</text>
<text x="203.8" y="593" font-size="8.4" text-anchor="start" fill="#1c1a1b" textLength="16.6" lengthAdjust="spacingAndGlyphs" stroke="#1c1a1b" stroke-width="0.16">2.15</text>
<text x="265.8" y="593" font-size="8.4" text-anchor="end" fill="#1c1a1b" textLength="16.6" lengthAdjust="spacingAndGlyphs" stroke="#1c1a1b" stroke-width="0.16">0.21</text>
<text x="203.8" y="646.3" font-size="8.4" text-anchor="start" fill="#1c1a1b" textLength="17.3" lengthAdjust="spacingAndGlyphs" stroke="#1c1a1b" stroke-width="0.16">97.0</text>
<text x="265.8" y="646.3" font-size="8.4" text-anchor="end" fill="#1c1a1b" textLength="17.3" lengthAdjust="spacingAndGlyphs" stroke="#1c1a1b" stroke-width="0.16">0.64</text>
<text x="283.9" y="501.5" font-size="8.4" text-anchor="start" fill="#1c1a1b" textLength="22.2" lengthAdjust="spacingAndGlyphs" stroke="#1c1a1b" stroke-width="0.16">0.065</text>
<text x="283.9" y="593" font-size="8.4" text-anchor="start" fill="#1c1a1b" textLength="17.3" lengthAdjust="spacingAndGlyphs" stroke="#1c1a1b" stroke-width="0.16">30.5</text>
<text x="345.1" y="593" font-size="8.4" text-anchor="end" fill="#1c1a1b" textLength="17.3" lengthAdjust="spacingAndGlyphs" stroke="#1c1a1b" stroke-width="0.16">20.6</text>
<text x="283.9" y="646.3" font-size="8.4" text-anchor="start" fill="#1c1a1b" textLength="17.3" lengthAdjust="spacingAndGlyphs" stroke="#1c1a1b" stroke-width="0.16">47.4</text>
<text x="345.1" y="646.3" font-size="8.4" text-anchor="end" fill="#1c1a1b" textLength="16.6" lengthAdjust="spacingAndGlyphs" stroke="#1c1a1b" stroke-width="0.16">1.54</text>
<text x="47.8" y="65.7" font-size="8.4" text-anchor="start" fill="#1c1a1b" textLength="16.6" lengthAdjust="spacingAndGlyphs" stroke="#1c1a1b" stroke-width="0.16">0.12</text>
<text x="129.0" y="65.7" font-size="8.4" text-anchor="start" fill="#1c1a1b" textLength="22.2" lengthAdjust="spacingAndGlyphs" stroke="#1c1a1b" stroke-width="0.16">0.046</text>
<text x="214.0" y="65.7" font-size="8.4" text-anchor="start" fill="#1c1a1b" textLength="16.6" lengthAdjust="spacingAndGlyphs" stroke="#1c1a1b" stroke-width="0.16">5.15</text>
<text x="42.6" y="214.3" font-size="8.4" text-anchor="start" fill="#1c1a1b" textLength="22.2" lengthAdjust="spacingAndGlyphs" stroke="#1c1a1b" stroke-width="0.16">0.098</text>
<text x="129.0" y="214.3" font-size="8.4" text-anchor="start" fill="#1c1a1b" textLength="21.6" lengthAdjust="spacingAndGlyphs" stroke="#1c1a1b" stroke-width="0.16">0.041</text>
<text x="214.0" y="214.3" font-size="8.4" text-anchor="start" fill="#1c1a1b" textLength="16.6" lengthAdjust="spacingAndGlyphs" stroke="#1c1a1b" stroke-width="0.16">4.18</text>
<path d="M412.2 520.6L412.20 488.30A32.3 32.3 0 0 1 440.50 536.16Z" fill="#c4122f"/>
<path d="M412.2 520.6L440.50 536.16A32.3 32.3 0 0 1 437.09 541.19Z" fill="#1f4e8c"/>
<path d="M412.2 520.6L437.09 541.19A32.3 32.3 0 0 1 408.35 552.67Z" fill="#3aaa35"/>
<path d="M412.2 520.6L408.35 552.67A32.3 32.3 0 0 1 412.20 488.30Z" fill="#c8c8cd"/>
<path d="M412.2 520.6V488.3" stroke="#f4f4f6" stroke-width="0.6"/>
<text x="429" y="515.8000000000001" font-size="8.8" text-anchor="middle" fill="#fff" textLength="18.0" lengthAdjust="spacingAndGlyphs" stroke="#fff" stroke-width="0.25">33.0</text>
<text x="435.3" y="532.5" font-size="8.8" text-anchor="middle" fill="#fff" textLength="12.9" lengthAdjust="spacingAndGlyphs" stroke="#fff" stroke-width="0.25">3.0</text>
<text x="422" y="544.6" font-size="8.8" text-anchor="middle" fill="#fff" textLength="17.3" lengthAdjust="spacingAndGlyphs" stroke="#fff" stroke-width="0.25">15.9</text>
<text x="396" y="523.9" font-size="8.8" text-anchor="middle" fill="#1c1a1b" textLength="17.3" lengthAdjust="spacingAndGlyphs" stroke="#1c1a1b" stroke-width="0.16">48.1</text>
<path d="M487.6 520.6L487.60 488.30A32.3 32.3 0 0 1 517.99 531.54Z" fill="#c4122f"/>
<path d="M487.6 520.6L517.99 531.54A32.3 32.3 0 0 1 516.83 534.35Z" fill="#1f4e8c"/>
<path d="M487.6 520.6L516.83 534.35A32.3 32.3 0 0 1 482.35 552.47Z" fill="#3aaa35"/>
<path d="M487.6 520.6L482.35 552.47A32.3 32.3 0 0 1 487.60 488.30Z" fill="#c8c8cd"/>
<path d="M487.6 520.6V488.3" stroke="#f4f4f6" stroke-width="0.6"/>
<text x="502" y="514.1" font-size="8.8" text-anchor="middle" fill="#fff" textLength="18.0" lengthAdjust="spacingAndGlyphs" stroke="#fff" stroke-width="0.25">30.5</text>
<text x="510.8" y="528.8000000000001" font-size="8.8" text-anchor="middle" fill="#fff" textLength="12.2" lengthAdjust="spacingAndGlyphs" stroke="#fff" stroke-width="0.25">1.5</text>
<text x="498.4" y="539.7" font-size="8.8" text-anchor="middle" fill="#fff" textLength="18.0" lengthAdjust="spacingAndGlyphs" stroke="#fff" stroke-width="0.25">20.6</text>
<text x="470.8" y="524.4" font-size="8.8" text-anchor="middle" fill="#1c1a1b" textLength="18.0" lengthAdjust="spacingAndGlyphs" stroke="#1c1a1b" stroke-width="0.16">47.4</text>
<path d="M412.6 614.3L412.60 582.10A32.2 32.2 0 0 1 443.63 605.71Z" fill="#c4122f"/>
<path d="M412.6 614.3L443.63 605.71A32.2 32.2 0 0 1 444.02 607.28Z" fill="#1f4e8c"/>
<path d="M412.6 614.3L444.02 607.28A32.2 32.2 0 0 1 442.90 625.21Z" fill="#3aaa35"/>
<path d="M412.6 614.3L442.90 625.21A32.2 32.2 0 1 1 412.60 582.10Z" fill="#c8c8cd"/>
<path d="M412.6 614.3V582.0999999999999" stroke="#f4f4f6" stroke-width="0.6"/>
<text x="424" y="599.1" font-size="8.8" text-anchor="middle" fill="#fff" textLength="18.0" lengthAdjust="spacingAndGlyphs" stroke="#fff" stroke-width="0.25">20.7</text>
<text x="435.8" y="608.8000000000001" font-size="8.8" text-anchor="middle" fill="#fff" textLength="12.9" lengthAdjust="spacingAndGlyphs" stroke="#fff" stroke-width="0.25">0.8</text>
<text x="434" y="618.9" font-size="8.8" text-anchor="middle" fill="#fff" textLength="12.9" lengthAdjust="spacingAndGlyphs" stroke="#fff" stroke-width="0.25">9.0</text>
<text x="396.8" y="621.7" font-size="8.8" text-anchor="middle" fill="#1c1a1b" textLength="18.0" lengthAdjust="spacingAndGlyphs" stroke="#1c1a1b" stroke-width="0.16">69.5</text>
<path d="M488 614.3L488.00 582.10A32.2 32.2 0 0 1 519.55 607.87Z" fill="#c4122f"/>
<path d="M488 614.3L519.55 607.87A32.2 32.2 0 0 1 520.04 611.07Z" fill="#1f4e8c"/>
<path d="M488 614.3L520.04 611.07A32.2 32.2 0 0 1 508.99 638.72Z" fill="#3aaa35"/>
<path d="M488 614.3L508.99 638.72A32.2 32.2 0 1 1 488.00 582.10Z" fill="#c8c8cd"/>
<path d="M488 614.3V582.0999999999999" stroke="#f4f4f6" stroke-width="0.6"/>
<text x="499.8" y="600.7" font-size="8.8" text-anchor="middle" fill="#fff" textLength="17.3" lengthAdjust="spacingAndGlyphs" stroke="#fff" stroke-width="0.25">21.8</text>
<text x="511.3" y="610.8000000000001" font-size="8.8" text-anchor="middle" fill="#fff" textLength="12.2" lengthAdjust="spacingAndGlyphs" stroke="#fff" stroke-width="0.25">1.6</text>
<text x="505" y="623.8000000000001" font-size="8.8" text-anchor="middle" fill="#fff" textLength="17.3" lengthAdjust="spacingAndGlyphs" stroke="#fff" stroke-width="0.25">15.3</text>
<text x="472.9" y="620.1" font-size="8.8" text-anchor="middle" fill="#1c1a1b" textLength="17.3" lengthAdjust="spacingAndGlyphs" stroke="#1c1a1b" stroke-width="0.16">61.3</text>
<text x="411.3" y="483.4" font-size="8.4" text-anchor="middle" fill="#1c1a1b" textLength="11" lengthAdjust="spacingAndGlyphs" stroke="#1c1a1b" stroke-width="0.16">D0</text>
<text x="486.8" y="483.4" font-size="8.4" text-anchor="middle" fill="#1c1a1b" textLength="15.5" lengthAdjust="spacingAndGlyphs" stroke="#1c1a1b" stroke-width="0.16">D21</text>
<text x="355.5" y="523.4" font-size="8.4" text-anchor="start" fill="#1c1a1b" textLength="20.8" lengthAdjust="spacingAndGlyphs" stroke="#1c1a1b" stroke-width="0.16">S213</text>
<text x="355.5" y="617" font-size="8.4" text-anchor="start" fill="#1c1a1b" textLength="20.8" lengthAdjust="spacingAndGlyphs" stroke="#1c1a1b" stroke-width="0.16">S305</text>
<rect x="388" y="453" width="7.2" height="4.4" fill="#c4122f"/>
<text x="398.2" y="458.0" font-size="7.0" text-anchor="start" fill="#1c1a1b" textLength="44" lengthAdjust="spacingAndGlyphs" stroke="#1c1a1b" stroke-width="0.16">IFNγ<tspan dy="-2.52" font-size="5.04">+</tspan><tspan dy="2.52"> only [%]</tspan></text>
<rect x="450.8" y="453" width="7.2" height="4.4" fill="#3aaa35"/>
<text x="461.0" y="458.0" font-size="7.0" text-anchor="start" fill="#1c1a1b" textLength="47" lengthAdjust="spacingAndGlyphs" stroke="#1c1a1b" stroke-width="0.16">IFNγ<tspan dy="-2.52" font-size="5.04">+</tspan><tspan dy="2.52">/TNF</tspan><tspan dy="-2.52" font-size="5.04">+</tspan><tspan dy="2.52"> [%]</tspan></text>
<rect x="388" y="465.4" width="7.2" height="4.4" fill="#1f4e8c"/>
<text x="398.2" y="470.4" font-size="7.0" text-anchor="start" fill="#1c1a1b" textLength="44" lengthAdjust="spacingAndGlyphs" stroke="#1c1a1b" stroke-width="0.16">TNF<tspan dy="-2.52" font-size="5.04">+</tspan><tspan dy="2.52"> only [%]</tspan></text>
<rect x="450.8" y="465.4" width="7.2" height="4.4" fill="#c8c8cd"/>
<text x="461.0" y="470.4" font-size="7.0" text-anchor="start" fill="#1c1a1b" textLength="47" lengthAdjust="spacingAndGlyphs" stroke="#1c1a1b" stroke-width="0.16">IFNγ<tspan dy="-2.52" font-size="5.04">-</tspan><tspan dy="2.52">/TNF</tspan><tspan dy="-2.52" font-size="5.04">-</tspan><tspan dy="2.52"> [%]</tspan></text>
</g>
</svg>
</body></html>
